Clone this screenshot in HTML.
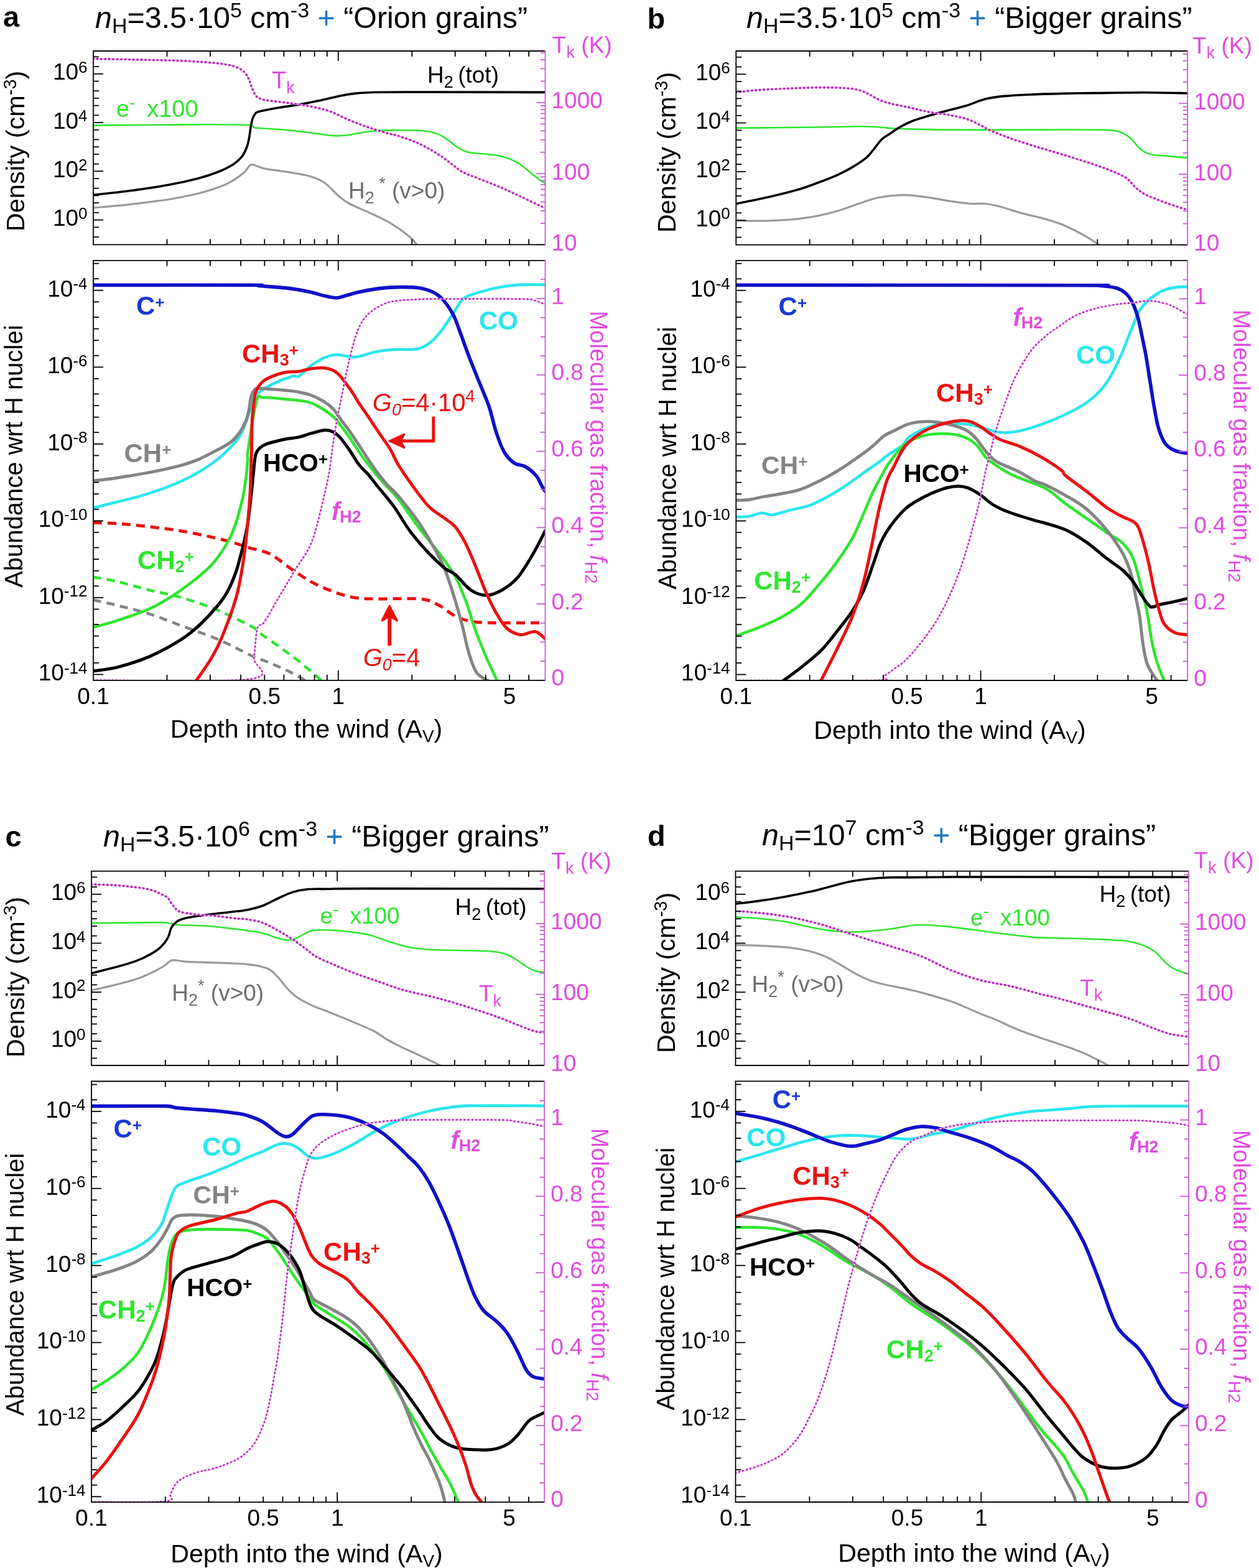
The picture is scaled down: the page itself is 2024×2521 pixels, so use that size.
<!DOCTYPE html>
<html><head><meta charset="utf-8"><title>Figure</title>
<style>html,body{margin:0;padding:0;background:#fff;}svg{display:block;}</style>
</head><body>
<svg xmlns="http://www.w3.org/2000/svg" width="2024" height="2521" viewBox="0 0 2024 2521" font-family='"Liberation Sans", Arial, Helvetica, sans-serif'>
<rect width="2024" height="2521" fill="#fff"/>
<clipPath id="ca1"><rect x="150" y="82" width="726.5" height="311.3"/></clipPath>
<clipPath id="ca2"><rect x="150" y="418.8" width="726.5" height="675"/></clipPath>
<path d="M150 201.6C169.8 201.4 238.3 200.8 269 200.6C299.7 200.4 312.4 200.1 334 200.2C355.6 200.3 386.3 200.2 398.8 201.1C411.3 201.9 405.5 204.3 409 205.2C412.5 206.1 410.7 205.5 420 206.2C429.3 206.9 450.5 208.1 464.7 209.4C478.9 210.8 493 212.8 505.1 214.3C517.2 215.8 528 217.9 537.5 218.3C547 218.7 552.4 217.9 561.8 216.7C571.2 215.5 583.3 212.5 594.1 211.3C604.9 210.1 612.2 209.6 626.5 209.4C640.8 209.2 667 209.1 680 210.2C693 211.3 697.9 213.3 704.7 215.9C711.5 218.5 715.5 222 720.9 225.6C726.3 229.2 731.6 234.5 737 237.7C742.4 240.9 745.1 243.2 753.2 245C761.3 246.8 776.2 247 785.6 248.2C795 249.4 801.7 249.9 809.8 252.3C817.9 254.7 826 257.8 834.1 262.8C842.2 267.8 851.3 276.8 858.4 282.2C865.5 287.6 873.5 293 876.5 295.1" fill="none" stroke="#2ee62e" stroke-width="2.6" stroke-linecap="round" stroke-linejoin="round" clip-path="url(#ca1)"/>
<path d="M150 334C159.1 333.2 184.8 331.3 204.7 329.1C224.6 326.9 250.5 324 269.4 321C288.3 318 304.5 314.5 318 311.3C331.5 308.1 340.9 305.1 350.3 301.6C359.7 298.1 367.6 294.4 374.6 290.3C381.6 286.2 388.3 280.8 392.3 277.3C396.3 273.8 396.6 271.4 398.8 269.3C401 267.2 401.2 264.2 405.5 264.5C409.8 264.8 415.8 269 424.3 270.9C432.8 272.8 444.5 273.7 456.6 275.7C468.7 277.7 486.2 280 497 283C507.8 286 513.2 288 521.3 293.5C529.4 299 538.9 310.5 545.6 316.2C552.4 321.9 553.7 323.2 561.8 327.5C569.9 331.8 583.3 337 594.1 342.1C604.9 347.2 615.7 351.7 626.5 358.2C637.3 364.7 651.2 374.6 658.8 380.9C666.4 387.2 669.8 393.5 672 396" fill="none" stroke="#9a9a9a" stroke-width="3.2" stroke-linecap="round" stroke-linejoin="round" clip-path="url(#ca1)"/>
<path d="M150 313.3C159.1 312.3 184.8 309.9 204.7 307.3C224.6 304.7 250.5 301 269.4 297.6C288.3 294.2 304.5 290.5 318 287C331.5 283.5 340.9 280.3 350.3 276.5C359.7 272.7 368.1 268.6 374.6 264.4C381.1 260.2 385.4 256.2 389.1 251.5C392.8 246.8 395.1 240.9 397 236C398.9 231.1 399.5 227.2 400.5 222C401.5 216.8 402.1 210.2 403 205C403.9 199.8 404.8 194.6 406 191C407.2 187.4 408.3 185.4 410 183.5C411.7 181.6 409.6 181.2 416 179.5C422.4 177.8 437.7 174.9 448.5 173C459.3 171.1 470.1 170.1 480.9 168.2C491.7 166.3 502.4 164 513.2 161.7C524 159.4 536.2 156.3 545.6 154.4C555 152.5 559 151.4 569.8 150.4C580.6 149.4 591.9 148.7 610.3 148.3C628.7 147.9 635.6 148 680 148C724.4 148 843.8 148.3 876.5 148.4" fill="none" stroke="#000" stroke-width="3.6" stroke-linecap="round" stroke-linejoin="round" clip-path="url(#ca1)"/>
<path d="M150 94.6C169.9 95 238.7 96.1 269.4 97C300.1 97.9 317.9 99 334.1 100.2C350.3 101.4 358.4 102.8 366.5 104.3C374.6 105.8 378 106.9 382.6 109.1C387.2 111.2 391 114 394 117.2C397 120.4 398.5 124.4 400.4 128.5C402.3 132.6 403.4 137.7 405.3 142C407.2 146.3 409.4 151.5 411.8 154.4C414.2 157.3 416.6 158.1 420 159.3C423.4 160.5 424.9 160.6 432.4 161.7C439.8 162.8 453.9 164.2 464.7 165.7C475.5 167.2 486.2 168.4 497 170.6C507.8 172.8 518.6 174.9 529.4 178.7C540.2 182.5 551 188.8 561.8 193.2C572.6 197.6 583.3 201.8 594.1 205.4C604.9 209.1 618.9 212.9 626.5 215.1C634.1 217.2 632.4 215.8 640 218.3C647.6 220.9 661.6 225.4 672.4 230.4C683.2 235.4 695.3 242.3 704.7 248.2C714.1 254.1 722.3 261.1 729 266C735.7 270.9 738.4 273.8 745.1 277.3C751.8 280.8 760 283.3 769.4 287.1C778.8 290.9 791 295.4 801.8 300C812.6 304.6 821.6 308.8 834.1 314.6C846.6 320.4 869.4 331.4 876.5 334.8" fill="none" stroke="#f7b4f7" stroke-width="2.5999999999999996" stroke-linecap="round" stroke-linejoin="round" clip-path="url(#ca1)"/>
<path d="M150 94.6C169.9 95 238.7 96.1 269.4 97C300.1 97.9 317.9 99 334.1 100.2C350.3 101.4 358.4 102.8 366.5 104.3C374.6 105.8 378 106.9 382.6 109.1C387.2 111.2 391 114 394 117.2C397 120.4 398.5 124.4 400.4 128.5C402.3 132.6 403.4 137.7 405.3 142C407.2 146.3 409.4 151.5 411.8 154.4C414.2 157.3 416.6 158.1 420 159.3C423.4 160.5 424.9 160.6 432.4 161.7C439.8 162.8 453.9 164.2 464.7 165.7C475.5 167.2 486.2 168.4 497 170.6C507.8 172.8 518.6 174.9 529.4 178.7C540.2 182.5 551 188.8 561.8 193.2C572.6 197.6 583.3 201.8 594.1 205.4C604.9 209.1 618.9 212.9 626.5 215.1C634.1 217.2 632.4 215.8 640 218.3C647.6 220.9 661.6 225.4 672.4 230.4C683.2 235.4 695.3 242.3 704.7 248.2C714.1 254.1 722.3 261.1 729 266C735.7 270.9 738.4 273.8 745.1 277.3C751.8 280.8 760 283.3 769.4 287.1C778.8 290.9 791 295.4 801.8 300C812.6 304.6 821.6 308.8 834.1 314.6C846.6 320.4 869.4 331.4 876.5 334.8" fill="none" stroke="#b226b2" stroke-width="3.9" stroke-linecap="round" stroke-linejoin="round" stroke-dasharray="0 6.45" clip-path="url(#ca1)"/>
<text x="560" y="319.4" font-size="37" fill="#6e6e6e" text-anchor="start" font-weight="normal" font-style="normal">H<tspan font-size="27" dy="8">2</tspan><tspan dy="-8">​</tspan><tspan> </tspan><tspan font-size="27" dy="-15">*</tspan><tspan dy="15">​</tspan> (v&gt;0)</text>
<text x="437" y="141.5" font-size="38" fill="#e04ce0" text-anchor="start" font-weight="normal" font-style="normal">T<tspan font-size="27" dy="8">k</tspan><tspan dy="-8">​</tspan></text>
<text x="687" y="132.6" font-size="37" fill="#000" text-anchor="start" font-weight="normal" font-style="normal">H<tspan font-size="27" dy="8">2</tspan><tspan dy="-8">​</tspan> (tot)</text>
<text x="187" y="187.5" font-size="38" fill="#2ee62e" text-anchor="start" font-weight="normal" font-style="normal">e<tspan font-size="27" dy="-14">-</tspan><tspan dy="14">​</tspan> x100</text>
<path d="M150 964.6C156.7 966.1 175.1 970 190.1 973.8C205.1 977.5 223.5 981.8 240.2 987.1C256.9 992.4 273.6 999.4 290.3 1005.5C307 1011.6 326.5 1018.3 340.4 1023.9C354.3 1029.5 362.7 1033.6 373.8 1038.9C384.9 1044.2 397.3 1051.1 407.2 1055.6C417.1 1060 423.5 1061.4 433.4 1065.6C443.3 1069.8 457 1075.7 466.8 1080.6C476.6 1085.5 487.8 1092.6 492 1095" fill="none" stroke="#848484" stroke-width="4.6" stroke-linecap="butt" stroke-linejoin="round" stroke-dasharray="13 9" clip-path="url(#ca2)"/>
<path d="M150 927.8C156.7 929.1 175.1 931.9 190.1 935.4C205.1 938.9 223.5 944.5 240.2 948.7C256.9 952.9 273.6 955.7 290.3 960.4C307 965.1 326.5 971.8 340.4 977.1C354.3 982.4 362.7 986.8 373.8 992.1C384.9 997.4 400.1 1004.6 407.2 1008.8C414.3 1013 409.5 1011.9 416.7 1017.2C423.9 1022.5 439 1032.5 450.1 1040.6C461.2 1048.7 471.9 1056.2 483.5 1065.6C495.1 1075 513.9 1091.8 520 1097" fill="none" stroke="#2ee62e" stroke-width="4.6" stroke-linecap="butt" stroke-linejoin="round" stroke-dasharray="13 9" clip-path="url(#ca2)"/>
<path d="M150 840.2C156.7 840.5 175.1 840.8 190.1 841.9C205.1 843 223.5 845 240.2 846.9C256.9 848.8 273.6 850.7 290.3 853.5C307 856.3 326.5 860.5 340.4 863.6C354.3 866.7 364.1 869.1 373.8 871.9C383.5 874.7 388.9 877.2 398.8 880.3C408.7 883.4 422.1 884.7 433.4 890.3C444.7 895.9 455.7 906.2 466.8 913.7C477.9 921.2 489.1 929.3 500.2 935.4C511.3 941.5 522.5 946.2 533.6 950.4C544.7 954.6 555.9 958.3 567 960.4C578.1 962.5 588.2 962.5 600.4 962.9C612.6 963.2 626.5 962.4 640 962.5C653.5 962.6 670.6 961.8 681.7 963.7C692.8 965.6 698.4 969.3 706.8 973.8C715.1 978.3 723.4 986.3 731.8 990.5C740.1 994.7 747.1 997 756.9 998.8C766.6 1000.6 770.4 1000.9 790.3 1001.3C810.2 1001.7 862.1 1001.3 876.5 1001.3" fill="none" stroke="#ec1010" stroke-width="5" stroke-linecap="butt" stroke-linejoin="round" stroke-dasharray="14 9" clip-path="url(#ca2)"/>
<path d="M150 816.4C156.4 814.8 174 810.7 188.5 807C203 803.3 220.8 799.2 237 794.1C253.2 789 272.1 782 285.6 776.3C299.1 770.6 307.1 766.5 317.9 760.1C328.7 753.7 340.9 745.5 350.3 738C359.8 730.5 368.7 721.3 374.6 715C380.6 708.7 382.6 705.8 386 700C389.4 694.2 392.5 686.3 395 680C397.5 673.7 399 668.3 401 662C403 655.7 404.7 647 407 642C409.3 637 409.4 636.3 415 632C420.6 627.7 431.3 620.9 440.5 616.4C449.7 611.9 463.4 606.9 470 605C476.6 603.1 474.9 607.8 480 604.9C485.1 602 493.6 592.5 500.4 587.6C507.2 582.7 514 578.2 520.8 575.3C527.6 572.4 534.4 570.5 541.2 570.2C548 569.9 555.7 572.8 561.6 573.3C567.5 573.8 570.1 574.5 576.9 573.3C583.7 572.1 593 568 602.4 566.1C611.8 564.2 622.8 562.7 633.1 562C643.4 561.3 656.4 562.5 664.3 561.8C672.2 561.1 675.2 560.3 680.6 557.7C686 555.1 691.4 551.4 696.8 546.3C702.2 541.2 707.6 534.2 713 526.9C718.4 519.6 723.9 510.4 729.3 502.5C734.7 494.6 738.8 485.2 745.5 479.8C752.2 474.4 760.3 473.1 769.8 470.1C779.3 467.1 791.5 463.9 802.3 461.9C813.1 459.9 822.4 458.6 834.8 457.9C847.2 457.2 869.5 457.9 876.5 457.9" fill="none" stroke="#2ae6ee" stroke-width="4.6" stroke-linecap="round" stroke-linejoin="round" clip-path="url(#ca2)"/>
<path d="M150 1008.8C156.7 1006.8 175.1 1002.1 190.1 997.1C205.1 992.1 226.3 984.9 240.2 978.8C254.1 972.7 262.5 967.4 273.6 960.4C284.7 953.4 295.9 945.7 307 937C318.1 928.3 330.2 919.1 340 908.4C349.8 897.7 359 883.8 365.5 872.7C372 861.6 374.7 853.9 378.8 842C382.9 830.1 387.3 813.1 390 801.2C392.7 789.3 393.7 780.8 395.1 770.6C396.5 760.4 397.6 748.1 398.2 740C398.8 731.9 396.6 738.1 399 722.2C401.4 706.3 408.3 658.4 412.3 644.6C416.3 630.8 418.1 640.1 422.9 639.3C427.7 638.5 434 639.5 441 640C448 640.5 458.4 641.9 464.9 642.5C471.4 643.1 474.1 642.8 480 643.7C485.9 644.6 493.6 645.2 500.4 647.8C507.2 650.3 514.8 655.3 520.8 659C526.8 662.7 531.9 666.3 536.1 670.2C540.4 674.1 542 677 546.3 682.4C550.5 687.8 555.6 694.4 561.6 702.9C567.6 711.4 575.2 724 582 733.5C588.8 743 596.1 752.2 602.4 760C608.7 767.8 613.5 773 619.8 780C626.1 787 631.1 790.4 640 801.8C648.9 813.2 662.3 833.8 673.4 848.5C684.5 863.2 697.1 877.2 706.8 890.3C716.5 903.4 724.8 914.5 731.8 927C738.8 939.5 742.9 950.6 748.5 965.4C754.1 980.1 759.6 1000.2 765.2 1015.5C770.8 1030.8 775.9 1043.5 781.9 1057.2C787.9 1071 797.8 1091.2 801 1098" fill="none" stroke="#2ee62e" stroke-width="4.6" stroke-linecap="round" stroke-linejoin="round" clip-path="url(#ca2)"/>
<path d="M150 773.1C156.4 772.3 174 770.4 188.5 768.2C203 766 220.8 763.2 237 760.1C253.2 757 272.1 753.1 285.6 749.6C299.1 746.1 307.1 743.6 317.9 739.1C328.7 734.6 341.6 727.5 350.3 722.9C359 718.3 364.2 716.1 370 711.6C375.8 707.1 380.9 701.3 385 695.7C389.1 690.1 392.2 684 394.7 678.1C397.2 672.2 398.5 667.1 400 660.5C401.5 653.9 402 644.1 403.5 638.5C405 632.9 406.8 629.4 408.8 627C410.9 624.6 410.5 624.5 415.8 624.4C421.1 624.2 431.5 625.4 440.5 626.1C449.5 626.8 463.4 628.1 470 628.8C476.6 629.5 474.9 629.3 480 630.4C485.1 631.5 493.6 633 500.4 635.5C507.2 638 514.8 642 520.8 645.7C526.8 649.5 531.9 653.6 536.1 658C540.4 662.4 542 666.4 546.3 672.2C550.5 678 555.6 684.2 561.6 692.7C567.6 701.2 575.2 713.1 582 723.3C588.8 733.5 595.6 744.4 602.4 753.9C609.2 763.4 616.6 772.8 622.9 780C629.2 787.2 631.6 787 640 797C648.4 807 663.7 826.1 673.4 840.2C683.1 854.4 691.4 869.4 698.4 881.9C705.4 894.4 709.5 901.4 715.1 915.3C720.7 929.2 727.1 950.1 731.8 965.4C736.5 980.7 739.9 993.3 743.5 1007.2C747.1 1021.1 749.6 1036.4 753.5 1048.9C757.4 1061.4 760.5 1074.1 766.9 1082.3C773.3 1090.5 787.8 1095.4 792 1098" fill="none" stroke="#848484" stroke-width="5" stroke-linecap="round" stroke-linejoin="round" clip-path="url(#ca2)"/>
<path d="M150 1079C156.7 1077.9 175.1 1076.2 190.1 1072.3C205.1 1068.4 223.5 1062.8 240.2 1055.6C256.9 1048.4 276.4 1037.8 290.3 1028.9C304.2 1020 312 1013.6 323.7 1002.1C335.4 990.6 351.4 973.1 360.4 960C369.4 946.9 373.4 934.9 377.8 923.7C382.2 912.5 384.5 901.5 386.9 893C389.3 884.5 390.1 881.2 392 872.7C393.9 864.2 396.1 855.6 398.2 842C400.2 828.4 402.8 804.3 404.3 791C405.8 777.7 406.5 770.2 407.3 762C408.1 753.8 408.5 747.5 409.2 742C409.9 736.5 410.2 732.8 411.6 729.3C413 725.8 414.4 723.3 417.3 720.7C420.2 718.1 422.1 716.1 428.9 713.7C435.6 711.3 449.3 708 457.8 706.2C466.3 704.4 472.9 704.5 480 702.9C487.1 701.3 493.2 698.6 500.4 696.7C507.5 694.8 516.9 691.9 522.9 691.6C528.9 691.3 532.2 692.8 536.1 694.7C540 696.6 542 698.1 546.3 702.9C550.5 707.7 556.5 716 561.6 723.3C566.7 730.6 571.8 740.1 576.9 746.7C582 753.3 587.4 757.6 592.2 763.1C597 768.6 598.6 771.3 605.5 780C612.4 788.7 624.9 802.9 633.8 815.1C642.7 827.4 649.4 841 658.8 853.5C668.2 866 680.7 880.3 690.1 890.3C699.5 900.3 708.2 908.1 715.1 913.7C722 919.3 724.8 917.9 731.8 923.7C738.8 929.5 748.5 943.1 756.9 948.7C765.2 954.3 773.5 957.1 781.9 957.1C790.2 957.1 798.6 953.4 807 948.7C815.4 944 823.6 938.4 832 928.7C840.4 919 849.7 902.8 857.1 890.3C864.5 877.8 873.3 859.6 876.5 853.5" fill="none" stroke="#000" stroke-width="5" stroke-linecap="round" stroke-linejoin="round" clip-path="url(#ca2)"/>
<path d="M313.6 1097C318.1 1090.4 333.2 1069.4 340.4 1057.2C347.6 1045 350.4 1040.1 357 1023.9C363.6 1007.7 374.1 980.1 379.8 960C385.5 939.9 387.9 923 391 903.3C394.1 883.6 396.3 860.7 398.2 842C400.1 823.3 401.3 808 402.2 791C403.1 774 403.4 751.5 403.8 740C404.2 728.5 404.3 732.3 404.5 722C404.7 711.7 404.5 691.3 405.2 678.1C405.9 664.9 407.8 651 408.8 642.9C409.8 634.8 409.6 634 411.4 629.6C413.1 625.2 415.9 620.1 419.3 616.4C422.7 612.7 425.2 610.5 431.7 607.6C438.2 604.7 450.1 600.5 458.1 598.8C466.2 597.1 472.9 598.2 480 597.2C487.1 596.2 493.6 593.6 500.4 592.7C507.2 591.8 514.8 591.1 520.8 591.6C526.8 592.1 531.9 593.7 536.1 595.7C540.4 597.8 542.9 600.3 546.3 603.9C549.7 607.5 553.1 612.5 556.5 617.1C559.9 621.7 563.3 626.3 566.7 631.4C570.1 636.5 572.6 641.3 576.9 647.8C581.1 654.3 586.2 661.4 592.2 670.2C598.2 679 606.7 691.9 612.7 700.8C618.7 709.6 623.5 715.6 628 723.3C632.5 730.9 633.8 736.7 640 746.7C646.2 756.7 656.6 772 665 783.4C673.4 794.8 681.8 806.8 690.1 815.1C698.5 823.5 708.2 828.2 715.1 833.5C722 838.8 726.2 840.2 731.8 846.9C737.4 853.6 742.9 862.8 748.5 873.6C754.1 884.5 759.6 898.6 765.2 912C770.8 925.4 776.3 941.2 781.9 953.7C787.5 966.2 793 977.6 798.6 987.1C804.2 996.6 808.9 1004.9 815.3 1010.5C821.7 1016.1 829.5 1019.7 837 1020.5C844.5 1021.3 853.8 1014.4 860.4 1015.5C867 1016.6 873.8 1025.2 876.5 1027.2" fill="none" stroke="#ec1010" stroke-width="5" stroke-linecap="round" stroke-linejoin="round" clip-path="url(#ca2)"/>
<path d="M150 458.4C191.6 458.4 355.3 458.2 399.7 458.4C444.1 458.6 405.3 458.6 416.2 459.5C427.1 460.4 451.4 462 464.9 463.6C478.4 465.2 487.9 467.2 497.4 469.2C506.9 471.2 514.4 474.1 521.7 475.7C529 477.3 535.8 479 541.2 479C546.6 479 548 477.3 554.2 475.7C560.4 474.1 569 471.2 578.5 469.2C588 467.2 600.2 464.9 611 463.6C621.8 462.3 633.2 461.7 643.5 461.6C653.8 461.5 663.6 461.4 672.5 462.8C681.4 464.2 690 466.7 696.8 470.1C703.5 473.5 707.6 476.8 713 483C718.4 489.2 724.7 498.5 729.3 507.4C733.9 516.3 736.5 525.8 740.6 536.6C744.7 547.4 748.7 559.6 753.6 572.3C758.5 585 764.4 599.4 769.8 612.9C775.2 626.4 781.5 640 786.1 653.5C790.7 667 793.4 681.8 797.4 694C801.4 706.2 805.5 718.1 810.4 726.5C815.3 734.9 820.9 740.4 826.7 744.4C832.5 748.4 839.1 747.1 845 750.5C850.9 753.9 857.9 760.1 862.1 765C866.3 769.9 868 775.9 870.4 780.1C872.8 784.3 875.5 788.4 876.5 790.1" fill="none" stroke="#1010c8" stroke-width="5.6" stroke-linecap="round" stroke-linejoin="round" clip-path="url(#ca2)"/>
<path d="M150 1093.7C191.9 1093.4 358.3 1097.9 401.4 1091.8C444.4 1085.8 406.2 1070.8 408.3 1057.2C410.4 1043.6 411 1019.5 413.8 1010C416.6 1000.5 418.9 1008.8 425 1000C431.1 991.2 441.8 971.2 450.1 957.1C458.5 943 466.8 929.2 475.1 915.3C483.5 901.4 493.2 890.3 500.2 873.6C507.2 856.9 512.1 834 516.9 815.1C521.7 796.2 526 776.1 529 760C532 743.9 532.7 732.1 534.7 718.4C536.7 704.7 538.8 691.3 541.2 677.8C543.6 664.3 546.6 650.7 549.3 637.2C552 623.7 554.4 610.2 557.4 596.7C560.4 583.2 563.7 568.3 567.2 556.1C570.7 543.9 573.9 532.5 578.5 523.6C583.1 514.7 588 508.4 594.8 502.5C601.6 496.6 611 491.1 619.1 487.9C627.2 484.6 633.4 484.1 643.5 483C653.6 481.9 669.8 481.4 680 481C690.2 480.6 679.1 480.7 704.9 480.6C730.7 480.5 809.1 480.2 834.8 480.6C860.5 481 852.1 481.5 859.1 483C866.1 484.5 873.6 488.4 876.5 489.5" fill="none" stroke="#f7b4f7" stroke-width="2.2" stroke-linecap="round" stroke-linejoin="round" clip-path="url(#ca2)"/>
<path d="M150 1093.7C191.9 1093.4 358.3 1097.9 401.4 1091.8C444.4 1085.8 406.2 1070.8 408.3 1057.2C410.4 1043.6 411 1019.5 413.8 1010C416.6 1000.5 418.9 1008.8 425 1000C431.1 991.2 441.8 971.2 450.1 957.1C458.5 943 466.8 929.2 475.1 915.3C483.5 901.4 493.2 890.3 500.2 873.6C507.2 856.9 512.1 834 516.9 815.1C521.7 796.2 526 776.1 529 760C532 743.9 532.7 732.1 534.7 718.4C536.7 704.7 538.8 691.3 541.2 677.8C543.6 664.3 546.6 650.7 549.3 637.2C552 623.7 554.4 610.2 557.4 596.7C560.4 583.2 563.7 568.3 567.2 556.1C570.7 543.9 573.9 532.5 578.5 523.6C583.1 514.7 588 508.4 594.8 502.5C601.6 496.6 611 491.1 619.1 487.9C627.2 484.6 633.4 484.1 643.5 483C653.6 481.9 669.8 481.4 680 481C690.2 480.6 679.1 480.7 704.9 480.6C730.7 480.5 809.1 480.2 834.8 480.6C860.5 481 852.1 481.5 859.1 483C866.1 484.5 873.6 488.4 876.5 489.5" fill="none" stroke="#b226b2" stroke-width="3.2" stroke-linecap="round" stroke-linejoin="round" stroke-dasharray="0 6.2" clip-path="url(#ca2)"/>
<path d="M696.8 669.7 L696.8 709 L640 709" fill="none" stroke="#ec1010" stroke-width="5"/>
<path d="M626 709 L650 698 L644 709 L650 720 Z" fill="#ec1010" stroke="#ec1010" stroke-width="3" stroke-linejoin="round"/>
<path d="M626.2 1038 L626.2 990" fill="none" stroke="#ec1010" stroke-width="6"/>
<path d="M626.2 974 L638.5 998 L626.2 991 L614 998 Z" fill="#ec1010" stroke="#ec1010" stroke-width="3" stroke-linejoin="round"/>
<text x="219" y="505.8" font-size="42" fill="#1838d6" text-anchor="start" font-weight="bold" font-style="normal">C<tspan font-size="26" dy="-11">+</tspan><tspan dy="11">​</tspan></text>
<text x="770" y="530" font-size="42" fill="#2ae6ee" text-anchor="start" font-weight="bold" font-style="normal">CO</text>
<text x="199.5" y="743" font-size="42" fill="#848484" text-anchor="start" font-weight="bold" font-style="normal">CH<tspan font-size="26" dy="-11">+</tspan><tspan dy="11">​</tspan></text>
<text x="389" y="583" font-size="42" fill="#ec1010" text-anchor="start" font-weight="bold" font-style="normal">CH<tspan font-size="27" dy="5">3</tspan><tspan dy="-5">​</tspan><tspan font-size="26" dy="-11">+</tspan><tspan dy="11">​</tspan></text>
<text x="423" y="758.4" font-size="40" fill="#000" text-anchor="start" font-weight="bold" font-style="normal">HCO<tspan font-size="26" dy="-11">+</tspan><tspan dy="11">​</tspan></text>
<text x="221" y="914.5" font-size="42" fill="#2ee62e" text-anchor="start" font-weight="bold" font-style="normal">CH<tspan font-size="27" dy="5">2</tspan><tspan dy="-5">​</tspan><tspan font-size="26" dy="-11">+</tspan><tspan dy="11">​</tspan></text>
<text x="533" y="836" font-size="40" fill="#e04ce0" text-anchor="start" font-weight="bold" font-style="normal"><tspan font-style="italic">f</tspan><tspan font-size="27" dy="4">H2</tspan><tspan dy="-4">​</tspan></text>
<text x="598.8" y="660.8" font-size="40" fill="#ec1010" text-anchor="start" font-weight="normal" font-style="normal"><tspan font-style="italic">G</tspan><tspan font-size="27" dy="7" font-style="italic">0</tspan><tspan dy="-7">​</tspan>=4·10<tspan font-size="27" dy="-15">4</tspan><tspan dy="15">​</tspan></text>
<text x="583.7" y="1071.4" font-size="40" fill="#ec1010" text-anchor="start" font-weight="normal" font-style="normal"><tspan font-style="italic">G</tspan><tspan font-size="27" dy="7" font-style="italic">0</tspan><tspan dy="-7">​</tspan>=4</text>
<line x1="268.5" y1="393.3" x2="268.5" y2="384.3" stroke="#000" stroke-width="1.8" stroke-linecap="butt"/>
<line x1="268.5" y1="82" x2="268.5" y2="91" stroke="#000" stroke-width="1.8" stroke-linecap="butt"/>
<line x1="337.9" y1="393.3" x2="337.9" y2="384.3" stroke="#000" stroke-width="1.8" stroke-linecap="butt"/>
<line x1="337.9" y1="82" x2="337.9" y2="91" stroke="#000" stroke-width="1.8" stroke-linecap="butt"/>
<line x1="387.1" y1="393.3" x2="387.1" y2="384.3" stroke="#000" stroke-width="1.8" stroke-linecap="butt"/>
<line x1="387.1" y1="82" x2="387.1" y2="91" stroke="#000" stroke-width="1.8" stroke-linecap="butt"/>
<line x1="425.3" y1="393.3" x2="425.3" y2="384.3" stroke="#000" stroke-width="1.8" stroke-linecap="butt"/>
<line x1="425.3" y1="82" x2="425.3" y2="91" stroke="#000" stroke-width="1.8" stroke-linecap="butt"/>
<line x1="456.4" y1="393.3" x2="456.4" y2="384.3" stroke="#000" stroke-width="1.8" stroke-linecap="butt"/>
<line x1="456.4" y1="82" x2="456.4" y2="91" stroke="#000" stroke-width="1.8" stroke-linecap="butt"/>
<line x1="482.8" y1="393.3" x2="482.8" y2="384.3" stroke="#000" stroke-width="1.8" stroke-linecap="butt"/>
<line x1="482.8" y1="82" x2="482.8" y2="91" stroke="#000" stroke-width="1.8" stroke-linecap="butt"/>
<line x1="505.6" y1="393.3" x2="505.6" y2="384.3" stroke="#000" stroke-width="1.8" stroke-linecap="butt"/>
<line x1="505.6" y1="82" x2="505.6" y2="91" stroke="#000" stroke-width="1.8" stroke-linecap="butt"/>
<line x1="525.8" y1="393.3" x2="525.8" y2="384.3" stroke="#000" stroke-width="1.8" stroke-linecap="butt"/>
<line x1="525.8" y1="82" x2="525.8" y2="91" stroke="#000" stroke-width="1.8" stroke-linecap="butt"/>
<line x1="543.8" y1="393.3" x2="543.8" y2="377.3" stroke="#000" stroke-width="1.8" stroke-linecap="butt"/>
<line x1="543.8" y1="82" x2="543.8" y2="98" stroke="#000" stroke-width="1.8" stroke-linecap="butt"/>
<line x1="662.3" y1="393.3" x2="662.3" y2="384.3" stroke="#000" stroke-width="1.8" stroke-linecap="butt"/>
<line x1="662.3" y1="82" x2="662.3" y2="91" stroke="#000" stroke-width="1.8" stroke-linecap="butt"/>
<line x1="731.7" y1="393.3" x2="731.7" y2="384.3" stroke="#000" stroke-width="1.8" stroke-linecap="butt"/>
<line x1="731.7" y1="82" x2="731.7" y2="91" stroke="#000" stroke-width="1.8" stroke-linecap="butt"/>
<line x1="780.9" y1="393.3" x2="780.9" y2="384.3" stroke="#000" stroke-width="1.8" stroke-linecap="butt"/>
<line x1="780.9" y1="82" x2="780.9" y2="91" stroke="#000" stroke-width="1.8" stroke-linecap="butt"/>
<line x1="819.1" y1="393.3" x2="819.1" y2="384.3" stroke="#000" stroke-width="1.8" stroke-linecap="butt"/>
<line x1="819.1" y1="82" x2="819.1" y2="91" stroke="#000" stroke-width="1.8" stroke-linecap="butt"/>
<line x1="850.2" y1="393.3" x2="850.2" y2="384.3" stroke="#000" stroke-width="1.8" stroke-linecap="butt"/>
<line x1="850.2" y1="82" x2="850.2" y2="91" stroke="#000" stroke-width="1.8" stroke-linecap="butt"/>
<line x1="268.5" y1="1093.8" x2="268.5" y2="1084.8" stroke="#000" stroke-width="1.8" stroke-linecap="butt"/>
<line x1="268.5" y1="418.8" x2="268.5" y2="427.8" stroke="#000" stroke-width="1.8" stroke-linecap="butt"/>
<line x1="337.9" y1="1093.8" x2="337.9" y2="1084.8" stroke="#000" stroke-width="1.8" stroke-linecap="butt"/>
<line x1="337.9" y1="418.8" x2="337.9" y2="427.8" stroke="#000" stroke-width="1.8" stroke-linecap="butt"/>
<line x1="387.1" y1="1093.8" x2="387.1" y2="1084.8" stroke="#000" stroke-width="1.8" stroke-linecap="butt"/>
<line x1="387.1" y1="418.8" x2="387.1" y2="427.8" stroke="#000" stroke-width="1.8" stroke-linecap="butt"/>
<line x1="425.3" y1="1093.8" x2="425.3" y2="1084.8" stroke="#000" stroke-width="1.8" stroke-linecap="butt"/>
<line x1="425.3" y1="418.8" x2="425.3" y2="427.8" stroke="#000" stroke-width="1.8" stroke-linecap="butt"/>
<line x1="456.4" y1="1093.8" x2="456.4" y2="1084.8" stroke="#000" stroke-width="1.8" stroke-linecap="butt"/>
<line x1="456.4" y1="418.8" x2="456.4" y2="427.8" stroke="#000" stroke-width="1.8" stroke-linecap="butt"/>
<line x1="482.8" y1="1093.8" x2="482.8" y2="1084.8" stroke="#000" stroke-width="1.8" stroke-linecap="butt"/>
<line x1="482.8" y1="418.8" x2="482.8" y2="427.8" stroke="#000" stroke-width="1.8" stroke-linecap="butt"/>
<line x1="505.6" y1="1093.8" x2="505.6" y2="1084.8" stroke="#000" stroke-width="1.8" stroke-linecap="butt"/>
<line x1="505.6" y1="418.8" x2="505.6" y2="427.8" stroke="#000" stroke-width="1.8" stroke-linecap="butt"/>
<line x1="525.8" y1="1093.8" x2="525.8" y2="1084.8" stroke="#000" stroke-width="1.8" stroke-linecap="butt"/>
<line x1="525.8" y1="418.8" x2="525.8" y2="427.8" stroke="#000" stroke-width="1.8" stroke-linecap="butt"/>
<line x1="543.8" y1="1093.8" x2="543.8" y2="1077.8" stroke="#000" stroke-width="1.8" stroke-linecap="butt"/>
<line x1="543.8" y1="418.8" x2="543.8" y2="434.8" stroke="#000" stroke-width="1.8" stroke-linecap="butt"/>
<line x1="662.3" y1="1093.8" x2="662.3" y2="1084.8" stroke="#000" stroke-width="1.8" stroke-linecap="butt"/>
<line x1="662.3" y1="418.8" x2="662.3" y2="427.8" stroke="#000" stroke-width="1.8" stroke-linecap="butt"/>
<line x1="731.7" y1="1093.8" x2="731.7" y2="1084.8" stroke="#000" stroke-width="1.8" stroke-linecap="butt"/>
<line x1="731.7" y1="418.8" x2="731.7" y2="427.8" stroke="#000" stroke-width="1.8" stroke-linecap="butt"/>
<line x1="780.9" y1="1093.8" x2="780.9" y2="1084.8" stroke="#000" stroke-width="1.8" stroke-linecap="butt"/>
<line x1="780.9" y1="418.8" x2="780.9" y2="427.8" stroke="#000" stroke-width="1.8" stroke-linecap="butt"/>
<line x1="819.1" y1="1093.8" x2="819.1" y2="1084.8" stroke="#000" stroke-width="1.8" stroke-linecap="butt"/>
<line x1="819.1" y1="418.8" x2="819.1" y2="427.8" stroke="#000" stroke-width="1.8" stroke-linecap="butt"/>
<line x1="850.2" y1="1093.8" x2="850.2" y2="1084.8" stroke="#000" stroke-width="1.8" stroke-linecap="butt"/>
<line x1="850.2" y1="418.8" x2="850.2" y2="427.8" stroke="#000" stroke-width="1.8" stroke-linecap="butt"/>
<line x1="150" y1="381" x2="159" y2="381" stroke="#000" stroke-width="1.8" stroke-linecap="butt"/>
<line x1="150" y1="365.4" x2="159" y2="365.4" stroke="#000" stroke-width="1.8" stroke-linecap="butt"/>
<line x1="150" y1="353.6" x2="166" y2="353.6" stroke="#000" stroke-width="1.8" stroke-linecap="butt"/>
<line x1="150" y1="341.8" x2="159" y2="341.8" stroke="#000" stroke-width="1.8" stroke-linecap="butt"/>
<line x1="150" y1="326.2" x2="159" y2="326.2" stroke="#000" stroke-width="1.8" stroke-linecap="butt"/>
<line x1="150" y1="314.5" x2="159" y2="314.5" stroke="#000" stroke-width="1.8" stroke-linecap="butt"/>
<line x1="150" y1="302.7" x2="159" y2="302.7" stroke="#000" stroke-width="1.8" stroke-linecap="butt"/>
<line x1="150" y1="287.1" x2="159" y2="287.1" stroke="#000" stroke-width="1.8" stroke-linecap="butt"/>
<line x1="150" y1="275.3" x2="166" y2="275.3" stroke="#000" stroke-width="1.8" stroke-linecap="butt"/>
<line x1="150" y1="263.6" x2="159" y2="263.6" stroke="#000" stroke-width="1.8" stroke-linecap="butt"/>
<line x1="150" y1="248" x2="159" y2="248" stroke="#000" stroke-width="1.8" stroke-linecap="butt"/>
<line x1="150" y1="236.2" x2="159" y2="236.2" stroke="#000" stroke-width="1.8" stroke-linecap="butt"/>
<line x1="150" y1="224.4" x2="159" y2="224.4" stroke="#000" stroke-width="1.8" stroke-linecap="butt"/>
<line x1="150" y1="208.8" x2="159" y2="208.8" stroke="#000" stroke-width="1.8" stroke-linecap="butt"/>
<line x1="150" y1="197.1" x2="166" y2="197.1" stroke="#000" stroke-width="1.8" stroke-linecap="butt"/>
<line x1="150" y1="185.3" x2="159" y2="185.3" stroke="#000" stroke-width="1.8" stroke-linecap="butt"/>
<line x1="150" y1="169.7" x2="159" y2="169.7" stroke="#000" stroke-width="1.8" stroke-linecap="butt"/>
<line x1="150" y1="157.9" x2="159" y2="157.9" stroke="#000" stroke-width="1.8" stroke-linecap="butt"/>
<line x1="150" y1="146.2" x2="159" y2="146.2" stroke="#000" stroke-width="1.8" stroke-linecap="butt"/>
<line x1="150" y1="130.6" x2="159" y2="130.6" stroke="#000" stroke-width="1.8" stroke-linecap="butt"/>
<line x1="150" y1="118.8" x2="166" y2="118.8" stroke="#000" stroke-width="1.8" stroke-linecap="butt"/>
<line x1="150" y1="107" x2="159" y2="107" stroke="#000" stroke-width="1.8" stroke-linecap="butt"/>
<line x1="150" y1="91.4" x2="159" y2="91.4" stroke="#000" stroke-width="1.8" stroke-linecap="butt"/>
<line x1="150" y1="1084.4" x2="166" y2="1084.4" stroke="#000" stroke-width="1.8" stroke-linecap="butt"/>
<line x1="150" y1="1065.8" x2="159" y2="1065.8" stroke="#000" stroke-width="1.8" stroke-linecap="butt"/>
<line x1="150" y1="1041.2" x2="159" y2="1041.2" stroke="#000" stroke-width="1.8" stroke-linecap="butt"/>
<line x1="150" y1="1022.6" x2="159" y2="1022.6" stroke="#000" stroke-width="1.8" stroke-linecap="butt"/>
<line x1="150" y1="1004" x2="159" y2="1004" stroke="#000" stroke-width="1.8" stroke-linecap="butt"/>
<line x1="150" y1="979.5" x2="159" y2="979.5" stroke="#000" stroke-width="1.8" stroke-linecap="butt"/>
<line x1="150" y1="960.9" x2="166" y2="960.9" stroke="#000" stroke-width="1.8" stroke-linecap="butt"/>
<line x1="150" y1="942.3" x2="159" y2="942.3" stroke="#000" stroke-width="1.8" stroke-linecap="butt"/>
<line x1="150" y1="917.7" x2="159" y2="917.7" stroke="#000" stroke-width="1.8" stroke-linecap="butt"/>
<line x1="150" y1="899.1" x2="159" y2="899.1" stroke="#000" stroke-width="1.8" stroke-linecap="butt"/>
<line x1="150" y1="880.5" x2="159" y2="880.5" stroke="#000" stroke-width="1.8" stroke-linecap="butt"/>
<line x1="150" y1="856" x2="159" y2="856" stroke="#000" stroke-width="1.8" stroke-linecap="butt"/>
<line x1="150" y1="837.4" x2="166" y2="837.4" stroke="#000" stroke-width="1.8" stroke-linecap="butt"/>
<line x1="150" y1="818.8" x2="159" y2="818.8" stroke="#000" stroke-width="1.8" stroke-linecap="butt"/>
<line x1="150" y1="794.2" x2="159" y2="794.2" stroke="#000" stroke-width="1.8" stroke-linecap="butt"/>
<line x1="150" y1="775.6" x2="159" y2="775.6" stroke="#000" stroke-width="1.8" stroke-linecap="butt"/>
<line x1="150" y1="757" x2="159" y2="757" stroke="#000" stroke-width="1.8" stroke-linecap="butt"/>
<line x1="150" y1="732.4" x2="159" y2="732.4" stroke="#000" stroke-width="1.8" stroke-linecap="butt"/>
<line x1="150" y1="713.8" x2="166" y2="713.8" stroke="#000" stroke-width="1.8" stroke-linecap="butt"/>
<line x1="150" y1="695.2" x2="159" y2="695.2" stroke="#000" stroke-width="1.8" stroke-linecap="butt"/>
<line x1="150" y1="670.7" x2="159" y2="670.7" stroke="#000" stroke-width="1.8" stroke-linecap="butt"/>
<line x1="150" y1="652.1" x2="159" y2="652.1" stroke="#000" stroke-width="1.8" stroke-linecap="butt"/>
<line x1="150" y1="633.5" x2="159" y2="633.5" stroke="#000" stroke-width="1.8" stroke-linecap="butt"/>
<line x1="150" y1="608.9" x2="159" y2="608.9" stroke="#000" stroke-width="1.8" stroke-linecap="butt"/>
<line x1="150" y1="590.3" x2="166" y2="590.3" stroke="#000" stroke-width="1.8" stroke-linecap="butt"/>
<line x1="150" y1="571.7" x2="159" y2="571.7" stroke="#000" stroke-width="1.8" stroke-linecap="butt"/>
<line x1="150" y1="547.2" x2="159" y2="547.2" stroke="#000" stroke-width="1.8" stroke-linecap="butt"/>
<line x1="150" y1="528.6" x2="159" y2="528.6" stroke="#000" stroke-width="1.8" stroke-linecap="butt"/>
<line x1="150" y1="510" x2="159" y2="510" stroke="#000" stroke-width="1.8" stroke-linecap="butt"/>
<line x1="150" y1="485.4" x2="159" y2="485.4" stroke="#000" stroke-width="1.8" stroke-linecap="butt"/>
<line x1="150" y1="466.8" x2="166" y2="466.8" stroke="#000" stroke-width="1.8" stroke-linecap="butt"/>
<line x1="150" y1="448.2" x2="159" y2="448.2" stroke="#000" stroke-width="1.8" stroke-linecap="butt"/>
<line x1="150" y1="423.6" x2="159" y2="423.6" stroke="#000" stroke-width="1.8" stroke-linecap="butt"/>
<line x1="862.5" y1="393.5" x2="876.5" y2="393.5" stroke="#c45ccc" stroke-width="1.8" stroke-linecap="butt"/>
<line x1="869" y1="359.1" x2="876.5" y2="359.1" stroke="#c45ccc" stroke-width="1.8" stroke-linecap="butt"/>
<line x1="869" y1="339" x2="876.5" y2="339" stroke="#c45ccc" stroke-width="1.8" stroke-linecap="butt"/>
<line x1="869" y1="324.7" x2="876.5" y2="324.7" stroke="#c45ccc" stroke-width="1.8" stroke-linecap="butt"/>
<line x1="869" y1="313.6" x2="876.5" y2="313.6" stroke="#c45ccc" stroke-width="1.8" stroke-linecap="butt"/>
<line x1="869" y1="304.6" x2="876.5" y2="304.6" stroke="#c45ccc" stroke-width="1.8" stroke-linecap="butt"/>
<line x1="869" y1="296.9" x2="876.5" y2="296.9" stroke="#c45ccc" stroke-width="1.8" stroke-linecap="butt"/>
<line x1="869" y1="290.3" x2="876.5" y2="290.3" stroke="#c45ccc" stroke-width="1.8" stroke-linecap="butt"/>
<line x1="869" y1="284.4" x2="876.5" y2="284.4" stroke="#c45ccc" stroke-width="1.8" stroke-linecap="butt"/>
<line x1="862.5" y1="279.2" x2="876.5" y2="279.2" stroke="#c45ccc" stroke-width="1.8" stroke-linecap="butt"/>
<line x1="869" y1="244.8" x2="876.5" y2="244.8" stroke="#c45ccc" stroke-width="1.8" stroke-linecap="butt"/>
<line x1="869" y1="224.7" x2="876.5" y2="224.7" stroke="#c45ccc" stroke-width="1.8" stroke-linecap="butt"/>
<line x1="869" y1="210.4" x2="876.5" y2="210.4" stroke="#c45ccc" stroke-width="1.8" stroke-linecap="butt"/>
<line x1="869" y1="199.3" x2="876.5" y2="199.3" stroke="#c45ccc" stroke-width="1.8" stroke-linecap="butt"/>
<line x1="869" y1="190.3" x2="876.5" y2="190.3" stroke="#c45ccc" stroke-width="1.8" stroke-linecap="butt"/>
<line x1="869" y1="182.6" x2="876.5" y2="182.6" stroke="#c45ccc" stroke-width="1.8" stroke-linecap="butt"/>
<line x1="869" y1="176" x2="876.5" y2="176" stroke="#c45ccc" stroke-width="1.8" stroke-linecap="butt"/>
<line x1="869" y1="170.1" x2="876.5" y2="170.1" stroke="#c45ccc" stroke-width="1.8" stroke-linecap="butt"/>
<line x1="862.5" y1="164.9" x2="876.5" y2="164.9" stroke="#c45ccc" stroke-width="1.8" stroke-linecap="butt"/>
<line x1="869" y1="130.5" x2="876.5" y2="130.5" stroke="#c45ccc" stroke-width="1.8" stroke-linecap="butt"/>
<line x1="869" y1="110.4" x2="876.5" y2="110.4" stroke="#c45ccc" stroke-width="1.8" stroke-linecap="butt"/>
<line x1="869" y1="96.1" x2="876.5" y2="96.1" stroke="#c45ccc" stroke-width="1.8" stroke-linecap="butt"/>
<line x1="869" y1="85" x2="876.5" y2="85" stroke="#c45ccc" stroke-width="1.8" stroke-linecap="butt"/>
<line x1="862.5" y1="1093.7" x2="876.5" y2="1093.7" stroke="#c45ccc" stroke-width="1.8" stroke-linecap="butt"/>
<line x1="869" y1="1063" x2="876.5" y2="1063" stroke="#c45ccc" stroke-width="1.8" stroke-linecap="butt"/>
<line x1="869" y1="1032.3" x2="876.5" y2="1032.3" stroke="#c45ccc" stroke-width="1.8" stroke-linecap="butt"/>
<line x1="869" y1="1001.7" x2="876.5" y2="1001.7" stroke="#c45ccc" stroke-width="1.8" stroke-linecap="butt"/>
<line x1="862.5" y1="971" x2="876.5" y2="971" stroke="#c45ccc" stroke-width="1.8" stroke-linecap="butt"/>
<line x1="869" y1="940.3" x2="876.5" y2="940.3" stroke="#c45ccc" stroke-width="1.8" stroke-linecap="butt"/>
<line x1="869" y1="909.6" x2="876.5" y2="909.6" stroke="#c45ccc" stroke-width="1.8" stroke-linecap="butt"/>
<line x1="869" y1="878.9" x2="876.5" y2="878.9" stroke="#c45ccc" stroke-width="1.8" stroke-linecap="butt"/>
<line x1="862.5" y1="848.3" x2="876.5" y2="848.3" stroke="#c45ccc" stroke-width="1.8" stroke-linecap="butt"/>
<line x1="869" y1="817.6" x2="876.5" y2="817.6" stroke="#c45ccc" stroke-width="1.8" stroke-linecap="butt"/>
<line x1="869" y1="786.9" x2="876.5" y2="786.9" stroke="#c45ccc" stroke-width="1.8" stroke-linecap="butt"/>
<line x1="869" y1="756.2" x2="876.5" y2="756.2" stroke="#c45ccc" stroke-width="1.8" stroke-linecap="butt"/>
<line x1="862.5" y1="725.5" x2="876.5" y2="725.5" stroke="#c45ccc" stroke-width="1.8" stroke-linecap="butt"/>
<line x1="869" y1="694.9" x2="876.5" y2="694.9" stroke="#c45ccc" stroke-width="1.8" stroke-linecap="butt"/>
<line x1="869" y1="664.2" x2="876.5" y2="664.2" stroke="#c45ccc" stroke-width="1.8" stroke-linecap="butt"/>
<line x1="869" y1="633.5" x2="876.5" y2="633.5" stroke="#c45ccc" stroke-width="1.8" stroke-linecap="butt"/>
<line x1="862.5" y1="602.8" x2="876.5" y2="602.8" stroke="#c45ccc" stroke-width="1.8" stroke-linecap="butt"/>
<line x1="869" y1="572.1" x2="876.5" y2="572.1" stroke="#c45ccc" stroke-width="1.8" stroke-linecap="butt"/>
<line x1="869" y1="541.5" x2="876.5" y2="541.5" stroke="#c45ccc" stroke-width="1.8" stroke-linecap="butt"/>
<line x1="869" y1="510.8" x2="876.5" y2="510.8" stroke="#c45ccc" stroke-width="1.8" stroke-linecap="butt"/>
<line x1="862.5" y1="480.1" x2="876.5" y2="480.1" stroke="#c45ccc" stroke-width="1.8" stroke-linecap="butt"/>
<line x1="869" y1="449.4" x2="876.5" y2="449.4" stroke="#c45ccc" stroke-width="1.8" stroke-linecap="butt"/>
<path d="M876.5 82 L150 82 L150 393.3 L876.5 393.3" fill="none" stroke="#000" stroke-width="1.8" stroke-linejoin="miter"/>
<line x1="876.5" y1="81.1" x2="876.5" y2="394.2" stroke="#c45ccc" stroke-width="1.8" stroke-linecap="butt"/>
<path d="M876.5 418.8 L150 418.8 L150 1093.8 L876.5 1093.8" fill="none" stroke="#000" stroke-width="1.8" stroke-linejoin="miter"/>
<line x1="876.5" y1="417.9" x2="876.5" y2="1094.7" stroke="#c45ccc" stroke-width="1.8" stroke-linecap="butt"/>
<text x="150" y="1131.8" font-size="37" fill="#000" text-anchor="middle" font-weight="normal" font-style="normal">0.1</text>
<text x="425.3" y="1131.8" font-size="37" fill="#000" text-anchor="middle" font-weight="normal" font-style="normal">0.5</text>
<text x="543.8" y="1131.8" font-size="37" fill="#000" text-anchor="middle" font-weight="normal" font-style="normal">1</text>
<text x="819.1" y="1131.8" font-size="37" fill="#000" text-anchor="middle" font-weight="normal" font-style="normal">5</text>
<text x="140.5" y="363.1" font-size="37" fill="#000" text-anchor="end" font-weight="normal" font-style="normal">10<tspan font-size="26" dy="-11.3">0</tspan><tspan dy="11.3">​</tspan></text>
<text x="140.5" y="284.8" font-size="37" fill="#000" text-anchor="end" font-weight="normal" font-style="normal">10<tspan font-size="26" dy="-11.3">2</tspan><tspan dy="11.3">​</tspan></text>
<text x="140.5" y="206.6" font-size="37" fill="#000" text-anchor="end" font-weight="normal" font-style="normal">10<tspan font-size="26" dy="-11.3">4</tspan><tspan dy="11.3">​</tspan></text>
<text x="140.5" y="128.3" font-size="37" fill="#000" text-anchor="end" font-weight="normal" font-style="normal">10<tspan font-size="26" dy="-11.3">6</tspan><tspan dy="11.3">​</tspan></text>
<text x="140.5" y="476.6" font-size="37" fill="#000" text-anchor="end" font-weight="normal" font-style="normal">10<tspan font-size="26" dy="-11.3">-4</tspan><tspan dy="11.3">​</tspan></text>
<text x="140.5" y="600.1" font-size="37" fill="#000" text-anchor="end" font-weight="normal" font-style="normal">10<tspan font-size="26" dy="-11.3">-6</tspan><tspan dy="11.3">​</tspan></text>
<text x="140.5" y="723.6" font-size="37" fill="#000" text-anchor="end" font-weight="normal" font-style="normal">10<tspan font-size="26" dy="-11.3">-8</tspan><tspan dy="11.3">​</tspan></text>
<text x="140.5" y="847.2" font-size="37" fill="#000" text-anchor="end" font-weight="normal" font-style="normal">10<tspan font-size="26" dy="-11.3">-10</tspan><tspan dy="11.3">​</tspan></text>
<text x="140.5" y="970.7" font-size="37" fill="#000" text-anchor="end" font-weight="normal" font-style="normal">10<tspan font-size="26" dy="-11.3">-12</tspan><tspan dy="11.3">​</tspan></text>
<text x="140.5" y="1094.2" font-size="37" fill="#000" text-anchor="end" font-weight="normal" font-style="normal">10<tspan font-size="26" dy="-11.3">-14</tspan><tspan dy="11.3">​</tspan></text>
<text x="886.5" y="403" font-size="37" fill="#e04ce0" text-anchor="start" font-weight="normal" font-style="normal">10</text>
<text x="886.5" y="288.7" font-size="37" fill="#e04ce0" text-anchor="start" font-weight="normal" font-style="normal">100</text>
<text x="886.5" y="174.4" font-size="37" fill="#e04ce0" text-anchor="start" font-weight="normal" font-style="normal">1000</text>
<text x="886.5" y="1102.2" font-size="37" fill="#e04ce0" text-anchor="start" font-weight="normal" font-style="normal">0</text>
<text x="886.5" y="979.5" font-size="37" fill="#e04ce0" text-anchor="start" font-weight="normal" font-style="normal">0.2</text>
<text x="886.5" y="856.8" font-size="37" fill="#e04ce0" text-anchor="start" font-weight="normal" font-style="normal">0.4</text>
<text x="886.5" y="734" font-size="37" fill="#e04ce0" text-anchor="start" font-weight="normal" font-style="normal">0.6</text>
<text x="886.5" y="611.3" font-size="37" fill="#e04ce0" text-anchor="start" font-weight="normal" font-style="normal">0.8</text>
<text x="886.5" y="488.6" font-size="37" fill="#e04ce0" text-anchor="start" font-weight="normal" font-style="normal">1</text>
<text x="38.9" y="242.9" font-size="41.5" fill="#000" text-anchor="middle" font-weight="normal" font-style="normal" transform="rotate(-90 38.9 242.9)">Density (cm<tspan font-size="29" dy="-13">-3</tspan><tspan dy="13">​</tspan>)</text>
<text x="36.1" y="733.6" font-size="40" fill="#000" text-anchor="middle" font-weight="normal" font-style="normal" transform="rotate(-90 36.1 733.6)">Abundance wrt H nuclei</text>
<text x="887.6" y="84.7" font-size="37.3" fill="#e04ce0" text-anchor="start" font-weight="normal" font-style="normal">T<tspan font-size="27" dy="8">k</tspan><tspan dy="-8">​</tspan> (K)</text>
<text x="948.6" y="719" font-size="38" fill="#e04ce0" text-anchor="middle" font-weight="normal" font-style="normal" transform="rotate(90 948.6 719)">Molecular gas fraction, <tspan font-style="italic">f</tspan><tspan font-size="28" dy="8">H2</tspan><tspan dy="-8">​</tspan></text>
<text x="492.5" y="1185.7" font-size="41.2" fill="#000" text-anchor="middle" font-weight="normal" font-style="normal">Depth into the wind (A<tspan font-size="28" dy="7">V</tspan><tspan dy="-7">​</tspan>)</text>
<text x="5" y="43.3" font-size="47" fill="#000" text-anchor="start" font-weight="bold" font-style="normal">a</text>
<text x="153" y="44.8" font-size="48.4" fill="#000" text-anchor="start" font-weight="normal" font-style="normal"><tspan font-style="italic">n</tspan><tspan font-size="34" dy="8">H</tspan><tspan dy="-8">​</tspan>=3.5·10<tspan font-size="34" dy="-17">5</tspan><tspan dy="17">​</tspan> cm<tspan font-size="34" dy="-17">-3</tspan><tspan dy="17">​</tspan> <tspan fill="#1f78c0">+</tspan> “Orion grains”</text>
<clipPath id="cb1"><rect x="1183.3" y="82" width="725.9" height="311.6"/></clipPath>
<clipPath id="cb2"><rect x="1183.3" y="418.8" width="725.9" height="675.2"/></clipPath>
<path d="M1183.3 205.9C1197.3 205.8 1242.3 205.3 1267.1 205C1291.8 204.7 1312.9 204.5 1331.8 204.2C1350.7 203.9 1368.2 203.4 1380.3 203.3C1392.4 203.2 1396.5 203.3 1404.6 203.7C1412.7 204.1 1421.2 205.3 1428.8 205.9C1436.4 206.5 1436.3 206.6 1450 207C1463.7 207.4 1487.3 208.3 1510.9 208.6C1534.5 208.9 1563.6 208.9 1591.8 208.9C1620 208.9 1649.1 208.6 1680 208.6C1710.9 208.6 1756.8 208.2 1777 208.9C1797.2 209.6 1794.5 210.4 1801.3 212.6C1808 214.8 1812.1 217.7 1817.5 222.3C1822.9 226.9 1828.3 235.8 1833.7 240.1C1839.1 244.4 1843.1 246.4 1849.8 248.2C1856.5 250 1864.2 249.8 1874.1 250.7C1884 251.6 1903.3 253.4 1909.2 253.9" fill="none" stroke="#2ee62e" stroke-width="2.6" stroke-linecap="round" stroke-linejoin="round" clip-path="url(#cb1)"/>
<path d="M1183.3 355C1191.9 355 1218 355.5 1234.7 355C1251.4 354.5 1269.7 353.2 1283.2 351.8C1296.7 350.4 1304.8 349.1 1315.6 346.9C1326.4 344.7 1337.1 342 1347.9 338.8C1358.7 335.6 1369.5 331 1380.3 327.5C1391.1 324 1400.3 320.1 1412.6 317.8C1424.9 315.5 1440.6 313.7 1454.3 313.7C1468 313.7 1482.6 316.2 1494.7 317.8C1506.8 319.4 1516.3 321.8 1527.1 323.4C1537.9 325 1550 326.8 1559.4 327.5C1568.8 328.2 1575.6 326.7 1583.7 327.5C1591.8 328.3 1598.5 329.9 1607.9 332.3C1617.3 334.7 1628.3 338.8 1640.3 342.1C1652.3 345.4 1668.4 348.7 1680 352C1691.6 355.3 1699.2 357.4 1710 362C1720.8 366.6 1734.7 373.6 1744.7 379.3C1754.7 385 1765.8 393.2 1770 396" fill="none" stroke="#9a9a9a" stroke-width="3.2" stroke-linecap="round" stroke-linejoin="round" clip-path="url(#cb1)"/>
<path d="M1183.3 327.5C1191.9 325.8 1218 320.8 1234.7 317C1251.4 313.2 1269.7 308.7 1283.2 304.8C1296.7 300.9 1304.8 297.5 1315.6 293.5C1326.4 289.5 1338.5 284.9 1347.9 280.6C1357.3 276.3 1364.7 272.2 1372.2 267.6C1379.8 263 1387.8 257.7 1393.2 253.1C1398.6 248.5 1400.5 244.9 1404.6 240.1C1408.6 235.2 1413.3 228.1 1417.5 224C1421.7 219.9 1425.2 218.7 1430 215.5C1434.8 212.3 1439.5 208.3 1446.2 204.6C1452.9 200.9 1459.6 197.1 1470.4 193.2C1481.2 189.3 1497.4 184.9 1510.9 181.1C1524.4 177.3 1539.2 174.2 1551.3 170.6C1563.4 167 1572.9 162 1583.7 159.3C1594.5 156.6 1603.9 155.6 1616 154.4C1628.1 153.2 1640.8 152.7 1656.5 152C1672.2 151.3 1692.6 150.8 1710 150.4C1727.4 150 1738.9 149.9 1760.9 149.6C1782.9 149.3 1817.1 148.6 1841.8 148.7C1866.5 148.8 1898 149.7 1909.2 149.9" fill="none" stroke="#000" stroke-width="3.6" stroke-linecap="round" stroke-linejoin="round" clip-path="url(#cb1)"/>
<path d="M1183.3 148.7C1189.2 148 1204.5 145.8 1218.5 144.7C1232.5 143.6 1250.9 143 1267.1 142.3C1283.3 141.6 1300.8 140.8 1315.6 140.7C1330.4 140.6 1345.2 140.8 1356 141.5C1366.8 142.2 1373.5 143.1 1380.3 144.7C1387 146.3 1391.1 148.6 1396.5 151.2C1401.9 153.8 1407 157.6 1412.6 160.1C1418.2 162.6 1421.7 163.8 1430 166C1438.3 168.2 1451.6 170.6 1462.4 173C1473.2 175.4 1483.9 178.3 1494.7 180.3C1505.5 182.3 1516.3 182.9 1527.1 185.1C1537.9 187.2 1548.6 189.1 1559.4 193.2C1570.2 197.2 1581 204.6 1591.8 209.4C1602.6 214.2 1613.3 218.4 1624.1 222.3C1634.9 226.2 1645.7 229.5 1656.5 232.9C1667.3 236.3 1676.8 239 1688.8 242.6C1700.8 246.2 1713.8 250 1728.5 254.7C1743.2 259.4 1763.6 265.8 1777.1 270.9C1790.6 276 1801.3 280.3 1809.4 285.4C1817.5 290.5 1820.2 297 1825.6 301.6C1831 306.2 1833.7 308.8 1841.8 312.9C1849.9 316.9 1862.9 321.8 1874.1 325.9C1885.3 330 1903.3 335.6 1909.2 337.5" fill="none" stroke="#f7b4f7" stroke-width="2.5999999999999996" stroke-linecap="round" stroke-linejoin="round" clip-path="url(#cb1)"/>
<path d="M1183.3 148.7C1189.2 148 1204.5 145.8 1218.5 144.7C1232.5 143.6 1250.9 143 1267.1 142.3C1283.3 141.6 1300.8 140.8 1315.6 140.7C1330.4 140.6 1345.2 140.8 1356 141.5C1366.8 142.2 1373.5 143.1 1380.3 144.7C1387 146.3 1391.1 148.6 1396.5 151.2C1401.9 153.8 1407 157.6 1412.6 160.1C1418.2 162.6 1421.7 163.8 1430 166C1438.3 168.2 1451.6 170.6 1462.4 173C1473.2 175.4 1483.9 178.3 1494.7 180.3C1505.5 182.3 1516.3 182.9 1527.1 185.1C1537.9 187.2 1548.6 189.1 1559.4 193.2C1570.2 197.2 1581 204.6 1591.8 209.4C1602.6 214.2 1613.3 218.4 1624.1 222.3C1634.9 226.2 1645.7 229.5 1656.5 232.9C1667.3 236.3 1676.8 239 1688.8 242.6C1700.8 246.2 1713.8 250 1728.5 254.7C1743.2 259.4 1763.6 265.8 1777.1 270.9C1790.6 276 1801.3 280.3 1809.4 285.4C1817.5 290.5 1820.2 297 1825.6 301.6C1831 306.2 1833.7 308.8 1841.8 312.9C1849.9 316.9 1862.9 321.8 1874.1 325.9C1885.3 330 1903.3 335.6 1909.2 337.5" fill="none" stroke="#b226b2" stroke-width="3.9" stroke-linecap="round" stroke-linejoin="round" stroke-dasharray="0 6.45" clip-path="url(#cb1)"/>
<path d="M1183.4 831C1186.7 830.9 1196.5 831.2 1203.4 830.2C1210.4 829.2 1218.7 825.2 1225.1 824.8C1231.5 824.4 1234.3 828.5 1241.8 827.7C1249.3 826.9 1259.9 822.8 1270.2 820.1C1280.5 817.5 1292.5 816 1303.6 811.8C1314.7 807.6 1325.9 801.5 1337 795.1C1348.1 788.7 1360.7 780.1 1370.4 773.4C1380.1 766.7 1388.2 760.1 1395.4 755C1402.6 749.9 1407.8 746.9 1413.5 742.7C1419.2 738.5 1423.6 734.1 1429.7 729.8C1435.8 725.5 1444.5 721.4 1450 716.8C1455.5 712.2 1455 707.4 1462.5 702.2C1470 697.1 1484.1 689.4 1494.9 685.9C1505.7 682.4 1516.6 681.6 1527.4 681.1C1538.2 680.6 1550.3 681.4 1559.8 682.7C1569.3 684.1 1577.4 687.3 1584.2 689.2C1591 691.1 1595 692.9 1600.4 694C1605.8 695.1 1609.9 696 1616.7 695.7C1623.5 695.4 1631.5 694.6 1641 692.4C1650.5 690.2 1661.6 687 1673.5 682.7C1685.4 678.4 1700.6 672.2 1712.5 666.5C1724.4 660.8 1735.4 655.1 1744.9 648.6C1754.4 642.1 1762.5 634.8 1769.3 627.5C1776.1 620.2 1780.1 614 1785.5 604.8C1790.9 595.6 1796.3 584.5 1801.7 572.3C1807.1 560.1 1813.1 543.6 1818 531.7C1822.9 519.8 1827 508.5 1831 500.9C1835 493.3 1837.7 490.9 1842.3 486.3C1846.9 481.7 1853.1 476.8 1858.5 473.3C1863.9 469.8 1869.4 467.1 1874.8 465.2C1880.2 463.3 1885.3 462.6 1891 461.9C1896.7 461.2 1906.2 461.2 1909.2 461.1" fill="none" stroke="#2ae6ee" stroke-width="4.6" stroke-linecap="round" stroke-linejoin="round" clip-path="url(#cb2)"/>
<path d="M1183.4 1022.2C1189.5 1020 1208.4 1013.5 1220.1 1008.8C1231.8 1004.1 1242.4 999.9 1253.5 993.8C1264.6 987.7 1275.8 981.8 1286.9 972.1C1298 962.4 1310.6 946.8 1320.3 935.4C1330 924 1336.9 915.3 1345.3 903.6C1353.7 891.9 1363.4 877.7 1370.4 865.2C1377.4 852.7 1381.5 841 1387.1 828.5C1392.7 816 1398.8 800.7 1403.8 790.1C1408.8 779.5 1412.6 772.9 1417.1 765C1421.5 757.1 1424.3 750.8 1430.5 742.5C1436.7 734.2 1446.3 721.8 1454.3 715.1C1462.3 708.4 1469.2 705.2 1478.7 702.2C1488.2 699.2 1500.4 697.6 1511.2 697.3C1522 697 1534.1 697.8 1543.6 700.5C1553.1 703.2 1561.2 707.8 1568 713.5C1574.8 719.2 1578.8 728.9 1584.2 734.6C1589.6 740.3 1592.7 742.5 1600.4 747.6C1608.1 752.7 1617.1 758.8 1630.4 765C1643.7 771.2 1666.6 777.6 1680.4 785.1C1694.2 792.6 1702.3 802 1713.4 810.1C1724.5 818.2 1735.7 825.7 1746.8 833.5C1757.9 841.3 1770.5 850.2 1780.2 856.9C1789.9 863.6 1798.2 866.6 1805.2 873.6C1812.2 880.6 1817.2 887.5 1821.9 898.6C1826.6 909.7 1830 926.5 1833.6 940.4C1837.2 954.3 1840.5 966.8 1843.6 982.1C1846.7 997.4 1849.2 1018.3 1852 1032.2C1854.8 1046.1 1856.8 1054.6 1860.3 1065.6C1863.8 1076.6 1870.9 1092.6 1873 1098" fill="none" stroke="#2ee62e" stroke-width="4.6" stroke-linecap="round" stroke-linejoin="round" clip-path="url(#cb2)"/>
<path d="M1183.4 804.3C1186.7 804.1 1195.9 804.4 1203.4 803.4C1210.9 802.4 1220.1 799.9 1228.4 798.4C1236.8 796.9 1243.8 796.2 1253.5 794.3C1263.2 792.4 1275.8 790.6 1286.9 786.8C1298 783 1310.6 776.5 1320.3 771.7C1330 766.9 1337.5 762.5 1345 758C1352.5 753.5 1357.7 750 1365 745C1372.3 740 1382.4 733.1 1389.1 728.1C1395.8 723.1 1400 719.7 1405.4 715.1C1410.8 710.5 1416.2 704.3 1421.6 700.5C1427 696.7 1431 695.6 1437.8 692.4C1444.6 689.2 1453 683.5 1462.5 681.1C1472 678.7 1484.1 677.5 1494.9 677.8C1505.7 678.1 1517.9 680.5 1527.4 682.7C1536.9 684.9 1544.9 687.3 1551.7 690.8C1558.5 694.3 1562.6 698.1 1568 703.8C1573.4 709.5 1578.8 718.7 1584.2 724.9C1589.6 731.1 1593.6 736.5 1600.4 741.1C1607.2 745.7 1618 749.4 1624.8 752.5C1631.6 755.6 1634.5 756.5 1641 760C1647.5 763.5 1657.3 770.2 1663.8 773.4C1670.3 776.6 1671.7 775.3 1680 779.2C1688.3 783.1 1702.3 790.2 1713.4 796.8C1724.5 803.3 1735.7 809 1746.8 818.5C1757.9 828 1770.5 841.5 1780.2 853.5C1789.9 865.5 1798.8 878.6 1805.2 890.3C1811.6 902 1815.2 912.6 1818.6 923.7C1821.9 934.8 1823.1 946 1825.3 957.1C1827.5 968.2 1830 978 1832 990.5C1834 1003 1835.1 1019.7 1837 1032.2C1838.9 1044.7 1840.5 1056.4 1843.6 1065.6C1846.6 1074.8 1851.9 1081.9 1855.3 1087.3C1858.7 1092.7 1862.5 1096.2 1864 1098" fill="none" stroke="#848484" stroke-width="5" stroke-linecap="round" stroke-linejoin="round" clip-path="url(#cb2)"/>
<path d="M1254 1098C1259.5 1094 1275.9 1082.6 1286.9 1073.9C1298 1065.2 1310.6 1055.3 1320.3 1045.6C1330 1035.9 1336.9 1026.1 1345.3 1015.5C1353.7 1004.9 1363.4 992.7 1370.4 982.1C1377.4 971.5 1381.5 964.6 1387.1 952.1C1392.7 939.6 1399.1 920.1 1403.8 907C1408.5 893.9 1411.1 883.4 1415.5 873.6C1419.9 863.8 1423.4 857.2 1430 848C1436.6 838.8 1446.7 826.2 1455 818.5C1463.3 810.8 1470.3 807.1 1480.1 801.8C1489.8 796.5 1503.8 790.1 1513.5 786.8C1523.2 783.4 1531.5 782.1 1538.5 781.7C1545.5 781.3 1549.1 782 1555.2 784.2C1561.3 786.4 1568.3 790.5 1575.3 795.1C1582.3 799.7 1589.2 807.1 1597 811.8C1604.8 816.5 1610.9 819.3 1622 823.5C1633.1 827.7 1654.1 833.9 1663.8 836.8C1673.5 839.7 1671.7 838.5 1680 841C1688.3 843.5 1702.3 846.9 1713.4 852C1724.5 857.1 1735.7 864.1 1746.8 871.9C1757.9 879.7 1770.5 891.1 1780.2 898.6C1789.9 906.1 1798.2 910.9 1805.2 917C1812.2 923.1 1816.9 928.7 1821.9 935.4C1826.9 942.1 1830.7 950.4 1835.3 957.1C1839.9 963.8 1844.8 973 1849.5 975.5C1854.2 978 1857.2 973.5 1863.7 972.1C1870.2 970.7 1881.1 968.8 1888.7 967.1C1896.3 965.4 1905.8 962.9 1909.2 962.1" fill="none" stroke="#000" stroke-width="5" stroke-linecap="round" stroke-linejoin="round" clip-path="url(#cb2)"/>
<path d="M1318 1098C1321.2 1091.8 1331 1072.4 1337 1060.6C1343 1048.8 1348.1 1038.9 1353.7 1027.2C1359.3 1015.5 1364.8 1005 1370.4 990.5C1376 976 1382.1 958.5 1387.1 940.4C1392.1 922.3 1396.2 901.4 1400.4 881.9C1404.6 862.4 1407.9 841.6 1412.1 823.5C1416.3 805.4 1421.5 785.3 1425.5 773.4C1429.5 761.5 1431.2 761.2 1436 752C1440.8 742.8 1447.2 727.5 1454.3 718.4C1461.4 709.3 1469.2 703.2 1478.7 697.3C1488.2 691.3 1500.4 686.2 1511.2 682.7C1522 679.2 1535.5 677 1543.6 676.2C1551.7 675.4 1554.4 676.2 1559.8 677.8C1565.2 679.4 1570.7 682.6 1576.1 685.9C1581.5 689.1 1586.9 693.8 1592.3 697.3C1597.7 700.8 1600.4 703.5 1608.5 707C1616.6 710.5 1630.2 713.8 1641 718.4C1651.8 723 1662.7 728.4 1673.5 734.6C1684.3 740.8 1699.2 750.6 1705.9 755.7C1712.6 760.8 1706.6 759.3 1713.4 765C1720.2 770.7 1735.7 781.5 1746.8 790.1C1757.9 798.7 1770.5 810 1780.2 816.8C1789.9 823.6 1798.2 827.4 1805.2 831C1812.2 834.6 1817.7 835.6 1821.9 838.5C1826.1 841.4 1827.5 842.6 1830.3 848.5C1833.1 854.4 1835.8 863.9 1838.6 873.6C1841.4 883.4 1844.2 894.5 1847 907C1849.8 919.5 1852.5 936.2 1855.3 948.7C1858.1 961.2 1860.9 972.9 1863.7 982.1C1866.5 991.3 1867.8 997.9 1872 1003.8C1876.2 1009.6 1882.5 1014.4 1888.7 1017.2C1894.9 1020 1905.8 1020 1909.2 1020.5" fill="none" stroke="#ec1010" stroke-width="5" stroke-linecap="round" stroke-linejoin="round" clip-path="url(#cb2)"/>
<path d="M1183.3 458.4C1274.2 458.4 1631 458.5 1728.7 458.7C1826.4 458.9 1758.5 458.8 1769.3 459.5C1780.1 460.2 1786.8 460.8 1793.6 462.8C1800.4 464.8 1805.3 467.5 1809.9 471.7C1814.5 475.9 1818 481.4 1821.2 487.9C1824.4 494.4 1826.9 502 1829.3 510.6C1831.7 519.2 1833.6 529.5 1835.8 539.8C1838 550.1 1840.1 560.1 1842.3 572.3C1844.5 584.5 1846.6 599.4 1848.8 612.9C1851 626.4 1853.1 641.3 1855.3 653.5C1857.5 665.7 1859.1 676.4 1861.8 685.9C1864.5 695.4 1868 704.3 1871.5 710.3C1875 716.2 1878.8 718.9 1882.9 721.6C1887 724.3 1891.5 725.3 1895.9 726.5C1900.3 727.7 1907 728.5 1909.2 728.9" fill="none" stroke="#1010c8" stroke-width="5.6" stroke-linecap="round" stroke-linejoin="round" clip-path="url(#cb2)"/>
<path d="M1183.3 1094C1220 1094 1364.3 1095.1 1403.8 1094C1443.3 1092.9 1414.9 1090.4 1420.5 1087.3C1426.1 1084.2 1431.5 1079.8 1437.2 1075.6C1443 1071.4 1447.8 1069.2 1455 1062.3C1462.2 1055.3 1471.8 1044.5 1480.1 1033.9C1488.4 1023.3 1497.3 1011.6 1505.1 998.8C1512.9 986 1520.4 971 1526.8 957.1C1533.2 943.2 1538.5 929.2 1543.5 915.3C1548.5 901.4 1553 886.7 1556.9 873.6C1560.8 860.5 1563.8 848.5 1566.9 836.8C1570 825.1 1572.5 815.9 1575.3 803.4C1578.1 790.9 1580.8 774.5 1583.6 761.7C1586.4 748.9 1589.5 737.8 1592.3 726.5C1595.1 715.2 1596.3 707.5 1600.4 694C1604.5 680.5 1611.3 660.2 1616.7 645.3C1622.1 630.4 1626.2 618.3 1632.9 604.8C1639.7 591.3 1649.1 575 1657.2 564.2C1665.3 553.4 1673.8 546.6 1681.6 539.8C1689.4 533 1696.4 529 1704.3 523.6C1712.2 518.2 1719.2 512 1728.7 507.4C1738.2 502.8 1750.4 499 1761.2 496C1772 493 1784.1 491 1793.6 489.5C1803.1 488 1809.9 488 1818 487.1C1826.1 486.2 1835.5 484.3 1842.3 483.9C1849 483.5 1851.7 483.5 1858.5 484.7C1865.3 485.9 1874.5 487.7 1882.9 491.2C1891.4 494.7 1904.8 503.4 1909.2 505.8" fill="none" stroke="#f7b4f7" stroke-width="2.2" stroke-linecap="round" stroke-linejoin="round" clip-path="url(#cb2)"/>
<path d="M1183.3 1094C1220 1094 1364.3 1095.1 1403.8 1094C1443.3 1092.9 1414.9 1090.4 1420.5 1087.3C1426.1 1084.2 1431.5 1079.8 1437.2 1075.6C1443 1071.4 1447.8 1069.2 1455 1062.3C1462.2 1055.3 1471.8 1044.5 1480.1 1033.9C1488.4 1023.3 1497.3 1011.6 1505.1 998.8C1512.9 986 1520.4 971 1526.8 957.1C1533.2 943.2 1538.5 929.2 1543.5 915.3C1548.5 901.4 1553 886.7 1556.9 873.6C1560.8 860.5 1563.8 848.5 1566.9 836.8C1570 825.1 1572.5 815.9 1575.3 803.4C1578.1 790.9 1580.8 774.5 1583.6 761.7C1586.4 748.9 1589.5 737.8 1592.3 726.5C1595.1 715.2 1596.3 707.5 1600.4 694C1604.5 680.5 1611.3 660.2 1616.7 645.3C1622.1 630.4 1626.2 618.3 1632.9 604.8C1639.7 591.3 1649.1 575 1657.2 564.2C1665.3 553.4 1673.8 546.6 1681.6 539.8C1689.4 533 1696.4 529 1704.3 523.6C1712.2 518.2 1719.2 512 1728.7 507.4C1738.2 502.8 1750.4 499 1761.2 496C1772 493 1784.1 491 1793.6 489.5C1803.1 488 1809.9 488 1818 487.1C1826.1 486.2 1835.5 484.3 1842.3 483.9C1849 483.5 1851.7 483.5 1858.5 484.7C1865.3 485.9 1874.5 487.7 1882.9 491.2C1891.4 494.7 1904.8 503.4 1909.2 505.8" fill="none" stroke="#b226b2" stroke-width="3.2" stroke-linecap="round" stroke-linejoin="round" stroke-dasharray="0 6.2" clip-path="url(#cb2)"/>
<text x="1251.6" y="507" font-size="42" fill="#1838d6" text-anchor="start" font-weight="bold" font-style="normal">C<tspan font-size="26" dy="-11">+</tspan><tspan dy="11">​</tspan></text>
<text x="1730" y="585.3" font-size="42" fill="#2ae6ee" text-anchor="start" font-weight="bold" font-style="normal">CO</text>
<text x="1224" y="761.7" font-size="41" fill="#848484" text-anchor="start" font-weight="bold" font-style="normal">CH<tspan font-size="26" dy="-11">+</tspan><tspan dy="11">​</tspan></text>
<text x="1505" y="646.2" font-size="42" fill="#ec1010" text-anchor="start" font-weight="bold" font-style="normal">CH<tspan font-size="27" dy="5">3</tspan><tspan dy="-5">​</tspan><tspan font-size="26" dy="-11">+</tspan><tspan dy="11">​</tspan></text>
<text x="1452.5" y="775.1" font-size="40.5" fill="#000" text-anchor="start" font-weight="bold" font-style="normal">HCO<tspan font-size="26" dy="-11">+</tspan><tspan dy="11">​</tspan></text>
<text x="1212.2" y="947.9" font-size="42" fill="#2ee62e" text-anchor="start" font-weight="bold" font-style="normal">CH<tspan font-size="27" dy="5">2</tspan><tspan dy="-5">​</tspan><tspan font-size="26" dy="-11">+</tspan><tspan dy="11">​</tspan></text>
<text x="1628.5" y="523.7" font-size="40" fill="#e04ce0" text-anchor="start" font-weight="bold" font-style="normal"><tspan font-style="italic">f</tspan><tspan font-size="27" dy="4">H2</tspan><tspan dy="-4">​</tspan></text>
<line x1="1301.7" y1="393.6" x2="1301.7" y2="384.6" stroke="#000" stroke-width="1.8" stroke-linecap="butt"/>
<line x1="1301.7" y1="82" x2="1301.7" y2="91" stroke="#000" stroke-width="1.8" stroke-linecap="butt"/>
<line x1="1371" y1="393.6" x2="1371" y2="384.6" stroke="#000" stroke-width="1.8" stroke-linecap="butt"/>
<line x1="1371" y1="82" x2="1371" y2="91" stroke="#000" stroke-width="1.8" stroke-linecap="butt"/>
<line x1="1420.1" y1="393.6" x2="1420.1" y2="384.6" stroke="#000" stroke-width="1.8" stroke-linecap="butt"/>
<line x1="1420.1" y1="82" x2="1420.1" y2="91" stroke="#000" stroke-width="1.8" stroke-linecap="butt"/>
<line x1="1458.2" y1="393.6" x2="1458.2" y2="384.6" stroke="#000" stroke-width="1.8" stroke-linecap="butt"/>
<line x1="1458.2" y1="82" x2="1458.2" y2="91" stroke="#000" stroke-width="1.8" stroke-linecap="butt"/>
<line x1="1489.3" y1="393.6" x2="1489.3" y2="384.6" stroke="#000" stroke-width="1.8" stroke-linecap="butt"/>
<line x1="1489.3" y1="82" x2="1489.3" y2="91" stroke="#000" stroke-width="1.8" stroke-linecap="butt"/>
<line x1="1515.7" y1="393.6" x2="1515.7" y2="384.6" stroke="#000" stroke-width="1.8" stroke-linecap="butt"/>
<line x1="1515.7" y1="82" x2="1515.7" y2="91" stroke="#000" stroke-width="1.8" stroke-linecap="butt"/>
<line x1="1538.5" y1="393.6" x2="1538.5" y2="384.6" stroke="#000" stroke-width="1.8" stroke-linecap="butt"/>
<line x1="1538.5" y1="82" x2="1538.5" y2="91" stroke="#000" stroke-width="1.8" stroke-linecap="butt"/>
<line x1="1558.6" y1="393.6" x2="1558.6" y2="384.6" stroke="#000" stroke-width="1.8" stroke-linecap="butt"/>
<line x1="1558.6" y1="82" x2="1558.6" y2="91" stroke="#000" stroke-width="1.8" stroke-linecap="butt"/>
<line x1="1576.6" y1="393.6" x2="1576.6" y2="377.6" stroke="#000" stroke-width="1.8" stroke-linecap="butt"/>
<line x1="1576.6" y1="82" x2="1576.6" y2="98" stroke="#000" stroke-width="1.8" stroke-linecap="butt"/>
<line x1="1695" y1="393.6" x2="1695" y2="384.6" stroke="#000" stroke-width="1.8" stroke-linecap="butt"/>
<line x1="1695" y1="82" x2="1695" y2="91" stroke="#000" stroke-width="1.8" stroke-linecap="butt"/>
<line x1="1764.3" y1="393.6" x2="1764.3" y2="384.6" stroke="#000" stroke-width="1.8" stroke-linecap="butt"/>
<line x1="1764.3" y1="82" x2="1764.3" y2="91" stroke="#000" stroke-width="1.8" stroke-linecap="butt"/>
<line x1="1813.4" y1="393.6" x2="1813.4" y2="384.6" stroke="#000" stroke-width="1.8" stroke-linecap="butt"/>
<line x1="1813.4" y1="82" x2="1813.4" y2="91" stroke="#000" stroke-width="1.8" stroke-linecap="butt"/>
<line x1="1851.5" y1="393.6" x2="1851.5" y2="384.6" stroke="#000" stroke-width="1.8" stroke-linecap="butt"/>
<line x1="1851.5" y1="82" x2="1851.5" y2="91" stroke="#000" stroke-width="1.8" stroke-linecap="butt"/>
<line x1="1882.6" y1="393.6" x2="1882.6" y2="384.6" stroke="#000" stroke-width="1.8" stroke-linecap="butt"/>
<line x1="1882.6" y1="82" x2="1882.6" y2="91" stroke="#000" stroke-width="1.8" stroke-linecap="butt"/>
<line x1="1301.7" y1="1094" x2="1301.7" y2="1085" stroke="#000" stroke-width="1.8" stroke-linecap="butt"/>
<line x1="1301.7" y1="418.8" x2="1301.7" y2="427.8" stroke="#000" stroke-width="1.8" stroke-linecap="butt"/>
<line x1="1371" y1="1094" x2="1371" y2="1085" stroke="#000" stroke-width="1.8" stroke-linecap="butt"/>
<line x1="1371" y1="418.8" x2="1371" y2="427.8" stroke="#000" stroke-width="1.8" stroke-linecap="butt"/>
<line x1="1420.1" y1="1094" x2="1420.1" y2="1085" stroke="#000" stroke-width="1.8" stroke-linecap="butt"/>
<line x1="1420.1" y1="418.8" x2="1420.1" y2="427.8" stroke="#000" stroke-width="1.8" stroke-linecap="butt"/>
<line x1="1458.2" y1="1094" x2="1458.2" y2="1085" stroke="#000" stroke-width="1.8" stroke-linecap="butt"/>
<line x1="1458.2" y1="418.8" x2="1458.2" y2="427.8" stroke="#000" stroke-width="1.8" stroke-linecap="butt"/>
<line x1="1489.3" y1="1094" x2="1489.3" y2="1085" stroke="#000" stroke-width="1.8" stroke-linecap="butt"/>
<line x1="1489.3" y1="418.8" x2="1489.3" y2="427.8" stroke="#000" stroke-width="1.8" stroke-linecap="butt"/>
<line x1="1515.7" y1="1094" x2="1515.7" y2="1085" stroke="#000" stroke-width="1.8" stroke-linecap="butt"/>
<line x1="1515.7" y1="418.8" x2="1515.7" y2="427.8" stroke="#000" stroke-width="1.8" stroke-linecap="butt"/>
<line x1="1538.5" y1="1094" x2="1538.5" y2="1085" stroke="#000" stroke-width="1.8" stroke-linecap="butt"/>
<line x1="1538.5" y1="418.8" x2="1538.5" y2="427.8" stroke="#000" stroke-width="1.8" stroke-linecap="butt"/>
<line x1="1558.6" y1="1094" x2="1558.6" y2="1085" stroke="#000" stroke-width="1.8" stroke-linecap="butt"/>
<line x1="1558.6" y1="418.8" x2="1558.6" y2="427.8" stroke="#000" stroke-width="1.8" stroke-linecap="butt"/>
<line x1="1576.6" y1="1094" x2="1576.6" y2="1078" stroke="#000" stroke-width="1.8" stroke-linecap="butt"/>
<line x1="1576.6" y1="418.8" x2="1576.6" y2="434.8" stroke="#000" stroke-width="1.8" stroke-linecap="butt"/>
<line x1="1695" y1="1094" x2="1695" y2="1085" stroke="#000" stroke-width="1.8" stroke-linecap="butt"/>
<line x1="1695" y1="418.8" x2="1695" y2="427.8" stroke="#000" stroke-width="1.8" stroke-linecap="butt"/>
<line x1="1764.3" y1="1094" x2="1764.3" y2="1085" stroke="#000" stroke-width="1.8" stroke-linecap="butt"/>
<line x1="1764.3" y1="418.8" x2="1764.3" y2="427.8" stroke="#000" stroke-width="1.8" stroke-linecap="butt"/>
<line x1="1813.4" y1="1094" x2="1813.4" y2="1085" stroke="#000" stroke-width="1.8" stroke-linecap="butt"/>
<line x1="1813.4" y1="418.8" x2="1813.4" y2="427.8" stroke="#000" stroke-width="1.8" stroke-linecap="butt"/>
<line x1="1851.5" y1="1094" x2="1851.5" y2="1085" stroke="#000" stroke-width="1.8" stroke-linecap="butt"/>
<line x1="1851.5" y1="418.8" x2="1851.5" y2="427.8" stroke="#000" stroke-width="1.8" stroke-linecap="butt"/>
<line x1="1882.6" y1="1094" x2="1882.6" y2="1085" stroke="#000" stroke-width="1.8" stroke-linecap="butt"/>
<line x1="1882.6" y1="418.8" x2="1882.6" y2="427.8" stroke="#000" stroke-width="1.8" stroke-linecap="butt"/>
<line x1="1183.3" y1="381.6" x2="1192.3" y2="381.6" stroke="#000" stroke-width="1.8" stroke-linecap="butt"/>
<line x1="1183.3" y1="366" x2="1192.3" y2="366" stroke="#000" stroke-width="1.8" stroke-linecap="butt"/>
<line x1="1183.3" y1="354.2" x2="1199.3" y2="354.2" stroke="#000" stroke-width="1.8" stroke-linecap="butt"/>
<line x1="1183.3" y1="342.4" x2="1192.3" y2="342.4" stroke="#000" stroke-width="1.8" stroke-linecap="butt"/>
<line x1="1183.3" y1="326.8" x2="1192.3" y2="326.8" stroke="#000" stroke-width="1.8" stroke-linecap="butt"/>
<line x1="1183.3" y1="315.1" x2="1192.3" y2="315.1" stroke="#000" stroke-width="1.8" stroke-linecap="butt"/>
<line x1="1183.3" y1="303.3" x2="1192.3" y2="303.3" stroke="#000" stroke-width="1.8" stroke-linecap="butt"/>
<line x1="1183.3" y1="287.7" x2="1192.3" y2="287.7" stroke="#000" stroke-width="1.8" stroke-linecap="butt"/>
<line x1="1183.3" y1="275.9" x2="1199.3" y2="275.9" stroke="#000" stroke-width="1.8" stroke-linecap="butt"/>
<line x1="1183.3" y1="264.1" x2="1192.3" y2="264.1" stroke="#000" stroke-width="1.8" stroke-linecap="butt"/>
<line x1="1183.3" y1="248.5" x2="1192.3" y2="248.5" stroke="#000" stroke-width="1.8" stroke-linecap="butt"/>
<line x1="1183.3" y1="236.8" x2="1192.3" y2="236.8" stroke="#000" stroke-width="1.8" stroke-linecap="butt"/>
<line x1="1183.3" y1="225" x2="1192.3" y2="225" stroke="#000" stroke-width="1.8" stroke-linecap="butt"/>
<line x1="1183.3" y1="209.4" x2="1192.3" y2="209.4" stroke="#000" stroke-width="1.8" stroke-linecap="butt"/>
<line x1="1183.3" y1="197.6" x2="1199.3" y2="197.6" stroke="#000" stroke-width="1.8" stroke-linecap="butt"/>
<line x1="1183.3" y1="185.8" x2="1192.3" y2="185.8" stroke="#000" stroke-width="1.8" stroke-linecap="butt"/>
<line x1="1183.3" y1="170.2" x2="1192.3" y2="170.2" stroke="#000" stroke-width="1.8" stroke-linecap="butt"/>
<line x1="1183.3" y1="158.4" x2="1192.3" y2="158.4" stroke="#000" stroke-width="1.8" stroke-linecap="butt"/>
<line x1="1183.3" y1="146.7" x2="1192.3" y2="146.7" stroke="#000" stroke-width="1.8" stroke-linecap="butt"/>
<line x1="1183.3" y1="131.1" x2="1192.3" y2="131.1" stroke="#000" stroke-width="1.8" stroke-linecap="butt"/>
<line x1="1183.3" y1="119.3" x2="1199.3" y2="119.3" stroke="#000" stroke-width="1.8" stroke-linecap="butt"/>
<line x1="1183.3" y1="107.5" x2="1192.3" y2="107.5" stroke="#000" stroke-width="1.8" stroke-linecap="butt"/>
<line x1="1183.3" y1="91.9" x2="1192.3" y2="91.9" stroke="#000" stroke-width="1.8" stroke-linecap="butt"/>
<line x1="1183.3" y1="1084.5" x2="1199.3" y2="1084.5" stroke="#000" stroke-width="1.8" stroke-linecap="butt"/>
<line x1="1183.3" y1="1065.9" x2="1192.3" y2="1065.9" stroke="#000" stroke-width="1.8" stroke-linecap="butt"/>
<line x1="1183.3" y1="1041.3" x2="1192.3" y2="1041.3" stroke="#000" stroke-width="1.8" stroke-linecap="butt"/>
<line x1="1183.3" y1="1022.7" x2="1192.3" y2="1022.7" stroke="#000" stroke-width="1.8" stroke-linecap="butt"/>
<line x1="1183.3" y1="1004.1" x2="1192.3" y2="1004.1" stroke="#000" stroke-width="1.8" stroke-linecap="butt"/>
<line x1="1183.3" y1="979.6" x2="1192.3" y2="979.6" stroke="#000" stroke-width="1.8" stroke-linecap="butt"/>
<line x1="1183.3" y1="961" x2="1199.3" y2="961" stroke="#000" stroke-width="1.8" stroke-linecap="butt"/>
<line x1="1183.3" y1="942.4" x2="1192.3" y2="942.4" stroke="#000" stroke-width="1.8" stroke-linecap="butt"/>
<line x1="1183.3" y1="917.8" x2="1192.3" y2="917.8" stroke="#000" stroke-width="1.8" stroke-linecap="butt"/>
<line x1="1183.3" y1="899.2" x2="1192.3" y2="899.2" stroke="#000" stroke-width="1.8" stroke-linecap="butt"/>
<line x1="1183.3" y1="880.6" x2="1192.3" y2="880.6" stroke="#000" stroke-width="1.8" stroke-linecap="butt"/>
<line x1="1183.3" y1="856.1" x2="1192.3" y2="856.1" stroke="#000" stroke-width="1.8" stroke-linecap="butt"/>
<line x1="1183.3" y1="837.5" x2="1199.3" y2="837.5" stroke="#000" stroke-width="1.8" stroke-linecap="butt"/>
<line x1="1183.3" y1="818.9" x2="1192.3" y2="818.9" stroke="#000" stroke-width="1.8" stroke-linecap="butt"/>
<line x1="1183.3" y1="794.3" x2="1192.3" y2="794.3" stroke="#000" stroke-width="1.8" stroke-linecap="butt"/>
<line x1="1183.3" y1="775.7" x2="1192.3" y2="775.7" stroke="#000" stroke-width="1.8" stroke-linecap="butt"/>
<line x1="1183.3" y1="757.1" x2="1192.3" y2="757.1" stroke="#000" stroke-width="1.8" stroke-linecap="butt"/>
<line x1="1183.3" y1="732.5" x2="1192.3" y2="732.5" stroke="#000" stroke-width="1.8" stroke-linecap="butt"/>
<line x1="1183.3" y1="713.9" x2="1199.3" y2="713.9" stroke="#000" stroke-width="1.8" stroke-linecap="butt"/>
<line x1="1183.3" y1="695.3" x2="1192.3" y2="695.3" stroke="#000" stroke-width="1.8" stroke-linecap="butt"/>
<line x1="1183.3" y1="670.8" x2="1192.3" y2="670.8" stroke="#000" stroke-width="1.8" stroke-linecap="butt"/>
<line x1="1183.3" y1="652.2" x2="1192.3" y2="652.2" stroke="#000" stroke-width="1.8" stroke-linecap="butt"/>
<line x1="1183.3" y1="633.6" x2="1192.3" y2="633.6" stroke="#000" stroke-width="1.8" stroke-linecap="butt"/>
<line x1="1183.3" y1="609" x2="1192.3" y2="609" stroke="#000" stroke-width="1.8" stroke-linecap="butt"/>
<line x1="1183.3" y1="590.4" x2="1199.3" y2="590.4" stroke="#000" stroke-width="1.8" stroke-linecap="butt"/>
<line x1="1183.3" y1="571.8" x2="1192.3" y2="571.8" stroke="#000" stroke-width="1.8" stroke-linecap="butt"/>
<line x1="1183.3" y1="547.3" x2="1192.3" y2="547.3" stroke="#000" stroke-width="1.8" stroke-linecap="butt"/>
<line x1="1183.3" y1="528.7" x2="1192.3" y2="528.7" stroke="#000" stroke-width="1.8" stroke-linecap="butt"/>
<line x1="1183.3" y1="510.1" x2="1192.3" y2="510.1" stroke="#000" stroke-width="1.8" stroke-linecap="butt"/>
<line x1="1183.3" y1="485.5" x2="1192.3" y2="485.5" stroke="#000" stroke-width="1.8" stroke-linecap="butt"/>
<line x1="1183.3" y1="466.9" x2="1199.3" y2="466.9" stroke="#000" stroke-width="1.8" stroke-linecap="butt"/>
<line x1="1183.3" y1="448.3" x2="1192.3" y2="448.3" stroke="#000" stroke-width="1.8" stroke-linecap="butt"/>
<line x1="1183.3" y1="423.7" x2="1192.3" y2="423.7" stroke="#000" stroke-width="1.8" stroke-linecap="butt"/>
<line x1="1895.2" y1="393.8" x2="1909.2" y2="393.8" stroke="#c45ccc" stroke-width="1.8" stroke-linecap="butt"/>
<line x1="1901.7" y1="359.6" x2="1909.2" y2="359.6" stroke="#c45ccc" stroke-width="1.8" stroke-linecap="butt"/>
<line x1="1901.7" y1="339.5" x2="1909.2" y2="339.5" stroke="#c45ccc" stroke-width="1.8" stroke-linecap="butt"/>
<line x1="1901.7" y1="325.3" x2="1909.2" y2="325.3" stroke="#c45ccc" stroke-width="1.8" stroke-linecap="butt"/>
<line x1="1901.7" y1="314.3" x2="1909.2" y2="314.3" stroke="#c45ccc" stroke-width="1.8" stroke-linecap="butt"/>
<line x1="1901.7" y1="305.3" x2="1909.2" y2="305.3" stroke="#c45ccc" stroke-width="1.8" stroke-linecap="butt"/>
<line x1="1901.7" y1="297.7" x2="1909.2" y2="297.7" stroke="#c45ccc" stroke-width="1.8" stroke-linecap="butt"/>
<line x1="1901.7" y1="291.1" x2="1909.2" y2="291.1" stroke="#c45ccc" stroke-width="1.8" stroke-linecap="butt"/>
<line x1="1901.7" y1="285.3" x2="1909.2" y2="285.3" stroke="#c45ccc" stroke-width="1.8" stroke-linecap="butt"/>
<line x1="1895.2" y1="280.1" x2="1909.2" y2="280.1" stroke="#c45ccc" stroke-width="1.8" stroke-linecap="butt"/>
<line x1="1901.7" y1="245.8" x2="1909.2" y2="245.8" stroke="#c45ccc" stroke-width="1.8" stroke-linecap="butt"/>
<line x1="1901.7" y1="225.8" x2="1909.2" y2="225.8" stroke="#c45ccc" stroke-width="1.8" stroke-linecap="butt"/>
<line x1="1901.7" y1="211.6" x2="1909.2" y2="211.6" stroke="#c45ccc" stroke-width="1.8" stroke-linecap="butt"/>
<line x1="1901.7" y1="200.5" x2="1909.2" y2="200.5" stroke="#c45ccc" stroke-width="1.8" stroke-linecap="butt"/>
<line x1="1901.7" y1="191.5" x2="1909.2" y2="191.5" stroke="#c45ccc" stroke-width="1.8" stroke-linecap="butt"/>
<line x1="1901.7" y1="183.9" x2="1909.2" y2="183.9" stroke="#c45ccc" stroke-width="1.8" stroke-linecap="butt"/>
<line x1="1901.7" y1="177.3" x2="1909.2" y2="177.3" stroke="#c45ccc" stroke-width="1.8" stroke-linecap="butt"/>
<line x1="1901.7" y1="171.5" x2="1909.2" y2="171.5" stroke="#c45ccc" stroke-width="1.8" stroke-linecap="butt"/>
<line x1="1895.2" y1="166.3" x2="1909.2" y2="166.3" stroke="#c45ccc" stroke-width="1.8" stroke-linecap="butt"/>
<line x1="1901.7" y1="132.1" x2="1909.2" y2="132.1" stroke="#c45ccc" stroke-width="1.8" stroke-linecap="butt"/>
<line x1="1901.7" y1="112" x2="1909.2" y2="112" stroke="#c45ccc" stroke-width="1.8" stroke-linecap="butt"/>
<line x1="1901.7" y1="97.8" x2="1909.2" y2="97.8" stroke="#c45ccc" stroke-width="1.8" stroke-linecap="butt"/>
<line x1="1901.7" y1="86.8" x2="1909.2" y2="86.8" stroke="#c45ccc" stroke-width="1.8" stroke-linecap="butt"/>
<line x1="1895.2" y1="1094" x2="1909.2" y2="1094" stroke="#c45ccc" stroke-width="1.8" stroke-linecap="butt"/>
<line x1="1901.7" y1="1063.3" x2="1909.2" y2="1063.3" stroke="#c45ccc" stroke-width="1.8" stroke-linecap="butt"/>
<line x1="1901.7" y1="1032.6" x2="1909.2" y2="1032.6" stroke="#c45ccc" stroke-width="1.8" stroke-linecap="butt"/>
<line x1="1901.7" y1="1002" x2="1909.2" y2="1002" stroke="#c45ccc" stroke-width="1.8" stroke-linecap="butt"/>
<line x1="1895.2" y1="971.3" x2="1909.2" y2="971.3" stroke="#c45ccc" stroke-width="1.8" stroke-linecap="butt"/>
<line x1="1901.7" y1="940.6" x2="1909.2" y2="940.6" stroke="#c45ccc" stroke-width="1.8" stroke-linecap="butt"/>
<line x1="1901.7" y1="909.9" x2="1909.2" y2="909.9" stroke="#c45ccc" stroke-width="1.8" stroke-linecap="butt"/>
<line x1="1901.7" y1="879.2" x2="1909.2" y2="879.2" stroke="#c45ccc" stroke-width="1.8" stroke-linecap="butt"/>
<line x1="1895.2" y1="848.6" x2="1909.2" y2="848.6" stroke="#c45ccc" stroke-width="1.8" stroke-linecap="butt"/>
<line x1="1901.7" y1="817.9" x2="1909.2" y2="817.9" stroke="#c45ccc" stroke-width="1.8" stroke-linecap="butt"/>
<line x1="1901.7" y1="787.2" x2="1909.2" y2="787.2" stroke="#c45ccc" stroke-width="1.8" stroke-linecap="butt"/>
<line x1="1901.7" y1="756.5" x2="1909.2" y2="756.5" stroke="#c45ccc" stroke-width="1.8" stroke-linecap="butt"/>
<line x1="1895.2" y1="725.8" x2="1909.2" y2="725.8" stroke="#c45ccc" stroke-width="1.8" stroke-linecap="butt"/>
<line x1="1901.7" y1="695.2" x2="1909.2" y2="695.2" stroke="#c45ccc" stroke-width="1.8" stroke-linecap="butt"/>
<line x1="1901.7" y1="664.5" x2="1909.2" y2="664.5" stroke="#c45ccc" stroke-width="1.8" stroke-linecap="butt"/>
<line x1="1901.7" y1="633.8" x2="1909.2" y2="633.8" stroke="#c45ccc" stroke-width="1.8" stroke-linecap="butt"/>
<line x1="1895.2" y1="603.1" x2="1909.2" y2="603.1" stroke="#c45ccc" stroke-width="1.8" stroke-linecap="butt"/>
<line x1="1901.7" y1="572.4" x2="1909.2" y2="572.4" stroke="#c45ccc" stroke-width="1.8" stroke-linecap="butt"/>
<line x1="1901.7" y1="541.8" x2="1909.2" y2="541.8" stroke="#c45ccc" stroke-width="1.8" stroke-linecap="butt"/>
<line x1="1901.7" y1="511.1" x2="1909.2" y2="511.1" stroke="#c45ccc" stroke-width="1.8" stroke-linecap="butt"/>
<line x1="1895.2" y1="480.4" x2="1909.2" y2="480.4" stroke="#c45ccc" stroke-width="1.8" stroke-linecap="butt"/>
<line x1="1901.7" y1="449.7" x2="1909.2" y2="449.7" stroke="#c45ccc" stroke-width="1.8" stroke-linecap="butt"/>
<path d="M1909.2 82 L1183.3 82 L1183.3 393.6 L1909.2 393.6" fill="none" stroke="#000" stroke-width="1.8" stroke-linejoin="miter"/>
<line x1="1909.2" y1="81.1" x2="1909.2" y2="394.5" stroke="#c45ccc" stroke-width="1.8" stroke-linecap="butt"/>
<path d="M1909.2 418.8 L1183.3 418.8 L1183.3 1094 L1909.2 1094" fill="none" stroke="#000" stroke-width="1.8" stroke-linejoin="miter"/>
<line x1="1909.2" y1="417.9" x2="1909.2" y2="1094.9" stroke="#c45ccc" stroke-width="1.8" stroke-linecap="butt"/>
<text x="1183.3" y="1132" font-size="37" fill="#000" text-anchor="middle" font-weight="normal" font-style="normal">0.1</text>
<text x="1458.2" y="1132" font-size="37" fill="#000" text-anchor="middle" font-weight="normal" font-style="normal">0.5</text>
<text x="1576.6" y="1132" font-size="37" fill="#000" text-anchor="middle" font-weight="normal" font-style="normal">1</text>
<text x="1851.5" y="1132" font-size="37" fill="#000" text-anchor="middle" font-weight="normal" font-style="normal">5</text>
<text x="1173.8" y="363.7" font-size="37" fill="#000" text-anchor="end" font-weight="normal" font-style="normal">10<tspan font-size="26" dy="-11.3">0</tspan><tspan dy="11.3">​</tspan></text>
<text x="1173.8" y="285.4" font-size="37" fill="#000" text-anchor="end" font-weight="normal" font-style="normal">10<tspan font-size="26" dy="-11.3">2</tspan><tspan dy="11.3">​</tspan></text>
<text x="1173.8" y="207.1" font-size="37" fill="#000" text-anchor="end" font-weight="normal" font-style="normal">10<tspan font-size="26" dy="-11.3">4</tspan><tspan dy="11.3">​</tspan></text>
<text x="1173.8" y="128.8" font-size="37" fill="#000" text-anchor="end" font-weight="normal" font-style="normal">10<tspan font-size="26" dy="-11.3">6</tspan><tspan dy="11.3">​</tspan></text>
<text x="1173.8" y="476.7" font-size="37" fill="#000" text-anchor="end" font-weight="normal" font-style="normal">10<tspan font-size="26" dy="-11.3">-4</tspan><tspan dy="11.3">​</tspan></text>
<text x="1173.8" y="600.2" font-size="37" fill="#000" text-anchor="end" font-weight="normal" font-style="normal">10<tspan font-size="26" dy="-11.3">-6</tspan><tspan dy="11.3">​</tspan></text>
<text x="1173.8" y="723.7" font-size="37" fill="#000" text-anchor="end" font-weight="normal" font-style="normal">10<tspan font-size="26" dy="-11.3">-8</tspan><tspan dy="11.3">​</tspan></text>
<text x="1173.8" y="847.3" font-size="37" fill="#000" text-anchor="end" font-weight="normal" font-style="normal">10<tspan font-size="26" dy="-11.3">-10</tspan><tspan dy="11.3">​</tspan></text>
<text x="1173.8" y="970.8" font-size="37" fill="#000" text-anchor="end" font-weight="normal" font-style="normal">10<tspan font-size="26" dy="-11.3">-12</tspan><tspan dy="11.3">​</tspan></text>
<text x="1173.8" y="1094.3" font-size="37" fill="#000" text-anchor="end" font-weight="normal" font-style="normal">10<tspan font-size="26" dy="-11.3">-14</tspan><tspan dy="11.3">​</tspan></text>
<text x="1919.2" y="403.3" font-size="37" fill="#e04ce0" text-anchor="start" font-weight="normal" font-style="normal">10</text>
<text x="1919.2" y="289.6" font-size="37" fill="#e04ce0" text-anchor="start" font-weight="normal" font-style="normal">100</text>
<text x="1919.2" y="175.8" font-size="37" fill="#e04ce0" text-anchor="start" font-weight="normal" font-style="normal">1000</text>
<text x="1919.2" y="1102.5" font-size="37" fill="#e04ce0" text-anchor="start" font-weight="normal" font-style="normal">0</text>
<text x="1919.2" y="979.8" font-size="37" fill="#e04ce0" text-anchor="start" font-weight="normal" font-style="normal">0.2</text>
<text x="1919.2" y="857.1" font-size="37" fill="#e04ce0" text-anchor="start" font-weight="normal" font-style="normal">0.4</text>
<text x="1919.2" y="734.3" font-size="37" fill="#e04ce0" text-anchor="start" font-weight="normal" font-style="normal">0.6</text>
<text x="1919.2" y="611.6" font-size="37" fill="#e04ce0" text-anchor="start" font-weight="normal" font-style="normal">0.8</text>
<text x="1919.2" y="488.9" font-size="37" fill="#e04ce0" text-anchor="start" font-weight="normal" font-style="normal">1</text>
<text x="1086.4" y="245" font-size="41.5" fill="#000" text-anchor="middle" font-weight="normal" font-style="normal" transform="rotate(-90 1086.4 245)">Density (cm<tspan font-size="29" dy="-13">-3</tspan><tspan dy="13">​</tspan>)</text>
<text x="1086.6" y="736.6" font-size="40" fill="#000" text-anchor="middle" font-weight="normal" font-style="normal" transform="rotate(-90 1086.6 736.6)">Abundance wrt H nuclei</text>
<text x="1916.7" y="86.4" font-size="37.3" fill="#e04ce0" text-anchor="start" font-weight="normal" font-style="normal">T<tspan font-size="27" dy="8">k</tspan><tspan dy="-8">​</tspan> (K)</text>
<text x="1982.8" y="717" font-size="38" fill="#e04ce0" text-anchor="middle" font-weight="normal" font-style="normal" transform="rotate(90 1982.8 717)">Molecular gas fraction, <tspan font-style="italic">f</tspan><tspan font-size="28" dy="8">H2</tspan><tspan dy="-8">​</tspan></text>
<text x="1527" y="1188.2" font-size="41.2" fill="#000" text-anchor="middle" font-weight="normal" font-style="normal">Depth into the wind (A<tspan font-size="28" dy="7">V</tspan><tspan dy="-7">​</tspan>)</text>
<text x="1040.5" y="45.5" font-size="47" fill="#000" text-anchor="start" font-weight="bold" font-style="normal">b</text>
<text x="1200" y="44.8" font-size="48.4" fill="#000" text-anchor="start" font-weight="normal" font-style="normal"><tspan font-style="italic">n</tspan><tspan font-size="34" dy="8">H</tspan><tspan dy="-8">​</tspan>=3.5·10<tspan font-size="34" dy="-17">5</tspan><tspan dy="17">​</tspan> cm<tspan font-size="34" dy="-17">-3</tspan><tspan dy="17">​</tspan> <tspan fill="#1f78c0">+</tspan> “Bigger grains”</text>
<clipPath id="cc1"><rect x="147" y="1400.7" width="728.2" height="312.3"/></clipPath>
<clipPath id="cc2"><rect x="147" y="1738.5" width="728.2" height="676.7"/></clipPath>
<path d="M147 1484.3C156.1 1484.2 183.1 1483.8 201.7 1483.6C220.2 1483.4 246.2 1483 258.3 1483.2C270.4 1483.4 269.1 1484.1 274.5 1484.8C279.9 1485.5 281.3 1486.5 290.7 1487.2C300.1 1487.9 316.3 1487.7 331.1 1488.8C345.9 1489.9 368.6 1492.5 379.6 1493.7C390.6 1494.9 390.1 1495 397 1496.1C403.9 1497.2 413.2 1498.1 421.3 1500.1C429.4 1502.1 438.8 1506.3 445.5 1508.2C452.2 1510.1 457.1 1511.2 461.7 1511.5C466.3 1511.8 468.9 1511.1 473 1509.8C477.1 1508.5 481.1 1505.7 486 1503.4C490.9 1501.1 495.4 1497.4 502.1 1496.1C508.8 1494.8 517 1495 526.4 1495.3C535.8 1495.6 548 1496.5 558.8 1497.7C569.6 1498.9 580.3 1500 591.1 1502.6C601.9 1505.2 612.5 1509.7 623.5 1513.1C634.5 1516.5 646 1520.5 657 1522.8C668 1525.1 675.9 1525.9 689.4 1526.8C702.9 1527.7 721.7 1527.6 737.9 1528C754.1 1528.4 774.3 1528.4 786.4 1529.3C798.5 1530.2 804 1531.4 810.7 1533.3C817.4 1535.2 821.4 1537.5 826.8 1540.6C832.2 1543.7 837.6 1548.5 843 1551.9C848.4 1555.3 853.8 1558.9 859.2 1560.8C864.6 1562.7 872.5 1562.8 875.2 1563.2" fill="none" stroke="#2ee62e" stroke-width="2.6" stroke-linecap="round" stroke-linejoin="round" clip-path="url(#cc1)"/>
<path d="M147 1592.3C153.4 1590.8 173.7 1586.4 185.5 1583.4C197.3 1580.5 208.5 1577.7 217.9 1574.6C227.3 1571.5 234.6 1568.3 242.1 1564.8C249.6 1561.3 257.4 1557 263.2 1553.5C269 1550 271 1545.2 276.9 1543.9C282.8 1542.7 287.1 1545.5 298.8 1546.2C310.5 1546.9 330.9 1547.2 347.3 1547.9C363.7 1548.6 383.3 1548.8 397 1550.3C410.7 1551.8 421.3 1553.6 429.4 1556.8C437.5 1560 440.1 1564.3 445.5 1569.7C450.9 1575.1 456.3 1583.4 461.7 1589.1C467.1 1594.8 471.2 1599.1 477.9 1603.7C484.6 1608.3 494 1612.8 502.1 1616.6C510.2 1620.4 517 1622.5 526.4 1626.3C535.8 1630.1 546.5 1634.1 558.8 1639.3C571.1 1644.5 589.7 1652.1 600 1657.3C610.3 1662.5 613.9 1666.5 620.8 1670.5C627.7 1674.5 634.7 1678.1 641.6 1681.6C648.5 1685.1 655.5 1688.1 662.4 1691.3C669.3 1694.5 675.3 1697.2 683.2 1701C691.1 1704.8 705.5 1711.8 710 1714" fill="none" stroke="#9a9a9a" stroke-width="3.2" stroke-linecap="round" stroke-linejoin="round" clip-path="url(#cc1)"/>
<path d="M147 1564.8C153.4 1563.2 173.7 1558.3 185.5 1555.1C197.3 1551.9 208.5 1548.9 217.9 1545.4C227.3 1541.9 235.4 1537.9 242.1 1534.1C248.8 1530.3 253.7 1527.1 258.3 1522.8C262.9 1518.5 266.6 1513.6 269.6 1508.2C272.6 1502.8 273.4 1495 276.1 1490.4C278.8 1485.8 282 1483.1 285.8 1480.7C289.6 1478.3 291.2 1477.5 298.8 1475.9C306.4 1474.3 319 1472.6 331.1 1471C343.2 1469.4 360.6 1467.5 371.6 1466.2C382.6 1464.9 388.7 1464.5 397 1462.9C405.3 1461.3 413.2 1459.5 421.3 1456.5C429.4 1453.5 437.4 1448.8 445.5 1445.1C453.6 1441.4 461.7 1437.1 469.8 1434.6C477.9 1432 484.7 1430.7 494.1 1429.8C503.5 1428.9 510.2 1429.5 526.4 1429.3C542.6 1429.1 533 1428.6 591.1 1428.6C649.2 1428.5 827.9 1428.9 875.2 1429" fill="none" stroke="#000" stroke-width="3.6" stroke-linecap="round" stroke-linejoin="round" clip-path="url(#cc1)"/>
<path d="M147 1421.7C153.4 1422 173.7 1422.5 185.5 1423.3C197.3 1424.1 208.5 1425.3 217.9 1426.5C227.3 1427.7 235.4 1428.8 242.1 1430.6C248.8 1432.4 253.7 1434.9 258.3 1437.1C262.9 1439.2 266.6 1440.8 269.6 1443.5C272.6 1446.2 273.9 1450.2 276.1 1453.2C278.3 1456.2 280.2 1459.1 282.6 1461.3C285 1463.5 285.3 1464.7 290.7 1466.2C296.1 1467.7 305.5 1469.1 314.9 1470.2C324.3 1471.3 336.5 1471.5 347.3 1472.6C358.1 1473.7 371.3 1475.8 379.6 1476.7C387.9 1477.6 390.1 1476.9 397 1478C403.9 1479.1 413.2 1480.3 421.3 1483.2C429.4 1486.1 437.4 1490.9 445.5 1495.3C453.6 1499.7 461.7 1504.4 469.8 1509.8C477.9 1515.2 487.4 1522.7 494.1 1527.6C500.8 1532.5 502.1 1534.7 510.2 1539C518.3 1543.3 531.8 1548.9 542.6 1553.5C553.4 1558.1 564.1 1562.5 574.9 1566.5C585.7 1570.5 596.5 1574 607.3 1577.8C618.1 1581.6 631.3 1586.4 639.6 1589.1C647.9 1591.8 646 1591.3 657 1594C668 1596.7 689.3 1601 705.5 1605.3C721.7 1609.6 737.9 1614.7 754.1 1619.8C770.3 1624.9 789.1 1631.1 802.6 1636C816.1 1640.9 825.5 1645.3 834.9 1649C844.3 1652.7 852.5 1656 859.2 1657.9C865.9 1659.8 872.5 1659.9 875.2 1660.3" fill="none" stroke="#f7b4f7" stroke-width="2.5999999999999996" stroke-linecap="round" stroke-linejoin="round" clip-path="url(#cc1)"/>
<path d="M147 1421.7C153.4 1422 173.7 1422.5 185.5 1423.3C197.3 1424.1 208.5 1425.3 217.9 1426.5C227.3 1427.7 235.4 1428.8 242.1 1430.6C248.8 1432.4 253.7 1434.9 258.3 1437.1C262.9 1439.2 266.6 1440.8 269.6 1443.5C272.6 1446.2 273.9 1450.2 276.1 1453.2C278.3 1456.2 280.2 1459.1 282.6 1461.3C285 1463.5 285.3 1464.7 290.7 1466.2C296.1 1467.7 305.5 1469.1 314.9 1470.2C324.3 1471.3 336.5 1471.5 347.3 1472.6C358.1 1473.7 371.3 1475.8 379.6 1476.7C387.9 1477.6 390.1 1476.9 397 1478C403.9 1479.1 413.2 1480.3 421.3 1483.2C429.4 1486.1 437.4 1490.9 445.5 1495.3C453.6 1499.7 461.7 1504.4 469.8 1509.8C477.9 1515.2 487.4 1522.7 494.1 1527.6C500.8 1532.5 502.1 1534.7 510.2 1539C518.3 1543.3 531.8 1548.9 542.6 1553.5C553.4 1558.1 564.1 1562.5 574.9 1566.5C585.7 1570.5 596.5 1574 607.3 1577.8C618.1 1581.6 631.3 1586.4 639.6 1589.1C647.9 1591.8 646 1591.3 657 1594C668 1596.7 689.3 1601 705.5 1605.3C721.7 1609.6 737.9 1614.7 754.1 1619.8C770.3 1624.9 789.1 1631.1 802.6 1636C816.1 1640.9 825.5 1645.3 834.9 1649C844.3 1652.7 852.5 1656 859.2 1657.9C865.9 1659.8 872.5 1659.9 875.2 1660.3" fill="none" stroke="#b226b2" stroke-width="3.9" stroke-linecap="round" stroke-linejoin="round" stroke-dasharray="0 6.45" clip-path="url(#cc1)"/>
<text x="276.3" y="1609.3" font-size="37" fill="#6e6e6e" text-anchor="start" font-weight="normal" font-style="normal">H<tspan font-size="27" dy="8">2</tspan><tspan dy="-8">​</tspan><tspan font-size="27" dy="-15">*</tspan><tspan dy="15">​</tspan> (v&gt;0)</text>
<text x="514.4" y="1484.8" font-size="37" fill="#2ee62e" text-anchor="start" font-weight="normal" font-style="normal">e<tspan font-size="27" dy="-14">-</tspan><tspan dy="14">​</tspan> x100</text>
<text x="731.6" y="1471" font-size="37" fill="#000" text-anchor="start" font-weight="normal" font-style="normal">H<tspan font-size="27" dy="8">2</tspan><tspan dy="-8">​</tspan> (tot)</text>
<text x="770" y="1610.1" font-size="37" fill="#e04ce0" text-anchor="start" font-weight="normal" font-style="normal">T<tspan font-size="27" dy="8">k</tspan><tspan dy="-8">​</tspan></text>
<path d="M146.7 2031.9C153.2 2029.7 173.8 2023.2 185.7 2018.9C197.6 2014.6 208.7 2010.8 218.2 2005.9C227.7 2001 235.8 1995.7 242.5 1989.7C249.2 1983.8 254.6 1977 258.7 1970.2C262.8 1963.4 264.1 1956.7 266.8 1949.1C269.5 1941.5 272.3 1931.6 275 1924.8C277.7 1918 279.1 1912.6 283.1 1908.5C287.2 1904.4 291.2 1903.6 299.3 1900.4C307.4 1897.2 321 1893.1 331.8 1889.1C342.6 1885 353.4 1880.7 364.2 1876.1C375 1871.5 387.2 1865.6 396.7 1861.5C406.2 1857.4 413.1 1855.2 421.3 1851.7C429.5 1848.2 438.9 1842.6 445.7 1840.4C452.5 1838.2 456.5 1837.9 461.9 1838.7C467.3 1839.5 472.8 1842 478.2 1845.2C483.6 1848.5 489.5 1855.4 494.4 1858.2C499.3 1861 502 1862.3 507.4 1862.3C512.8 1862.3 519.5 1860.5 526.8 1858.2C534.1 1855.9 543.1 1852.3 551.2 1848.5C559.3 1844.7 566 1840.9 575.5 1835.5C585 1830.1 597.2 1821.7 608 1816C618.8 1810.3 628.3 1806 640.5 1801.4C652.7 1796.8 669.1 1791.7 681.3 1788.4C693.5 1785.2 701.6 1783.7 713.8 1781.9C726 1780.2 727.5 1778.6 754.4 1777.9C781.3 1777.2 855.1 1777.9 875.2 1777.9" fill="none" stroke="#2ae6ee" stroke-width="4.6" stroke-linecap="round" stroke-linejoin="round" clip-path="url(#cc2)"/>
<path d="M145.3 2235.3C149.5 2232.8 162.1 2225.9 170.4 2220.3C178.8 2214.7 187.1 2209.1 195.4 2201.9C203.8 2194.7 213.5 2186.1 220.5 2176.9C227.5 2167.7 232.2 2157.1 237.2 2146.8C242.2 2136.5 246.6 2125.4 250.5 2115.1C254.4 2104.8 258.1 2094.2 260.6 2085C263.1 2075.8 263.8 2071.8 265.6 2060C267.5 2048.2 269.3 2025.7 271.7 2014C274.1 2002.3 276.6 1995.4 279.8 1989.7C283.1 1984 285.2 1982.2 291.2 1980C297.1 1977.8 303.3 1977.2 315.5 1976.7C327.7 1976.2 350.6 1976.4 364.2 1976.7C377.8 1977 388.8 1977.2 397 1978.3C405.2 1979.4 407.8 1981 413.2 1983.2C418.6 1985.4 424.1 1986.7 429.5 1991.3C434.9 1995.9 440.3 2003.5 445.7 2010.8C451.1 2018.1 456.7 2027.2 461.9 2035.1C467.1 2043 472.3 2051.1 477.1 2058C481.9 2064.9 485.8 2070.2 490.5 2076.7C495.2 2083.1 498.8 2090.6 505.5 2096.7C512.2 2102.8 520.9 2107 530.6 2113.4C540.4 2119.8 554.3 2127.3 564 2135.1C573.7 2142.9 580.6 2150.4 589 2160.2C597.4 2169.9 607.1 2183.3 614.1 2193.6C621.1 2203.9 625.2 2212.3 630.8 2222C636.4 2231.7 639.8 2238.7 647.5 2252C655.2 2265.3 669.9 2289.6 677 2302.1C684.1 2314.6 685.4 2318 690.4 2327.2C695.4 2336.4 701.5 2347.5 707.1 2357.2C712.7 2366.9 718.6 2375.5 723.8 2385.6C728.9 2395.7 735.6 2412.6 738 2418" fill="none" stroke="#2ee62e" stroke-width="4.6" stroke-linecap="round" stroke-linejoin="round" clip-path="url(#cc2)"/>
<path d="M146.7 2053C153.2 2051.1 173.8 2045.6 185.7 2041.6C197.6 2037.5 208.7 2033.6 218.2 2028.7C227.7 2023.8 235.8 2018.4 242.5 2012.4C249.2 2006.5 254.1 1999.5 258.7 1993C263.3 1986.5 267.1 1978.9 270.1 1973.5C273.1 1968.1 273.9 1963.6 276.6 1960.5C279.3 1957.4 281.2 1956 286.3 1954.8C291.4 1953.6 297.1 1953.1 307.4 1953.2C317.7 1953.3 335.8 1954.4 348 1955.6C360.2 1956.8 372.3 1959.2 380.5 1960.5C388.7 1961.8 391.6 1962.4 397 1963.7C402.4 1965 407.8 1966.2 413.2 1968.6C418.6 1971 424.1 1973.7 429.5 1978.3C434.9 1982.9 440.3 1989.4 445.7 1996.2C451.1 2003 456.5 2011.1 461.9 2018.9C467.3 2026.8 472.2 2033.7 478.2 2043.3C484.1 2052.9 493.1 2068.9 497.6 2076.7C502.2 2084.5 500 2085.6 505.5 2090C511 2094.4 520.9 2097.8 530.6 2103.4C540.4 2109 554.3 2116 564 2123.5C573.7 2131 580.6 2138.2 589 2148.5C597.4 2158.8 607.1 2173.5 614.1 2185.2C621.1 2196.9 625.2 2207.5 630.8 2218.6C636.4 2229.7 641.9 2239.5 647.5 2252C653.1 2264.5 659.3 2282.1 664.2 2293.8C669.1 2305.5 672.6 2313.2 677 2322.1C681.4 2331 685.4 2336.6 690.4 2347.2C695.4 2357.8 702.8 2373.8 707.1 2385.6C711.4 2397.4 714.5 2412.6 716 2418" fill="none" stroke="#848484" stroke-width="5" stroke-linecap="round" stroke-linejoin="round" clip-path="url(#cc2)"/>
<path d="M145.3 2300.4C149.5 2297.9 162.1 2291.5 170.4 2285.4C178.8 2279.3 187.1 2271.5 195.4 2263.7C203.8 2255.9 213.5 2247 220.5 2238.7C227.5 2230.3 232.2 2222.2 237.2 2213.6C242.2 2205 246.6 2196.9 250.5 2186.9C254.4 2176.9 257.8 2164.1 260.6 2153.5C263.4 2142.9 265 2134.9 267.2 2123.5C269.4 2112.1 272 2095.1 273.9 2085C275.8 2074.9 277 2068.1 278.5 2063C280 2057.9 279.6 2058.2 283.1 2054.6C286.6 2051 291.2 2045.4 299.3 2041.6C307.4 2037.8 319.6 2035.4 331.8 2031.9C344 2028.4 361.4 2024.6 372.3 2020.5C383.2 2016.4 390.2 2010.7 397 2007.5C403.8 2004.3 407.8 2003 413.2 2001.1C418.6 1999.2 424.1 1996.5 429.5 1996.2C434.9 1995.9 440.3 1996.7 445.7 1999.4C451.1 2002.1 457 2007.2 461.9 2012.4C466.8 2017.6 471.4 2024.6 474.9 2030.3C478.4 2036 480.5 2039.9 483 2046.5C485.5 2053.1 487.1 2060.8 490 2070C492.9 2079.2 496.5 2094.2 500.5 2101.7C504.5 2109.2 507.5 2110.4 513.9 2115.1C520.3 2119.8 529.2 2123.7 538.9 2130.1C548.6 2136.5 562.5 2146.3 572.3 2153.5C582 2160.7 589 2165.4 597.4 2173.5C605.8 2181.6 614 2192.2 622.4 2201.9C630.8 2211.7 641.7 2224.8 647.5 2232C653.3 2239.2 652.6 2239.2 657 2245.3C661.4 2251.4 668.1 2260.6 673.7 2268.7C679.3 2276.8 684.8 2286.3 690.4 2293.8C696 2301.3 700.1 2308.2 707.1 2313.8C714.1 2319.4 723.8 2324.4 732.1 2327.2C740.5 2330 747.5 2329.9 757.2 2330.5C767 2331.1 780.9 2331.9 790.6 2330.5C800.3 2329.1 808.7 2326 815.6 2322.1C822.5 2318.2 826.7 2313.2 832.3 2307.1C837.9 2301 844 2290.4 849 2285.4C854 2280.4 858 2279.5 862.4 2277.1C866.8 2274.7 873.1 2272.2 875.2 2271.2" fill="none" stroke="#000" stroke-width="5" stroke-linecap="round" stroke-linejoin="round" clip-path="url(#cc2)"/>
<path d="M145.3 2378.9C149.5 2374.2 162.1 2361.1 170.4 2350.5C178.8 2339.9 187.1 2327.7 195.4 2315.5C203.8 2303.3 213.5 2289.6 220.5 2277.1C227.5 2264.6 232.2 2252.6 237.2 2240.3C242.2 2228.1 246.6 2216.4 250.5 2203.6C254.4 2190.8 257.8 2176.3 260.6 2163.5C263.4 2150.7 265.3 2139.9 267.2 2126.8C269.1 2113.7 270.9 2102.4 272.2 2085C273.5 2067.6 273.2 2038.1 275 2022.2C276.8 2006.3 280.4 1997 283.1 1989.7C285.8 1982.4 287.1 1981.5 291.2 1978.3C295.2 1975 297.9 1973.2 307.4 1970.2C316.9 1967.2 335.8 1963.8 348 1960.5C360.2 1957.2 372.3 1952.9 380.5 1950.7C388.7 1948.5 390.2 1949.9 397 1947.5C403.8 1945.1 414 1938.8 421.3 1936.1C428.6 1933.4 434.6 1930.8 440.8 1931.3C447 1931.8 453.8 1935.9 458.7 1939.4C463.6 1942.9 466.2 1946.7 470 1952.4C473.8 1958.1 477.9 1965.9 481.4 1973.5C484.9 1981.1 487.9 1990.2 491.1 1997.8C494.4 2005.4 497.1 2013.2 500.9 2018.9C504.7 2024.6 508.2 2027.8 513.9 2031.9C519.6 2036 527.4 2039 535 2043.3C542.6 2047.6 552.5 2052.3 559.3 2057.9C566 2063.5 569.1 2069.9 575.5 2076.7C581.9 2083.4 589.6 2090.1 597.4 2098.4C605.2 2106.8 614 2116.5 622.4 2126.8C630.8 2137.1 641.7 2152.4 647.5 2160.2C653.3 2168 652.6 2167.4 657 2173.5C661.4 2179.6 668.1 2188 673.7 2196.9C679.3 2205.8 684.8 2216.4 690.4 2227C696 2237.6 701.5 2249.3 707.1 2260.4C712.7 2271.5 718.8 2283.2 723.8 2293.8C728.8 2304.4 732.9 2313.5 737.1 2323.8C741.3 2334.1 745.4 2345.2 748.8 2355.5C752.1 2365.8 754.4 2377.5 757.2 2385.6C760 2393.7 762.2 2398.6 765.5 2404C768.8 2409.4 775.1 2415.7 777 2418" fill="none" stroke="#ec1010" stroke-width="5" stroke-linecap="round" stroke-linejoin="round" clip-path="url(#cc2)"/>
<path d="M146.7 1778.4C155.9 1778.4 181.9 1778.4 201.9 1778.4C221.9 1778.4 253.3 1778 266.8 1778.4C280.3 1778.9 275 1780.2 283.1 1781.1C291.2 1782 304.7 1782.8 315.5 1783.6C326.3 1784.4 337.2 1784.9 348 1786C358.8 1787.1 372.3 1788.9 380.5 1790.1C388.7 1791.3 390.2 1791.1 397 1793.3C403.8 1795.5 413.2 1798.4 421.3 1803C429.4 1807.6 439.5 1816.8 445.7 1820.9C451.9 1825 454.6 1826.9 458.7 1827.4C462.8 1827.9 465.4 1827.3 470 1824.1C474.6 1820.8 480.9 1812.9 486.3 1807.9C491.7 1802.9 497.1 1796.8 502.5 1794.1C507.9 1791.4 511.9 1791.8 518.7 1791.7C525.5 1791.6 535 1792.2 543.1 1793.3C551.2 1794.4 559.3 1795.8 567.4 1798.2C575.5 1800.6 583.7 1803.9 591.8 1807.9C599.9 1812 608 1816.5 616.1 1822.5C624.2 1828.5 633.7 1837.4 640.5 1843.6C647.3 1849.8 651.5 1854.5 657 1859.9C662.5 1865.3 667.8 1869.3 673.2 1876.1C678.6 1882.8 684.1 1890.9 689.5 1900.4C694.9 1909.9 700.3 1921.3 705.7 1932.9C711.1 1944.5 717 1958 721.9 1970.2C726.8 1982.4 730.8 1994.5 734.9 2005.9C739 2017.3 743.1 2029.4 746.3 2038.4C749.4 2047.4 750.9 2052.2 753.8 2060C756.7 2067.8 760 2077.2 763.9 2085C767.8 2092.8 771.4 2100.1 777.2 2106.8C783 2113.5 792.5 2119 798.9 2125.1C805.3 2131.2 810 2135.4 815.6 2143.5C821.2 2151.6 827.3 2163.8 832.3 2173.5C837.3 2183.2 841.5 2195.2 845.7 2201.9C849.9 2208.6 852.5 2211.1 857.4 2213.6C862.3 2216.1 872.2 2216.4 875.2 2217" fill="none" stroke="#1010c8" stroke-width="5.6" stroke-linecap="round" stroke-linejoin="round" clip-path="url(#cc2)"/>
<path d="M147 2414.8C166.6 2414.7 243.6 2416 264.8 2413.9C285.9 2411.8 271 2407 273.9 2402.3C276.8 2397.7 278.7 2390.4 282.3 2386C285.9 2381.6 289.2 2378.9 295.6 2375.6C302 2372.3 313.3 2368.3 320.7 2366C328.1 2363.7 332.6 2364.1 340 2362C347.4 2359.9 356.9 2356.9 365 2353.5C373.1 2350.1 381.4 2346.8 388.4 2341.8C395.4 2336.8 401.6 2330.3 406.8 2323.5C412 2316.7 415.7 2309 419.3 2300.9C422.9 2292.8 425.9 2284.6 428.5 2275.1C431.1 2265.6 433.1 2254.7 435.2 2244.2C437.3 2233.7 439 2223.2 441 2212C443 2200.8 444.7 2193.9 447.1 2176.9C449.5 2159.9 453.2 2129.6 455.4 2110.1C457.6 2090.6 458.8 2074.7 460.4 2060C462 2045.3 463 2038 465.2 2022.2C467.4 2006.4 470.6 1982.9 473.3 1965.3C476 1947.7 478.7 1930.2 481.4 1916.7C484.1 1903.2 486.8 1893.7 489.5 1884.2C492.2 1874.7 494.1 1866.9 497.6 1859.9C501.1 1852.9 504.4 1847.7 510.6 1842C516.8 1836.3 525.5 1830.7 535 1825.8C544.5 1820.9 557.9 1816 567.4 1812.8C576.9 1809.5 582.3 1808.1 591.8 1806.3C601.3 1804.5 612.8 1803.2 624.2 1802.2C635.6 1801.2 630.2 1800.9 660 1800.6C689.8 1800.3 775.2 1800.2 803.1 1800.6C831 1801 819.3 1802 827.4 1803C835.5 1804 843.8 1804.9 851.8 1806.3C859.8 1807.7 871.3 1810.4 875.2 1811.2" fill="none" stroke="#f7b4f7" stroke-width="2.2" stroke-linecap="round" stroke-linejoin="round" clip-path="url(#cc2)"/>
<path d="M147 2414.8C166.6 2414.7 243.6 2416 264.8 2413.9C285.9 2411.8 271 2407 273.9 2402.3C276.8 2397.7 278.7 2390.4 282.3 2386C285.9 2381.6 289.2 2378.9 295.6 2375.6C302 2372.3 313.3 2368.3 320.7 2366C328.1 2363.7 332.6 2364.1 340 2362C347.4 2359.9 356.9 2356.9 365 2353.5C373.1 2350.1 381.4 2346.8 388.4 2341.8C395.4 2336.8 401.6 2330.3 406.8 2323.5C412 2316.7 415.7 2309 419.3 2300.9C422.9 2292.8 425.9 2284.6 428.5 2275.1C431.1 2265.6 433.1 2254.7 435.2 2244.2C437.3 2233.7 439 2223.2 441 2212C443 2200.8 444.7 2193.9 447.1 2176.9C449.5 2159.9 453.2 2129.6 455.4 2110.1C457.6 2090.6 458.8 2074.7 460.4 2060C462 2045.3 463 2038 465.2 2022.2C467.4 2006.4 470.6 1982.9 473.3 1965.3C476 1947.7 478.7 1930.2 481.4 1916.7C484.1 1903.2 486.8 1893.7 489.5 1884.2C492.2 1874.7 494.1 1866.9 497.6 1859.9C501.1 1852.9 504.4 1847.7 510.6 1842C516.8 1836.3 525.5 1830.7 535 1825.8C544.5 1820.9 557.9 1816 567.4 1812.8C576.9 1809.5 582.3 1808.1 591.8 1806.3C601.3 1804.5 612.8 1803.2 624.2 1802.2C635.6 1801.2 630.2 1800.9 660 1800.6C689.8 1800.3 775.2 1800.2 803.1 1800.6C831 1801 819.3 1802 827.4 1803C835.5 1804 843.8 1804.9 851.8 1806.3C859.8 1807.7 871.3 1810.4 875.2 1811.2" fill="none" stroke="#b226b2" stroke-width="3.2" stroke-linecap="round" stroke-linejoin="round" stroke-dasharray="0 6.2" clip-path="url(#cc2)"/>
<text x="182.4" y="1829" font-size="42" fill="#1838d6" text-anchor="start" font-weight="bold" font-style="normal">C<tspan font-size="26" dy="-11">+</tspan><tspan dy="11">​</tspan></text>
<text x="325.2" y="1858.2" font-size="42" fill="#2ae6ee" text-anchor="start" font-weight="bold" font-style="normal">CO</text>
<text x="310.6" y="1935.3" font-size="41" fill="#848484" text-anchor="start" font-weight="bold" font-style="normal">CH<tspan font-size="26" dy="-11">+</tspan><tspan dy="11">​</tspan></text>
<text x="300.3" y="2084.2" font-size="40.5" fill="#000" text-anchor="start" font-weight="bold" font-style="normal">HCO<tspan font-size="26" dy="-11">+</tspan><tspan dy="11">​</tspan></text>
<text x="157.8" y="2120.1" font-size="42" fill="#2ee62e" text-anchor="start" font-weight="bold" font-style="normal">CH<tspan font-size="27" dy="5">2</tspan><tspan dy="-5">​</tspan><tspan font-size="26" dy="-11">+</tspan><tspan dy="11">​</tspan></text>
<text x="520.1" y="2026.7" font-size="42" fill="#ec1010" text-anchor="start" font-weight="bold" font-style="normal">CH<tspan font-size="27" dy="5">3</tspan><tspan dy="-5">​</tspan><tspan font-size="26" dy="-11">+</tspan><tspan dy="11">​</tspan></text>
<text x="724.5" y="1846.9" font-size="40" fill="#e04ce0" text-anchor="start" font-weight="bold" font-style="normal"><tspan font-style="italic">f</tspan><tspan font-size="27" dy="4">H2</tspan><tspan dy="-4">​</tspan></text>
<line x1="265.8" y1="1713" x2="265.8" y2="1704" stroke="#000" stroke-width="1.8" stroke-linecap="butt"/>
<line x1="265.8" y1="1400.7" x2="265.8" y2="1409.7" stroke="#000" stroke-width="1.8" stroke-linecap="butt"/>
<line x1="335.5" y1="1713" x2="335.5" y2="1704" stroke="#000" stroke-width="1.8" stroke-linecap="butt"/>
<line x1="335.5" y1="1400.7" x2="335.5" y2="1409.7" stroke="#000" stroke-width="1.8" stroke-linecap="butt"/>
<line x1="384.9" y1="1713" x2="384.9" y2="1704" stroke="#000" stroke-width="1.8" stroke-linecap="butt"/>
<line x1="384.9" y1="1400.7" x2="384.9" y2="1409.7" stroke="#000" stroke-width="1.8" stroke-linecap="butt"/>
<line x1="423.2" y1="1713" x2="423.2" y2="1704" stroke="#000" stroke-width="1.8" stroke-linecap="butt"/>
<line x1="423.2" y1="1400.7" x2="423.2" y2="1409.7" stroke="#000" stroke-width="1.8" stroke-linecap="butt"/>
<line x1="454.5" y1="1713" x2="454.5" y2="1704" stroke="#000" stroke-width="1.8" stroke-linecap="butt"/>
<line x1="454.5" y1="1400.7" x2="454.5" y2="1409.7" stroke="#000" stroke-width="1.8" stroke-linecap="butt"/>
<line x1="481" y1="1713" x2="481" y2="1704" stroke="#000" stroke-width="1.8" stroke-linecap="butt"/>
<line x1="481" y1="1400.7" x2="481" y2="1409.7" stroke="#000" stroke-width="1.8" stroke-linecap="butt"/>
<line x1="503.9" y1="1713" x2="503.9" y2="1704" stroke="#000" stroke-width="1.8" stroke-linecap="butt"/>
<line x1="503.9" y1="1400.7" x2="503.9" y2="1409.7" stroke="#000" stroke-width="1.8" stroke-linecap="butt"/>
<line x1="524.1" y1="1713" x2="524.1" y2="1704" stroke="#000" stroke-width="1.8" stroke-linecap="butt"/>
<line x1="524.1" y1="1400.7" x2="524.1" y2="1409.7" stroke="#000" stroke-width="1.8" stroke-linecap="butt"/>
<line x1="542.2" y1="1713" x2="542.2" y2="1697" stroke="#000" stroke-width="1.8" stroke-linecap="butt"/>
<line x1="542.2" y1="1400.7" x2="542.2" y2="1416.7" stroke="#000" stroke-width="1.8" stroke-linecap="butt"/>
<line x1="661.2" y1="1713" x2="661.2" y2="1704" stroke="#000" stroke-width="1.8" stroke-linecap="butt"/>
<line x1="661.2" y1="1400.7" x2="661.2" y2="1409.7" stroke="#000" stroke-width="1.8" stroke-linecap="butt"/>
<line x1="730.9" y1="1713" x2="730.9" y2="1704" stroke="#000" stroke-width="1.8" stroke-linecap="butt"/>
<line x1="730.9" y1="1400.7" x2="730.9" y2="1409.7" stroke="#000" stroke-width="1.8" stroke-linecap="butt"/>
<line x1="780.3" y1="1713" x2="780.3" y2="1704" stroke="#000" stroke-width="1.8" stroke-linecap="butt"/>
<line x1="780.3" y1="1400.7" x2="780.3" y2="1409.7" stroke="#000" stroke-width="1.8" stroke-linecap="butt"/>
<line x1="818.6" y1="1713" x2="818.6" y2="1704" stroke="#000" stroke-width="1.8" stroke-linecap="butt"/>
<line x1="818.6" y1="1400.7" x2="818.6" y2="1409.7" stroke="#000" stroke-width="1.8" stroke-linecap="butt"/>
<line x1="849.9" y1="1713" x2="849.9" y2="1704" stroke="#000" stroke-width="1.8" stroke-linecap="butt"/>
<line x1="849.9" y1="1400.7" x2="849.9" y2="1409.7" stroke="#000" stroke-width="1.8" stroke-linecap="butt"/>
<line x1="265.8" y1="2415.2" x2="265.8" y2="2406.2" stroke="#000" stroke-width="1.8" stroke-linecap="butt"/>
<line x1="265.8" y1="1738.5" x2="265.8" y2="1747.5" stroke="#000" stroke-width="1.8" stroke-linecap="butt"/>
<line x1="335.5" y1="2415.2" x2="335.5" y2="2406.2" stroke="#000" stroke-width="1.8" stroke-linecap="butt"/>
<line x1="335.5" y1="1738.5" x2="335.5" y2="1747.5" stroke="#000" stroke-width="1.8" stroke-linecap="butt"/>
<line x1="384.9" y1="2415.2" x2="384.9" y2="2406.2" stroke="#000" stroke-width="1.8" stroke-linecap="butt"/>
<line x1="384.9" y1="1738.5" x2="384.9" y2="1747.5" stroke="#000" stroke-width="1.8" stroke-linecap="butt"/>
<line x1="423.2" y1="2415.2" x2="423.2" y2="2406.2" stroke="#000" stroke-width="1.8" stroke-linecap="butt"/>
<line x1="423.2" y1="1738.5" x2="423.2" y2="1747.5" stroke="#000" stroke-width="1.8" stroke-linecap="butt"/>
<line x1="454.5" y1="2415.2" x2="454.5" y2="2406.2" stroke="#000" stroke-width="1.8" stroke-linecap="butt"/>
<line x1="454.5" y1="1738.5" x2="454.5" y2="1747.5" stroke="#000" stroke-width="1.8" stroke-linecap="butt"/>
<line x1="481" y1="2415.2" x2="481" y2="2406.2" stroke="#000" stroke-width="1.8" stroke-linecap="butt"/>
<line x1="481" y1="1738.5" x2="481" y2="1747.5" stroke="#000" stroke-width="1.8" stroke-linecap="butt"/>
<line x1="503.9" y1="2415.2" x2="503.9" y2="2406.2" stroke="#000" stroke-width="1.8" stroke-linecap="butt"/>
<line x1="503.9" y1="1738.5" x2="503.9" y2="1747.5" stroke="#000" stroke-width="1.8" stroke-linecap="butt"/>
<line x1="524.1" y1="2415.2" x2="524.1" y2="2406.2" stroke="#000" stroke-width="1.8" stroke-linecap="butt"/>
<line x1="524.1" y1="1738.5" x2="524.1" y2="1747.5" stroke="#000" stroke-width="1.8" stroke-linecap="butt"/>
<line x1="542.2" y1="2415.2" x2="542.2" y2="2399.2" stroke="#000" stroke-width="1.8" stroke-linecap="butt"/>
<line x1="542.2" y1="1738.5" x2="542.2" y2="1754.5" stroke="#000" stroke-width="1.8" stroke-linecap="butt"/>
<line x1="661.2" y1="2415.2" x2="661.2" y2="2406.2" stroke="#000" stroke-width="1.8" stroke-linecap="butt"/>
<line x1="661.2" y1="1738.5" x2="661.2" y2="1747.5" stroke="#000" stroke-width="1.8" stroke-linecap="butt"/>
<line x1="730.9" y1="2415.2" x2="730.9" y2="2406.2" stroke="#000" stroke-width="1.8" stroke-linecap="butt"/>
<line x1="730.9" y1="1738.5" x2="730.9" y2="1747.5" stroke="#000" stroke-width="1.8" stroke-linecap="butt"/>
<line x1="780.3" y1="2415.2" x2="780.3" y2="2406.2" stroke="#000" stroke-width="1.8" stroke-linecap="butt"/>
<line x1="780.3" y1="1738.5" x2="780.3" y2="1747.5" stroke="#000" stroke-width="1.8" stroke-linecap="butt"/>
<line x1="818.6" y1="2415.2" x2="818.6" y2="2406.2" stroke="#000" stroke-width="1.8" stroke-linecap="butt"/>
<line x1="818.6" y1="1738.5" x2="818.6" y2="1747.5" stroke="#000" stroke-width="1.8" stroke-linecap="butt"/>
<line x1="849.9" y1="2415.2" x2="849.9" y2="2406.2" stroke="#000" stroke-width="1.8" stroke-linecap="butt"/>
<line x1="849.9" y1="1738.5" x2="849.9" y2="1747.5" stroke="#000" stroke-width="1.8" stroke-linecap="butt"/>
<line x1="147" y1="1701.4" x2="156" y2="1701.4" stroke="#000" stroke-width="1.8" stroke-linecap="butt"/>
<line x1="147" y1="1685.7" x2="156" y2="1685.7" stroke="#000" stroke-width="1.8" stroke-linecap="butt"/>
<line x1="147" y1="1673.9" x2="163" y2="1673.9" stroke="#000" stroke-width="1.8" stroke-linecap="butt"/>
<line x1="147" y1="1662.1" x2="156" y2="1662.1" stroke="#000" stroke-width="1.8" stroke-linecap="butt"/>
<line x1="147" y1="1646.4" x2="156" y2="1646.4" stroke="#000" stroke-width="1.8" stroke-linecap="butt"/>
<line x1="147" y1="1634.6" x2="156" y2="1634.6" stroke="#000" stroke-width="1.8" stroke-linecap="butt"/>
<line x1="147" y1="1622.7" x2="156" y2="1622.7" stroke="#000" stroke-width="1.8" stroke-linecap="butt"/>
<line x1="147" y1="1607" x2="156" y2="1607" stroke="#000" stroke-width="1.8" stroke-linecap="butt"/>
<line x1="147" y1="1595.2" x2="163" y2="1595.2" stroke="#000" stroke-width="1.8" stroke-linecap="butt"/>
<line x1="147" y1="1583.4" x2="156" y2="1583.4" stroke="#000" stroke-width="1.8" stroke-linecap="butt"/>
<line x1="147" y1="1567.7" x2="156" y2="1567.7" stroke="#000" stroke-width="1.8" stroke-linecap="butt"/>
<line x1="147" y1="1555.8" x2="156" y2="1555.8" stroke="#000" stroke-width="1.8" stroke-linecap="butt"/>
<line x1="147" y1="1544" x2="156" y2="1544" stroke="#000" stroke-width="1.8" stroke-linecap="butt"/>
<line x1="147" y1="1528.3" x2="156" y2="1528.3" stroke="#000" stroke-width="1.8" stroke-linecap="butt"/>
<line x1="147" y1="1516.5" x2="163" y2="1516.5" stroke="#000" stroke-width="1.8" stroke-linecap="butt"/>
<line x1="147" y1="1504.7" x2="156" y2="1504.7" stroke="#000" stroke-width="1.8" stroke-linecap="butt"/>
<line x1="147" y1="1489" x2="156" y2="1489" stroke="#000" stroke-width="1.8" stroke-linecap="butt"/>
<line x1="147" y1="1477.2" x2="156" y2="1477.2" stroke="#000" stroke-width="1.8" stroke-linecap="butt"/>
<line x1="147" y1="1465.3" x2="156" y2="1465.3" stroke="#000" stroke-width="1.8" stroke-linecap="butt"/>
<line x1="147" y1="1449.6" x2="156" y2="1449.6" stroke="#000" stroke-width="1.8" stroke-linecap="butt"/>
<line x1="147" y1="1437.8" x2="163" y2="1437.8" stroke="#000" stroke-width="1.8" stroke-linecap="butt"/>
<line x1="147" y1="1426" x2="156" y2="1426" stroke="#000" stroke-width="1.8" stroke-linecap="butt"/>
<line x1="147" y1="1410.3" x2="156" y2="1410.3" stroke="#000" stroke-width="1.8" stroke-linecap="butt"/>
<line x1="147" y1="2406.3" x2="163" y2="2406.3" stroke="#000" stroke-width="1.8" stroke-linecap="butt"/>
<line x1="147" y1="2387.7" x2="156" y2="2387.7" stroke="#000" stroke-width="1.8" stroke-linecap="butt"/>
<line x1="147" y1="2363" x2="156" y2="2363" stroke="#000" stroke-width="1.8" stroke-linecap="butt"/>
<line x1="147" y1="2344.4" x2="156" y2="2344.4" stroke="#000" stroke-width="1.8" stroke-linecap="butt"/>
<line x1="147" y1="2325.7" x2="156" y2="2325.7" stroke="#000" stroke-width="1.8" stroke-linecap="butt"/>
<line x1="147" y1="2301.1" x2="156" y2="2301.1" stroke="#000" stroke-width="1.8" stroke-linecap="butt"/>
<line x1="147" y1="2282.4" x2="163" y2="2282.4" stroke="#000" stroke-width="1.8" stroke-linecap="butt"/>
<line x1="147" y1="2263.8" x2="156" y2="2263.8" stroke="#000" stroke-width="1.8" stroke-linecap="butt"/>
<line x1="147" y1="2239.1" x2="156" y2="2239.1" stroke="#000" stroke-width="1.8" stroke-linecap="butt"/>
<line x1="147" y1="2220.5" x2="156" y2="2220.5" stroke="#000" stroke-width="1.8" stroke-linecap="butt"/>
<line x1="147" y1="2201.8" x2="156" y2="2201.8" stroke="#000" stroke-width="1.8" stroke-linecap="butt"/>
<line x1="147" y1="2177.2" x2="156" y2="2177.2" stroke="#000" stroke-width="1.8" stroke-linecap="butt"/>
<line x1="147" y1="2158.5" x2="163" y2="2158.5" stroke="#000" stroke-width="1.8" stroke-linecap="butt"/>
<line x1="147" y1="2139.9" x2="156" y2="2139.9" stroke="#000" stroke-width="1.8" stroke-linecap="butt"/>
<line x1="147" y1="2115.2" x2="156" y2="2115.2" stroke="#000" stroke-width="1.8" stroke-linecap="butt"/>
<line x1="147" y1="2096.6" x2="156" y2="2096.6" stroke="#000" stroke-width="1.8" stroke-linecap="butt"/>
<line x1="147" y1="2078" x2="156" y2="2078" stroke="#000" stroke-width="1.8" stroke-linecap="butt"/>
<line x1="147" y1="2053.3" x2="156" y2="2053.3" stroke="#000" stroke-width="1.8" stroke-linecap="butt"/>
<line x1="147" y1="2034.7" x2="163" y2="2034.7" stroke="#000" stroke-width="1.8" stroke-linecap="butt"/>
<line x1="147" y1="2016" x2="156" y2="2016" stroke="#000" stroke-width="1.8" stroke-linecap="butt"/>
<line x1="147" y1="1991.4" x2="156" y2="1991.4" stroke="#000" stroke-width="1.8" stroke-linecap="butt"/>
<line x1="147" y1="1972.7" x2="156" y2="1972.7" stroke="#000" stroke-width="1.8" stroke-linecap="butt"/>
<line x1="147" y1="1954.1" x2="156" y2="1954.1" stroke="#000" stroke-width="1.8" stroke-linecap="butt"/>
<line x1="147" y1="1929.4" x2="156" y2="1929.4" stroke="#000" stroke-width="1.8" stroke-linecap="butt"/>
<line x1="147" y1="1910.8" x2="163" y2="1910.8" stroke="#000" stroke-width="1.8" stroke-linecap="butt"/>
<line x1="147" y1="1892.1" x2="156" y2="1892.1" stroke="#000" stroke-width="1.8" stroke-linecap="butt"/>
<line x1="147" y1="1867.5" x2="156" y2="1867.5" stroke="#000" stroke-width="1.8" stroke-linecap="butt"/>
<line x1="147" y1="1848.8" x2="156" y2="1848.8" stroke="#000" stroke-width="1.8" stroke-linecap="butt"/>
<line x1="147" y1="1830.2" x2="156" y2="1830.2" stroke="#000" stroke-width="1.8" stroke-linecap="butt"/>
<line x1="147" y1="1805.5" x2="156" y2="1805.5" stroke="#000" stroke-width="1.8" stroke-linecap="butt"/>
<line x1="147" y1="1786.9" x2="163" y2="1786.9" stroke="#000" stroke-width="1.8" stroke-linecap="butt"/>
<line x1="147" y1="1768.3" x2="156" y2="1768.3" stroke="#000" stroke-width="1.8" stroke-linecap="butt"/>
<line x1="147" y1="1743.6" x2="156" y2="1743.6" stroke="#000" stroke-width="1.8" stroke-linecap="butt"/>
<line x1="861.2" y1="1712.5" x2="875.2" y2="1712.5" stroke="#c45ccc" stroke-width="1.8" stroke-linecap="butt"/>
<line x1="867.7" y1="1678.2" x2="875.2" y2="1678.2" stroke="#c45ccc" stroke-width="1.8" stroke-linecap="butt"/>
<line x1="867.7" y1="1658.2" x2="875.2" y2="1658.2" stroke="#c45ccc" stroke-width="1.8" stroke-linecap="butt"/>
<line x1="867.7" y1="1644" x2="875.2" y2="1644" stroke="#c45ccc" stroke-width="1.8" stroke-linecap="butt"/>
<line x1="867.7" y1="1633" x2="875.2" y2="1633" stroke="#c45ccc" stroke-width="1.8" stroke-linecap="butt"/>
<line x1="867.7" y1="1623.9" x2="875.2" y2="1623.9" stroke="#c45ccc" stroke-width="1.8" stroke-linecap="butt"/>
<line x1="867.7" y1="1616.3" x2="875.2" y2="1616.3" stroke="#c45ccc" stroke-width="1.8" stroke-linecap="butt"/>
<line x1="867.7" y1="1609.7" x2="875.2" y2="1609.7" stroke="#c45ccc" stroke-width="1.8" stroke-linecap="butt"/>
<line x1="867.7" y1="1603.9" x2="875.2" y2="1603.9" stroke="#c45ccc" stroke-width="1.8" stroke-linecap="butt"/>
<line x1="861.2" y1="1598.7" x2="875.2" y2="1598.7" stroke="#c45ccc" stroke-width="1.8" stroke-linecap="butt"/>
<line x1="867.7" y1="1564.4" x2="875.2" y2="1564.4" stroke="#c45ccc" stroke-width="1.8" stroke-linecap="butt"/>
<line x1="867.7" y1="1544.4" x2="875.2" y2="1544.4" stroke="#c45ccc" stroke-width="1.8" stroke-linecap="butt"/>
<line x1="867.7" y1="1530.2" x2="875.2" y2="1530.2" stroke="#c45ccc" stroke-width="1.8" stroke-linecap="butt"/>
<line x1="867.7" y1="1519.2" x2="875.2" y2="1519.2" stroke="#c45ccc" stroke-width="1.8" stroke-linecap="butt"/>
<line x1="867.7" y1="1510.1" x2="875.2" y2="1510.1" stroke="#c45ccc" stroke-width="1.8" stroke-linecap="butt"/>
<line x1="867.7" y1="1502.5" x2="875.2" y2="1502.5" stroke="#c45ccc" stroke-width="1.8" stroke-linecap="butt"/>
<line x1="867.7" y1="1495.9" x2="875.2" y2="1495.9" stroke="#c45ccc" stroke-width="1.8" stroke-linecap="butt"/>
<line x1="867.7" y1="1490.1" x2="875.2" y2="1490.1" stroke="#c45ccc" stroke-width="1.8" stroke-linecap="butt"/>
<line x1="861.2" y1="1484.9" x2="875.2" y2="1484.9" stroke="#c45ccc" stroke-width="1.8" stroke-linecap="butt"/>
<line x1="867.7" y1="1450.6" x2="875.2" y2="1450.6" stroke="#c45ccc" stroke-width="1.8" stroke-linecap="butt"/>
<line x1="867.7" y1="1430.6" x2="875.2" y2="1430.6" stroke="#c45ccc" stroke-width="1.8" stroke-linecap="butt"/>
<line x1="867.7" y1="1416.4" x2="875.2" y2="1416.4" stroke="#c45ccc" stroke-width="1.8" stroke-linecap="butt"/>
<line x1="867.7" y1="1405.4" x2="875.2" y2="1405.4" stroke="#c45ccc" stroke-width="1.8" stroke-linecap="butt"/>
<line x1="861.2" y1="2414.8" x2="875.2" y2="2414.8" stroke="#c45ccc" stroke-width="1.8" stroke-linecap="butt"/>
<line x1="867.7" y1="2384.1" x2="875.2" y2="2384.1" stroke="#c45ccc" stroke-width="1.8" stroke-linecap="butt"/>
<line x1="867.7" y1="2353.4" x2="875.2" y2="2353.4" stroke="#c45ccc" stroke-width="1.8" stroke-linecap="butt"/>
<line x1="867.7" y1="2322.7" x2="875.2" y2="2322.7" stroke="#c45ccc" stroke-width="1.8" stroke-linecap="butt"/>
<line x1="861.2" y1="2292" x2="875.2" y2="2292" stroke="#c45ccc" stroke-width="1.8" stroke-linecap="butt"/>
<line x1="867.7" y1="2261.2" x2="875.2" y2="2261.2" stroke="#c45ccc" stroke-width="1.8" stroke-linecap="butt"/>
<line x1="867.7" y1="2230.5" x2="875.2" y2="2230.5" stroke="#c45ccc" stroke-width="1.8" stroke-linecap="butt"/>
<line x1="867.7" y1="2199.8" x2="875.2" y2="2199.8" stroke="#c45ccc" stroke-width="1.8" stroke-linecap="butt"/>
<line x1="861.2" y1="2169.1" x2="875.2" y2="2169.1" stroke="#c45ccc" stroke-width="1.8" stroke-linecap="butt"/>
<line x1="867.7" y1="2138.4" x2="875.2" y2="2138.4" stroke="#c45ccc" stroke-width="1.8" stroke-linecap="butt"/>
<line x1="867.7" y1="2107.7" x2="875.2" y2="2107.7" stroke="#c45ccc" stroke-width="1.8" stroke-linecap="butt"/>
<line x1="867.7" y1="2077" x2="875.2" y2="2077" stroke="#c45ccc" stroke-width="1.8" stroke-linecap="butt"/>
<line x1="861.2" y1="2046.3" x2="875.2" y2="2046.3" stroke="#c45ccc" stroke-width="1.8" stroke-linecap="butt"/>
<line x1="867.7" y1="2015.6" x2="875.2" y2="2015.6" stroke="#c45ccc" stroke-width="1.8" stroke-linecap="butt"/>
<line x1="867.7" y1="1984.9" x2="875.2" y2="1984.9" stroke="#c45ccc" stroke-width="1.8" stroke-linecap="butt"/>
<line x1="867.7" y1="1954.2" x2="875.2" y2="1954.2" stroke="#c45ccc" stroke-width="1.8" stroke-linecap="butt"/>
<line x1="861.2" y1="1923.4" x2="875.2" y2="1923.4" stroke="#c45ccc" stroke-width="1.8" stroke-linecap="butt"/>
<line x1="867.7" y1="1892.7" x2="875.2" y2="1892.7" stroke="#c45ccc" stroke-width="1.8" stroke-linecap="butt"/>
<line x1="867.7" y1="1862" x2="875.2" y2="1862" stroke="#c45ccc" stroke-width="1.8" stroke-linecap="butt"/>
<line x1="867.7" y1="1831.3" x2="875.2" y2="1831.3" stroke="#c45ccc" stroke-width="1.8" stroke-linecap="butt"/>
<line x1="861.2" y1="1800.6" x2="875.2" y2="1800.6" stroke="#c45ccc" stroke-width="1.8" stroke-linecap="butt"/>
<line x1="867.7" y1="1769.9" x2="875.2" y2="1769.9" stroke="#c45ccc" stroke-width="1.8" stroke-linecap="butt"/>
<path d="M875.2 1400.7 L147 1400.7 L147 1713 L875.2 1713" fill="none" stroke="#000" stroke-width="1.8" stroke-linejoin="miter"/>
<line x1="875.2" y1="1399.8" x2="875.2" y2="1713.9" stroke="#c45ccc" stroke-width="1.8" stroke-linecap="butt"/>
<path d="M875.2 1738.5 L147 1738.5 L147 2415.2 L875.2 2415.2" fill="none" stroke="#000" stroke-width="1.8" stroke-linejoin="miter"/>
<line x1="875.2" y1="1737.6" x2="875.2" y2="2416.1" stroke="#c45ccc" stroke-width="1.8" stroke-linecap="butt"/>
<text x="146.8" y="2453.2" font-size="37" fill="#000" text-anchor="middle" font-weight="normal" font-style="normal">0.1</text>
<text x="423.2" y="2453.2" font-size="37" fill="#000" text-anchor="middle" font-weight="normal" font-style="normal">0.5</text>
<text x="542.2" y="2453.2" font-size="37" fill="#000" text-anchor="middle" font-weight="normal" font-style="normal">1</text>
<text x="818.6" y="2453.2" font-size="37" fill="#000" text-anchor="middle" font-weight="normal" font-style="normal">5</text>
<text x="137.5" y="1683.4" font-size="37" fill="#000" text-anchor="end" font-weight="normal" font-style="normal">10<tspan font-size="26" dy="-11.3">0</tspan><tspan dy="11.3">​</tspan></text>
<text x="137.5" y="1604.7" font-size="37" fill="#000" text-anchor="end" font-weight="normal" font-style="normal">10<tspan font-size="26" dy="-11.3">2</tspan><tspan dy="11.3">​</tspan></text>
<text x="137.5" y="1526" font-size="37" fill="#000" text-anchor="end" font-weight="normal" font-style="normal">10<tspan font-size="26" dy="-11.3">4</tspan><tspan dy="11.3">​</tspan></text>
<text x="137.5" y="1447.3" font-size="37" fill="#000" text-anchor="end" font-weight="normal" font-style="normal">10<tspan font-size="26" dy="-11.3">6</tspan><tspan dy="11.3">​</tspan></text>
<text x="137.5" y="1796.7" font-size="37" fill="#000" text-anchor="end" font-weight="normal" font-style="normal">10<tspan font-size="26" dy="-11.3">-4</tspan><tspan dy="11.3">​</tspan></text>
<text x="137.5" y="1920.6" font-size="37" fill="#000" text-anchor="end" font-weight="normal" font-style="normal">10<tspan font-size="26" dy="-11.3">-6</tspan><tspan dy="11.3">​</tspan></text>
<text x="137.5" y="2044.5" font-size="37" fill="#000" text-anchor="end" font-weight="normal" font-style="normal">10<tspan font-size="26" dy="-11.3">-8</tspan><tspan dy="11.3">​</tspan></text>
<text x="137.5" y="2168.3" font-size="37" fill="#000" text-anchor="end" font-weight="normal" font-style="normal">10<tspan font-size="26" dy="-11.3">-10</tspan><tspan dy="11.3">​</tspan></text>
<text x="137.5" y="2292.2" font-size="37" fill="#000" text-anchor="end" font-weight="normal" font-style="normal">10<tspan font-size="26" dy="-11.3">-12</tspan><tspan dy="11.3">​</tspan></text>
<text x="137.5" y="2416.1" font-size="37" fill="#000" text-anchor="end" font-weight="normal" font-style="normal">10<tspan font-size="26" dy="-11.3">-14</tspan><tspan dy="11.3">​</tspan></text>
<text x="885.2" y="1722" font-size="37" fill="#e04ce0" text-anchor="start" font-weight="normal" font-style="normal">10</text>
<text x="885.2" y="1608.2" font-size="37" fill="#e04ce0" text-anchor="start" font-weight="normal" font-style="normal">100</text>
<text x="885.2" y="1494.4" font-size="37" fill="#e04ce0" text-anchor="start" font-weight="normal" font-style="normal">1000</text>
<text x="885.2" y="2423.3" font-size="37" fill="#e04ce0" text-anchor="start" font-weight="normal" font-style="normal">0</text>
<text x="885.2" y="2300.5" font-size="37" fill="#e04ce0" text-anchor="start" font-weight="normal" font-style="normal">0.2</text>
<text x="885.2" y="2177.6" font-size="37" fill="#e04ce0" text-anchor="start" font-weight="normal" font-style="normal">0.4</text>
<text x="885.2" y="2054.8" font-size="37" fill="#e04ce0" text-anchor="start" font-weight="normal" font-style="normal">0.6</text>
<text x="885.2" y="1931.9" font-size="37" fill="#e04ce0" text-anchor="start" font-weight="normal" font-style="normal">0.8</text>
<text x="885.2" y="1809.1" font-size="37" fill="#e04ce0" text-anchor="start" font-weight="normal" font-style="normal">1</text>
<text x="39.3" y="1571" font-size="41.5" fill="#000" text-anchor="middle" font-weight="normal" font-style="normal" transform="rotate(-90 39.3 1571)">Density (cm<tspan font-size="29" dy="-13">-3</tspan><tspan dy="13">​</tspan>)</text>
<text x="37.7" y="2065" font-size="40" fill="#000" text-anchor="middle" font-weight="normal" font-style="normal" transform="rotate(-90 37.7 2065)">Abundance wrt H nuclei</text>
<text x="886.2" y="1397" font-size="37.3" fill="#e04ce0" text-anchor="start" font-weight="normal" font-style="normal">T<tspan font-size="27" dy="8">k</tspan><tspan dy="-8">​</tspan> (K)</text>
<text x="950.6" y="2033.4" font-size="38" fill="#e04ce0" text-anchor="middle" font-weight="normal" font-style="normal" transform="rotate(90 950.6 2033.4)">Molecular gas fraction, <tspan font-style="italic">f</tspan><tspan font-size="28" dy="8">H2</tspan><tspan dy="-8">​</tspan></text>
<text x="493" y="2511.6" font-size="41.2" fill="#000" text-anchor="middle" font-weight="normal" font-style="normal">Depth into the wind (A<tspan font-size="28" dy="7">V</tspan><tspan dy="-7">​</tspan>)</text>
<text x="8.5" y="1361.3" font-size="47" fill="#000" text-anchor="start" font-weight="bold" font-style="normal">c</text>
<text x="166" y="1361.4" font-size="48.4" fill="#000" text-anchor="start" font-weight="normal" font-style="normal"><tspan font-style="italic">n</tspan><tspan font-size="34" dy="8">H</tspan><tspan dy="-8">​</tspan>=3.5·10<tspan font-size="34" dy="-17">6</tspan><tspan dy="17">​</tspan> cm<tspan font-size="34" dy="-17">-3</tspan><tspan dy="17">​</tspan> <tspan fill="#1f78c0">+</tspan> “Bigger grains”</text>
<clipPath id="cd1"><rect x="1182.5" y="1400.7" width="728.5" height="312.3"/></clipPath>
<clipPath id="cd2"><rect x="1182.5" y="1738.3" width="728.5" height="676.7"/></clipPath>
<path d="M1182.5 1474.3C1188.8 1474.7 1207.4 1475.5 1220.5 1476.7C1233.6 1477.9 1247.5 1479.2 1261 1481.5C1274.5 1483.8 1289.3 1488 1301.4 1490.4C1313.5 1492.8 1323 1494.8 1333.8 1496.1C1344.6 1497.4 1355.3 1498.4 1366.1 1498.5C1376.9 1498.6 1387.5 1497.7 1398.5 1496.9C1409.5 1496.1 1419.7 1495.1 1432 1493.5C1444.3 1491.9 1458.9 1488 1472.4 1487.2C1485.9 1486.4 1498.1 1487.6 1512.9 1488.8C1527.7 1490 1545.2 1492.5 1561.4 1494.5C1577.6 1496.5 1593.7 1499 1609.9 1501C1626.1 1503 1644.8 1505.4 1658.5 1506.6C1672.2 1507.8 1676.8 1507.4 1692 1507.9C1707.2 1508.4 1730.3 1508.8 1749.5 1509.6C1768.7 1510.4 1792.7 1510.9 1807.1 1512.5C1821.5 1514.1 1827.8 1516.5 1835.8 1519.2C1843.8 1521.9 1849.2 1524.7 1855 1528.8C1860.8 1532.9 1865.6 1539.6 1870.4 1544.1C1875.2 1548.6 1879 1552.6 1883.8 1555.6C1888.6 1558.6 1894.6 1560.5 1899.1 1562.3C1903.6 1564.1 1909 1565.5 1911 1566.2" fill="none" stroke="#2ee62e" stroke-width="2.6" stroke-linecap="round" stroke-linejoin="round" clip-path="url(#cd1)"/>
<path d="M1182.5 1519.6C1188.8 1519.7 1206.1 1519.7 1220.5 1520.4C1234.9 1521.1 1255.6 1522.1 1269.1 1523.6C1282.6 1525.1 1292 1527 1301.4 1529.3C1310.8 1531.6 1317.6 1533.8 1325.7 1537.3C1333.8 1540.8 1341.8 1545.7 1349.9 1550.3C1358 1554.9 1366.1 1560.5 1374.2 1564.8C1382.3 1569.1 1390.4 1573.2 1398.5 1576.2C1406.6 1579.2 1413.8 1580.9 1422.7 1583C1431.6 1585.1 1442.4 1586.9 1452 1589C1461.6 1591.1 1467.7 1592.1 1480.5 1595.6C1493.3 1599.1 1512.9 1604.3 1529.1 1610.1C1545.3 1615.9 1565.8 1625.7 1577.6 1630.5C1589.4 1635.3 1590.5 1635.1 1600 1639.1C1609.5 1643.1 1623.2 1650 1634.7 1654.7C1646.2 1659.4 1657.8 1663.4 1669.3 1667.4C1680.8 1671.4 1692.5 1674.9 1704 1678.9C1715.5 1682.9 1729 1687.6 1738.6 1691.6C1748.2 1695.5 1753.9 1698.7 1761.8 1702.6C1769.7 1706.5 1782 1712.9 1786 1715" fill="none" stroke="#9a9a9a" stroke-width="3.2" stroke-linecap="round" stroke-linejoin="round" clip-path="url(#cd1)"/>
<path d="M1182.5 1453.2C1188.8 1452.4 1207.4 1450.3 1220.5 1448.4C1233.6 1446.5 1247.5 1444.3 1261 1441.9C1274.5 1439.5 1289.3 1436.5 1301.4 1433.8C1313.5 1431.1 1323 1428.4 1333.8 1425.7C1344.6 1423 1355.3 1419.8 1366.1 1417.6C1376.9 1415.4 1387.7 1413.9 1398.5 1412.8C1409.3 1411.7 1419.8 1411.2 1430.8 1410.8C1441.8 1410.4 1450.7 1410.7 1464.4 1410.6C1478.1 1410.5 1494 1410.3 1512.9 1410.2C1531.8 1410.1 1511.2 1409.9 1577.6 1409.9C1643.9 1409.9 1855.4 1410.2 1911 1410.2" fill="none" stroke="#000" stroke-width="3.6" stroke-linecap="round" stroke-linejoin="round" clip-path="url(#cd1)"/>
<path d="M1182.5 1464.6C1188.8 1465.1 1206.1 1466.2 1220.5 1467.8C1234.9 1469.4 1252.9 1471.3 1269.1 1474.3C1285.3 1477.3 1302.8 1481.6 1317.6 1485.6C1332.4 1489.6 1344.5 1494.2 1358 1498.5C1371.5 1502.8 1386.2 1507.7 1398.5 1511.5C1410.8 1515.3 1418.3 1517.2 1432 1521.5C1445.7 1525.8 1464.3 1530.9 1480.5 1537.3C1496.7 1543.7 1512.9 1553.5 1529.1 1560C1545.3 1566.5 1561.4 1571.9 1577.6 1576.2C1593.8 1580.5 1609.9 1582.1 1626.1 1585.9C1642.3 1589.7 1663.6 1596 1674.6 1598.8C1685.6 1601.6 1682.7 1600.2 1692 1602.6C1701.3 1605 1716 1609.2 1730.4 1613.2C1744.8 1617.2 1763.9 1622.4 1778.3 1626.6C1792.7 1630.8 1803.9 1633.6 1816.7 1638.1C1829.5 1642.6 1843.8 1649.2 1855 1653.4C1866.2 1657.6 1874.5 1660.8 1883.8 1663C1893.1 1665.2 1906.5 1666.2 1911 1666.9" fill="none" stroke="#f7b4f7" stroke-width="2.5999999999999996" stroke-linecap="round" stroke-linejoin="round" clip-path="url(#cd1)"/>
<path d="M1182.5 1464.6C1188.8 1465.1 1206.1 1466.2 1220.5 1467.8C1234.9 1469.4 1252.9 1471.3 1269.1 1474.3C1285.3 1477.3 1302.8 1481.6 1317.6 1485.6C1332.4 1489.6 1344.5 1494.2 1358 1498.5C1371.5 1502.8 1386.2 1507.7 1398.5 1511.5C1410.8 1515.3 1418.3 1517.2 1432 1521.5C1445.7 1525.8 1464.3 1530.9 1480.5 1537.3C1496.7 1543.7 1512.9 1553.5 1529.1 1560C1545.3 1566.5 1561.4 1571.9 1577.6 1576.2C1593.8 1580.5 1609.9 1582.1 1626.1 1585.9C1642.3 1589.7 1663.6 1596 1674.6 1598.8C1685.6 1601.6 1682.7 1600.2 1692 1602.6C1701.3 1605 1716 1609.2 1730.4 1613.2C1744.8 1617.2 1763.9 1622.4 1778.3 1626.6C1792.7 1630.8 1803.9 1633.6 1816.7 1638.1C1829.5 1642.6 1843.8 1649.2 1855 1653.4C1866.2 1657.6 1874.5 1660.8 1883.8 1663C1893.1 1665.2 1906.5 1666.2 1911 1666.9" fill="none" stroke="#b226b2" stroke-width="3.9" stroke-linecap="round" stroke-linejoin="round" stroke-dasharray="0 6.45" clip-path="url(#cd1)"/>
<text x="1208.6" y="1594.8" font-size="37" fill="#6e6e6e" text-anchor="start" font-weight="normal" font-style="normal">H<tspan font-size="27" dy="8">2</tspan><tspan dy="-8">​</tspan><tspan font-size="27" dy="-15">*</tspan><tspan dy="15">​</tspan> (v&gt;0)</text>
<text x="1559.9" y="1488" font-size="37" fill="#2ee62e" text-anchor="start" font-weight="normal" font-style="normal">e<tspan font-size="27" dy="-14">-</tspan><tspan dy="14">​</tspan> x100</text>
<text x="1767.6" y="1450.1" font-size="37" fill="#000" text-anchor="start" font-weight="normal" font-style="normal">H<tspan font-size="27" dy="8">2</tspan><tspan dy="-8">​</tspan> (tot)</text>
<text x="1736.1" y="1600.7" font-size="37" fill="#e04ce0" text-anchor="start" font-weight="normal" font-style="normal">T<tspan font-size="27" dy="8">k</tspan><tspan dy="-8">​</tspan></text>
<path d="M1182.6 1868C1188.9 1866.1 1208.9 1860.1 1220.7 1856.6C1232.5 1853.1 1242.4 1850.2 1253.2 1846.9C1264 1843.7 1274.8 1839.9 1285.6 1837.1C1296.4 1834.2 1307.3 1831.7 1318.1 1829.8C1328.9 1827.9 1339.7 1826.5 1350.5 1825.8C1361.3 1825.1 1372.2 1825.4 1383 1825.8C1393.8 1826.2 1407.3 1827.6 1415.5 1828.2C1423.7 1828.8 1423.8 1829 1432 1829.5C1440.2 1830 1453.7 1832.3 1464.5 1831.4C1475.3 1830.5 1486.1 1826.4 1496.9 1824.1C1507.7 1821.8 1518.6 1820.3 1529.4 1817.6C1540.2 1814.9 1551 1811.1 1561.8 1807.9C1572.6 1804.7 1583.5 1800.9 1594.3 1798.2C1605.1 1795.5 1616 1793.6 1626.8 1791.7C1637.6 1789.8 1648.3 1788 1659.2 1786.8C1670.1 1785.6 1681.1 1785.3 1692 1784.5C1702.9 1783.7 1712.3 1782.9 1724.5 1781.9C1736.7 1780.9 1733.9 1779.3 1765 1778.7C1796.1 1778.1 1886.7 1778.5 1911 1778.4" fill="none" stroke="#2ae6ee" stroke-width="4.6" stroke-linecap="round" stroke-linejoin="round" clip-path="url(#cd2)"/>
<path d="M1182.6 1973.5C1188.9 1973.5 1208.9 1973 1220.7 1973.5C1232.5 1974 1242.4 1974.8 1253.2 1976.7C1264 1978.6 1276.1 1981.5 1285.6 1984.8C1295.1 1988 1301.9 1991.9 1310 1996.2C1318.1 2000.5 1326.2 2005.7 1334.3 2010.8C1342.4 2015.9 1350.6 2022.1 1358.7 2027C1366.8 2031.9 1374.9 2035.7 1383 2040C1391.1 2044.3 1399.2 2048 1407.4 2053C1415.6 2058 1422.3 2062.7 1432 2070C1441.7 2077.3 1454.3 2088.6 1465.4 2096.7C1476.5 2104.8 1487.7 2110.9 1498.8 2118.4C1509.9 2125.9 1521.1 2133.5 1532.2 2141.8C1543.3 2150.2 1554.5 2158.5 1565.6 2168.5C1576.7 2178.5 1589.3 2191.3 1599 2201.9C1608.7 2212.5 1615.7 2221.4 1624 2232C1632.3 2242.6 1640.8 2254.3 1649.1 2265.4C1657.4 2276.5 1665.8 2288.5 1674.1 2298.8C1682.4 2309.1 1692.9 2319.7 1699.2 2327.2C1705.5 2334.7 1707.6 2336.9 1712 2343.9C1716.4 2350.9 1720.4 2360 1725.4 2368.9C1730.4 2377.8 1738 2389.1 1742.1 2397.3C1746.2 2405.5 1748.7 2414.6 1750 2418" fill="none" stroke="#2ee62e" stroke-width="4.6" stroke-linecap="round" stroke-linejoin="round" clip-path="url(#cd2)"/>
<path d="M1182.6 1954.8C1188.9 1955.5 1208.9 1957.1 1220.7 1958.9C1232.5 1960.7 1242.4 1962.4 1253.2 1965.4C1264 1968.4 1276.1 1972.7 1285.6 1976.7C1295.1 1980.8 1301.9 1985.1 1310 1989.7C1318.1 1994.3 1326.2 1998.9 1334.3 2004.3C1342.4 2009.7 1350.6 2016.5 1358.7 2022.2C1366.8 2027.9 1374.9 2033.3 1383 2038.4C1391.1 2043.5 1399.2 2048.3 1407.4 2053C1415.6 2057.7 1422.3 2060.3 1432 2066.5C1441.7 2072.7 1454.3 2082.3 1465.4 2090.1C1476.5 2097.9 1487.7 2105.3 1498.8 2113.4C1509.9 2121.5 1521.1 2129.9 1532.2 2138.5C1543.3 2147.1 1554.5 2154.6 1565.6 2165.2C1576.7 2175.8 1589.3 2190.2 1599 2201.9C1608.7 2213.6 1615.7 2223.6 1624 2235.3C1632.3 2247 1640.8 2259.6 1649.1 2272.1C1657.4 2284.6 1665.8 2297.4 1674.1 2310.5C1682.4 2323.6 1692.9 2339.4 1699.2 2350.5C1705.5 2361.6 1707.6 2368.6 1712 2377.2C1716.4 2385.8 1722.4 2395.5 1725.4 2402.3C1728.4 2409.1 1729.2 2415.4 1730 2418" fill="none" stroke="#848484" stroke-width="5" stroke-linecap="round" stroke-linejoin="round" clip-path="url(#cd2)"/>
<path d="M1182.6 2008.4C1188.9 2006.6 1208.9 2000.9 1220.7 1997.8C1232.5 1994.7 1242.4 1992.4 1253.2 1989.7C1264 1987 1274.8 1983.4 1285.6 1981.6C1296.4 1979.8 1308.6 1978.8 1318.1 1979.1C1327.6 1979.4 1334.3 1980.9 1342.4 1983.2C1350.5 1985.5 1360 1989.4 1366.8 1992.9C1373.6 1996.4 1377.6 2000.5 1383 2004.3C1388.4 2008.1 1392.4 2010.6 1399.2 2015.7C1406 2020.8 1415.9 2028 1423.6 2035.1C1431.3 2042.1 1438.4 2050.2 1445.4 2058C1452.4 2065.8 1459.3 2075.2 1465.4 2081.7C1471.5 2088.1 1473.8 2090.8 1482.1 2096.7C1490.4 2102.5 1504.4 2109.6 1515.5 2116.8C1526.6 2124 1537.8 2131.8 1548.9 2140.1C1560 2148.4 1571.2 2157.2 1582.3 2166.9C1593.4 2176.7 1604.6 2187.5 1615.7 2198.6C1626.8 2209.7 1638 2220.8 1649.1 2233.7C1660.2 2246.6 1672.6 2263.8 1682.5 2276C1692.4 2288.2 1701.5 2298.6 1708.7 2307.1C1715.9 2315.6 1719.8 2321.1 1725.4 2327.2C1731 2333.3 1735.1 2338.9 1742.1 2343.9C1749 2348.9 1758.8 2354.4 1767.1 2357.2C1775.4 2360 1783.8 2360.5 1792.2 2360.5C1800.6 2360.5 1808.9 2360 1817.2 2357.2C1825.5 2354.4 1835.3 2349.5 1842.3 2343.9C1849.3 2338.3 1854 2331.3 1859 2323.8C1864 2316.3 1868.1 2305.8 1872.3 2298.8C1876.5 2291.9 1879.3 2287.1 1884 2282.1C1888.7 2277.1 1896.2 2272.6 1900.7 2268.7C1905.2 2264.8 1909.3 2260.4 1911 2258.7" fill="none" stroke="#000" stroke-width="5" stroke-linecap="round" stroke-linejoin="round" clip-path="url(#cd2)"/>
<path d="M1182.6 1956.4C1188.9 1954.1 1208.9 1946.2 1220.7 1942.6C1232.5 1938.9 1242.4 1936.8 1253.2 1934.5C1264 1932.2 1274.8 1930.1 1285.6 1928.8C1296.4 1927.5 1308.6 1926.3 1318.1 1926.4C1327.6 1926.5 1334.3 1927.7 1342.4 1929.6C1350.5 1931.5 1358.7 1934.3 1366.8 1937.8C1374.9 1941.3 1383 1945.6 1391.1 1950.7C1399.2 1955.8 1408.7 1962.9 1415.5 1968.6C1422.3 1974.3 1426.5 1979.4 1432 1984.8C1437.5 1990.2 1442.8 1995.4 1448.2 2001.1C1453.6 2006.8 1459.1 2013.8 1464.5 2018.9C1469.9 2024 1474 2027.6 1480.7 2031.9C1487.5 2036.2 1496.9 2040 1505 2044.9C1513.1 2049.8 1522.1 2055.8 1529.4 2061.1C1536.7 2066.4 1540.1 2069.6 1548.9 2076.7C1557.7 2083.8 1571.2 2093.1 1582.3 2103.4C1593.4 2113.7 1604.6 2126.2 1615.7 2138.5C1626.8 2150.8 1638 2163.3 1649.1 2176.9C1660.2 2190.5 1672.6 2207.8 1682.5 2220C1692.4 2232.2 1701.5 2241.1 1708.7 2250C1715.9 2258.9 1719.8 2264.7 1725.4 2273.7C1731 2282.7 1737.1 2293.5 1742.1 2303.8C1747.1 2314.1 1751.3 2324.7 1755.5 2335.5C1759.7 2346.3 1763.2 2357.8 1767.1 2368.9C1771 2380 1775.8 2394.1 1778.8 2402.3C1781.8 2410.5 1784 2415.4 1785 2418" fill="none" stroke="#ec1010" stroke-width="5" stroke-linecap="round" stroke-linejoin="round" clip-path="url(#cd2)"/>
<path d="M1182.6 1790.1C1188.9 1791.2 1208.9 1794.1 1220.7 1796.5C1232.5 1798.9 1242.4 1801.5 1253.2 1804.7C1264 1808 1276.1 1812.5 1285.6 1816C1295.1 1819.5 1301.9 1822.5 1310 1825.8C1318.1 1829 1324.8 1832.7 1334.3 1835.5C1343.8 1838.3 1357.3 1842.3 1366.8 1842.8C1376.3 1843.3 1383 1840.5 1391.1 1838.7C1399.2 1837 1408.7 1834.5 1415.5 1832.3C1422.3 1830.1 1425.2 1828.5 1432 1825.8C1438.8 1823.1 1448.2 1818.4 1456.3 1816C1464.4 1813.6 1472.6 1811.6 1480.7 1811.2C1488.8 1810.8 1496.9 1812 1505 1813.6C1513.1 1815.2 1519.9 1818.1 1529.4 1820.9C1538.9 1823.7 1551 1826.8 1561.8 1830.6C1572.6 1834.4 1584.6 1839 1594.3 1843.6C1604 1848.2 1612.4 1853.9 1620 1858C1627.6 1862.1 1633.3 1864 1640 1868.2C1646.7 1872.5 1653.6 1877.2 1660.4 1883.5C1667.2 1889.8 1674 1897.9 1680.8 1905.9C1687.6 1913.9 1694.4 1922.4 1701.2 1931.4C1708 1940.4 1714.8 1949.1 1721.6 1960C1728.4 1970.9 1736 1984.5 1742 1996.7C1748 2009 1752.2 2020.6 1757.3 2033.5C1762.4 2046.4 1768 2061.5 1772.7 2074.3C1777.4 2087.1 1781.4 2100 1785.5 2110.1C1789.6 2120.2 1792.8 2128.1 1797.2 2135.1C1801.7 2142.1 1806.6 2146.2 1812.2 2151.8C1817.8 2157.4 1824.2 2160.7 1830.6 2168.5C1837 2176.3 1844.5 2188.3 1850.6 2198.6C1856.7 2208.9 1861.7 2221.4 1867.3 2230.3C1872.9 2239.2 1878.4 2247 1884 2252C1889.6 2257 1896.2 2258.7 1900.7 2260.4C1905.2 2262.1 1909.3 2261.7 1911 2262" fill="none" stroke="#1010c8" stroke-width="5.6" stroke-linecap="round" stroke-linejoin="round" clip-path="url(#cd2)"/>
<path d="M1182.6 2368C1187.8 2366.5 1204.3 2362.1 1213.7 2358.9C1223.1 2355.7 1231.3 2352.5 1238.8 2348.9C1246.3 2345.3 1252.7 2341.9 1258.8 2337.2C1264.9 2332.5 1270.5 2326.3 1275.5 2320.5C1280.5 2314.7 1284.5 2309.3 1288.9 2302.1C1293.4 2294.9 1298 2285.4 1302.2 2277.1C1306.4 2268.8 1310 2261.8 1313.9 2252C1317.8 2242.2 1322 2229.7 1325.6 2218.6C1329.2 2207.5 1332.2 2197.7 1335.6 2185.2C1338.9 2172.7 1342.3 2157.4 1345.7 2143.5C1349.1 2129.6 1352.8 2113.9 1355.7 2101.7C1358.6 2089.4 1360.3 2080.6 1363 2070C1365.7 2059.4 1368.3 2050.4 1371.6 2038.4C1374.9 2026.4 1378.4 2012.7 1383 1997.8C1387.6 1982.9 1393.8 1964 1399.2 1949.1C1404.6 1934.2 1410 1920.9 1415.5 1908.5C1421 1896.1 1427.1 1883.7 1432 1874.5C1436.9 1865.3 1439.6 1859.9 1445 1853.4C1450.4 1846.9 1457.2 1840.4 1464.5 1835.5C1471.8 1830.6 1480.7 1827.6 1488.8 1824.1C1496.9 1820.6 1503.7 1817.1 1513.2 1814.4C1522.7 1811.7 1534.8 1809.5 1545.6 1807.9C1556.4 1806.3 1564.6 1805.7 1578.1 1804.7C1591.6 1803.8 1604.5 1802.8 1626.8 1802.2C1649.1 1801.7 1679.5 1801.5 1712 1801.4C1744.5 1801.3 1798.1 1801.1 1821.8 1801.4C1845.5 1801.7 1843.5 1802.3 1854.3 1803C1865.1 1803.7 1877.3 1804.4 1886.8 1805.5C1896.2 1806.6 1907 1808.8 1911 1809.5" fill="none" stroke="#f7b4f7" stroke-width="2.2" stroke-linecap="round" stroke-linejoin="round" clip-path="url(#cd2)"/>
<path d="M1182.6 2368C1187.8 2366.5 1204.3 2362.1 1213.7 2358.9C1223.1 2355.7 1231.3 2352.5 1238.8 2348.9C1246.3 2345.3 1252.7 2341.9 1258.8 2337.2C1264.9 2332.5 1270.5 2326.3 1275.5 2320.5C1280.5 2314.7 1284.5 2309.3 1288.9 2302.1C1293.4 2294.9 1298 2285.4 1302.2 2277.1C1306.4 2268.8 1310 2261.8 1313.9 2252C1317.8 2242.2 1322 2229.7 1325.6 2218.6C1329.2 2207.5 1332.2 2197.7 1335.6 2185.2C1338.9 2172.7 1342.3 2157.4 1345.7 2143.5C1349.1 2129.6 1352.8 2113.9 1355.7 2101.7C1358.6 2089.4 1360.3 2080.6 1363 2070C1365.7 2059.4 1368.3 2050.4 1371.6 2038.4C1374.9 2026.4 1378.4 2012.7 1383 1997.8C1387.6 1982.9 1393.8 1964 1399.2 1949.1C1404.6 1934.2 1410 1920.9 1415.5 1908.5C1421 1896.1 1427.1 1883.7 1432 1874.5C1436.9 1865.3 1439.6 1859.9 1445 1853.4C1450.4 1846.9 1457.2 1840.4 1464.5 1835.5C1471.8 1830.6 1480.7 1827.6 1488.8 1824.1C1496.9 1820.6 1503.7 1817.1 1513.2 1814.4C1522.7 1811.7 1534.8 1809.5 1545.6 1807.9C1556.4 1806.3 1564.6 1805.7 1578.1 1804.7C1591.6 1803.8 1604.5 1802.8 1626.8 1802.2C1649.1 1801.7 1679.5 1801.5 1712 1801.4C1744.5 1801.3 1798.1 1801.1 1821.8 1801.4C1845.5 1801.7 1843.5 1802.3 1854.3 1803C1865.1 1803.7 1877.3 1804.4 1886.8 1805.5C1896.2 1806.6 1907 1808.8 1911 1809.5" fill="none" stroke="#b226b2" stroke-width="3.2" stroke-linecap="round" stroke-linejoin="round" stroke-dasharray="0 6.2" clip-path="url(#cd2)"/>
<text x="1241.7" y="1781.9" font-size="42" fill="#1838d6" text-anchor="start" font-weight="bold" font-style="normal">C<tspan font-size="26" dy="-11">+</tspan><tspan dy="11">​</tspan></text>
<text x="1200.3" y="1842.8" font-size="42" fill="#2ae6ee" text-anchor="start" font-weight="bold" font-style="normal">CO</text>
<text x="1274.2" y="1905.3" font-size="42" fill="#ec1010" text-anchor="start" font-weight="bold" font-style="normal">CH<tspan font-size="27" dy="5">3</tspan><tspan dy="-5">​</tspan><tspan font-size="26" dy="-11">+</tspan><tspan dy="11">​</tspan></text>
<text x="1204.9" y="2051.4" font-size="40.5" fill="#000" text-anchor="start" font-weight="bold" font-style="normal">HCO<tspan font-size="26" dy="-11">+</tspan><tspan dy="11">​</tspan></text>
<text x="1425" y="2183.6" font-size="42" fill="#2ee62e" text-anchor="start" font-weight="bold" font-style="normal">CH<tspan font-size="27" dy="5">2</tspan><tspan dy="-5">​</tspan><tspan font-size="26" dy="-11">+</tspan><tspan dy="11">​</tspan></text>
<text x="1814.7" y="1849.4" font-size="40" fill="#e04ce0" text-anchor="start" font-weight="bold" font-style="normal"><tspan font-style="italic">f</tspan><tspan font-size="27" dy="4">H2</tspan><tspan dy="-4">​</tspan></text>
<line x1="1301.4" y1="1713" x2="1301.4" y2="1704" stroke="#000" stroke-width="1.8" stroke-linecap="butt"/>
<line x1="1301.4" y1="1400.7" x2="1301.4" y2="1409.7" stroke="#000" stroke-width="1.8" stroke-linecap="butt"/>
<line x1="1370.9" y1="1713" x2="1370.9" y2="1704" stroke="#000" stroke-width="1.8" stroke-linecap="butt"/>
<line x1="1370.9" y1="1400.7" x2="1370.9" y2="1409.7" stroke="#000" stroke-width="1.8" stroke-linecap="butt"/>
<line x1="1420.2" y1="1713" x2="1420.2" y2="1704" stroke="#000" stroke-width="1.8" stroke-linecap="butt"/>
<line x1="1420.2" y1="1400.7" x2="1420.2" y2="1409.7" stroke="#000" stroke-width="1.8" stroke-linecap="butt"/>
<line x1="1458.5" y1="1713" x2="1458.5" y2="1704" stroke="#000" stroke-width="1.8" stroke-linecap="butt"/>
<line x1="1458.5" y1="1400.7" x2="1458.5" y2="1409.7" stroke="#000" stroke-width="1.8" stroke-linecap="butt"/>
<line x1="1489.7" y1="1713" x2="1489.7" y2="1704" stroke="#000" stroke-width="1.8" stroke-linecap="butt"/>
<line x1="1489.7" y1="1400.7" x2="1489.7" y2="1409.7" stroke="#000" stroke-width="1.8" stroke-linecap="butt"/>
<line x1="1516.2" y1="1713" x2="1516.2" y2="1704" stroke="#000" stroke-width="1.8" stroke-linecap="butt"/>
<line x1="1516.2" y1="1400.7" x2="1516.2" y2="1409.7" stroke="#000" stroke-width="1.8" stroke-linecap="butt"/>
<line x1="1539" y1="1713" x2="1539" y2="1704" stroke="#000" stroke-width="1.8" stroke-linecap="butt"/>
<line x1="1539" y1="1400.7" x2="1539" y2="1409.7" stroke="#000" stroke-width="1.8" stroke-linecap="butt"/>
<line x1="1559.2" y1="1713" x2="1559.2" y2="1704" stroke="#000" stroke-width="1.8" stroke-linecap="butt"/>
<line x1="1559.2" y1="1400.7" x2="1559.2" y2="1409.7" stroke="#000" stroke-width="1.8" stroke-linecap="butt"/>
<line x1="1577.3" y1="1713" x2="1577.3" y2="1697" stroke="#000" stroke-width="1.8" stroke-linecap="butt"/>
<line x1="1577.3" y1="1400.7" x2="1577.3" y2="1416.7" stroke="#000" stroke-width="1.8" stroke-linecap="butt"/>
<line x1="1696.1" y1="1713" x2="1696.1" y2="1704" stroke="#000" stroke-width="1.8" stroke-linecap="butt"/>
<line x1="1696.1" y1="1400.7" x2="1696.1" y2="1409.7" stroke="#000" stroke-width="1.8" stroke-linecap="butt"/>
<line x1="1765.6" y1="1713" x2="1765.6" y2="1704" stroke="#000" stroke-width="1.8" stroke-linecap="butt"/>
<line x1="1765.6" y1="1400.7" x2="1765.6" y2="1409.7" stroke="#000" stroke-width="1.8" stroke-linecap="butt"/>
<line x1="1814.9" y1="1713" x2="1814.9" y2="1704" stroke="#000" stroke-width="1.8" stroke-linecap="butt"/>
<line x1="1814.9" y1="1400.7" x2="1814.9" y2="1409.7" stroke="#000" stroke-width="1.8" stroke-linecap="butt"/>
<line x1="1853.2" y1="1713" x2="1853.2" y2="1704" stroke="#000" stroke-width="1.8" stroke-linecap="butt"/>
<line x1="1853.2" y1="1400.7" x2="1853.2" y2="1409.7" stroke="#000" stroke-width="1.8" stroke-linecap="butt"/>
<line x1="1884.4" y1="1713" x2="1884.4" y2="1704" stroke="#000" stroke-width="1.8" stroke-linecap="butt"/>
<line x1="1884.4" y1="1400.7" x2="1884.4" y2="1409.7" stroke="#000" stroke-width="1.8" stroke-linecap="butt"/>
<line x1="1301.4" y1="2415" x2="1301.4" y2="2406" stroke="#000" stroke-width="1.8" stroke-linecap="butt"/>
<line x1="1301.4" y1="1738.3" x2="1301.4" y2="1747.3" stroke="#000" stroke-width="1.8" stroke-linecap="butt"/>
<line x1="1370.9" y1="2415" x2="1370.9" y2="2406" stroke="#000" stroke-width="1.8" stroke-linecap="butt"/>
<line x1="1370.9" y1="1738.3" x2="1370.9" y2="1747.3" stroke="#000" stroke-width="1.8" stroke-linecap="butt"/>
<line x1="1420.2" y1="2415" x2="1420.2" y2="2406" stroke="#000" stroke-width="1.8" stroke-linecap="butt"/>
<line x1="1420.2" y1="1738.3" x2="1420.2" y2="1747.3" stroke="#000" stroke-width="1.8" stroke-linecap="butt"/>
<line x1="1458.5" y1="2415" x2="1458.5" y2="2406" stroke="#000" stroke-width="1.8" stroke-linecap="butt"/>
<line x1="1458.5" y1="1738.3" x2="1458.5" y2="1747.3" stroke="#000" stroke-width="1.8" stroke-linecap="butt"/>
<line x1="1489.7" y1="2415" x2="1489.7" y2="2406" stroke="#000" stroke-width="1.8" stroke-linecap="butt"/>
<line x1="1489.7" y1="1738.3" x2="1489.7" y2="1747.3" stroke="#000" stroke-width="1.8" stroke-linecap="butt"/>
<line x1="1516.2" y1="2415" x2="1516.2" y2="2406" stroke="#000" stroke-width="1.8" stroke-linecap="butt"/>
<line x1="1516.2" y1="1738.3" x2="1516.2" y2="1747.3" stroke="#000" stroke-width="1.8" stroke-linecap="butt"/>
<line x1="1539" y1="2415" x2="1539" y2="2406" stroke="#000" stroke-width="1.8" stroke-linecap="butt"/>
<line x1="1539" y1="1738.3" x2="1539" y2="1747.3" stroke="#000" stroke-width="1.8" stroke-linecap="butt"/>
<line x1="1559.2" y1="2415" x2="1559.2" y2="2406" stroke="#000" stroke-width="1.8" stroke-linecap="butt"/>
<line x1="1559.2" y1="1738.3" x2="1559.2" y2="1747.3" stroke="#000" stroke-width="1.8" stroke-linecap="butt"/>
<line x1="1577.3" y1="2415" x2="1577.3" y2="2399" stroke="#000" stroke-width="1.8" stroke-linecap="butt"/>
<line x1="1577.3" y1="1738.3" x2="1577.3" y2="1754.3" stroke="#000" stroke-width="1.8" stroke-linecap="butt"/>
<line x1="1696.1" y1="2415" x2="1696.1" y2="2406" stroke="#000" stroke-width="1.8" stroke-linecap="butt"/>
<line x1="1696.1" y1="1738.3" x2="1696.1" y2="1747.3" stroke="#000" stroke-width="1.8" stroke-linecap="butt"/>
<line x1="1765.6" y1="2415" x2="1765.6" y2="2406" stroke="#000" stroke-width="1.8" stroke-linecap="butt"/>
<line x1="1765.6" y1="1738.3" x2="1765.6" y2="1747.3" stroke="#000" stroke-width="1.8" stroke-linecap="butt"/>
<line x1="1814.9" y1="2415" x2="1814.9" y2="2406" stroke="#000" stroke-width="1.8" stroke-linecap="butt"/>
<line x1="1814.9" y1="1738.3" x2="1814.9" y2="1747.3" stroke="#000" stroke-width="1.8" stroke-linecap="butt"/>
<line x1="1853.2" y1="2415" x2="1853.2" y2="2406" stroke="#000" stroke-width="1.8" stroke-linecap="butt"/>
<line x1="1853.2" y1="1738.3" x2="1853.2" y2="1747.3" stroke="#000" stroke-width="1.8" stroke-linecap="butt"/>
<line x1="1884.4" y1="2415" x2="1884.4" y2="2406" stroke="#000" stroke-width="1.8" stroke-linecap="butt"/>
<line x1="1884.4" y1="1738.3" x2="1884.4" y2="1747.3" stroke="#000" stroke-width="1.8" stroke-linecap="butt"/>
<line x1="1182.5" y1="1701.4" x2="1191.5" y2="1701.4" stroke="#000" stroke-width="1.8" stroke-linecap="butt"/>
<line x1="1182.5" y1="1685.7" x2="1191.5" y2="1685.7" stroke="#000" stroke-width="1.8" stroke-linecap="butt"/>
<line x1="1182.5" y1="1673.9" x2="1198.5" y2="1673.9" stroke="#000" stroke-width="1.8" stroke-linecap="butt"/>
<line x1="1182.5" y1="1662.1" x2="1191.5" y2="1662.1" stroke="#000" stroke-width="1.8" stroke-linecap="butt"/>
<line x1="1182.5" y1="1646.4" x2="1191.5" y2="1646.4" stroke="#000" stroke-width="1.8" stroke-linecap="butt"/>
<line x1="1182.5" y1="1634.6" x2="1191.5" y2="1634.6" stroke="#000" stroke-width="1.8" stroke-linecap="butt"/>
<line x1="1182.5" y1="1622.7" x2="1191.5" y2="1622.7" stroke="#000" stroke-width="1.8" stroke-linecap="butt"/>
<line x1="1182.5" y1="1607" x2="1191.5" y2="1607" stroke="#000" stroke-width="1.8" stroke-linecap="butt"/>
<line x1="1182.5" y1="1595.2" x2="1198.5" y2="1595.2" stroke="#000" stroke-width="1.8" stroke-linecap="butt"/>
<line x1="1182.5" y1="1583.4" x2="1191.5" y2="1583.4" stroke="#000" stroke-width="1.8" stroke-linecap="butt"/>
<line x1="1182.5" y1="1567.7" x2="1191.5" y2="1567.7" stroke="#000" stroke-width="1.8" stroke-linecap="butt"/>
<line x1="1182.5" y1="1555.8" x2="1191.5" y2="1555.8" stroke="#000" stroke-width="1.8" stroke-linecap="butt"/>
<line x1="1182.5" y1="1544" x2="1191.5" y2="1544" stroke="#000" stroke-width="1.8" stroke-linecap="butt"/>
<line x1="1182.5" y1="1528.3" x2="1191.5" y2="1528.3" stroke="#000" stroke-width="1.8" stroke-linecap="butt"/>
<line x1="1182.5" y1="1516.5" x2="1198.5" y2="1516.5" stroke="#000" stroke-width="1.8" stroke-linecap="butt"/>
<line x1="1182.5" y1="1504.7" x2="1191.5" y2="1504.7" stroke="#000" stroke-width="1.8" stroke-linecap="butt"/>
<line x1="1182.5" y1="1489" x2="1191.5" y2="1489" stroke="#000" stroke-width="1.8" stroke-linecap="butt"/>
<line x1="1182.5" y1="1477.2" x2="1191.5" y2="1477.2" stroke="#000" stroke-width="1.8" stroke-linecap="butt"/>
<line x1="1182.5" y1="1465.3" x2="1191.5" y2="1465.3" stroke="#000" stroke-width="1.8" stroke-linecap="butt"/>
<line x1="1182.5" y1="1449.6" x2="1191.5" y2="1449.6" stroke="#000" stroke-width="1.8" stroke-linecap="butt"/>
<line x1="1182.5" y1="1437.8" x2="1198.5" y2="1437.8" stroke="#000" stroke-width="1.8" stroke-linecap="butt"/>
<line x1="1182.5" y1="1426" x2="1191.5" y2="1426" stroke="#000" stroke-width="1.8" stroke-linecap="butt"/>
<line x1="1182.5" y1="1410.3" x2="1191.5" y2="1410.3" stroke="#000" stroke-width="1.8" stroke-linecap="butt"/>
<line x1="1182.5" y1="2406.3" x2="1198.5" y2="2406.3" stroke="#000" stroke-width="1.8" stroke-linecap="butt"/>
<line x1="1182.5" y1="2387.7" x2="1191.5" y2="2387.7" stroke="#000" stroke-width="1.8" stroke-linecap="butt"/>
<line x1="1182.5" y1="2363" x2="1191.5" y2="2363" stroke="#000" stroke-width="1.8" stroke-linecap="butt"/>
<line x1="1182.5" y1="2344.4" x2="1191.5" y2="2344.4" stroke="#000" stroke-width="1.8" stroke-linecap="butt"/>
<line x1="1182.5" y1="2325.7" x2="1191.5" y2="2325.7" stroke="#000" stroke-width="1.8" stroke-linecap="butt"/>
<line x1="1182.5" y1="2301" x2="1191.5" y2="2301" stroke="#000" stroke-width="1.8" stroke-linecap="butt"/>
<line x1="1182.5" y1="2282.4" x2="1198.5" y2="2282.4" stroke="#000" stroke-width="1.8" stroke-linecap="butt"/>
<line x1="1182.5" y1="2263.8" x2="1191.5" y2="2263.8" stroke="#000" stroke-width="1.8" stroke-linecap="butt"/>
<line x1="1182.5" y1="2239.1" x2="1191.5" y2="2239.1" stroke="#000" stroke-width="1.8" stroke-linecap="butt"/>
<line x1="1182.5" y1="2220.5" x2="1191.5" y2="2220.5" stroke="#000" stroke-width="1.8" stroke-linecap="butt"/>
<line x1="1182.5" y1="2201.8" x2="1191.5" y2="2201.8" stroke="#000" stroke-width="1.8" stroke-linecap="butt"/>
<line x1="1182.5" y1="2177.1" x2="1191.5" y2="2177.1" stroke="#000" stroke-width="1.8" stroke-linecap="butt"/>
<line x1="1182.5" y1="2158.5" x2="1198.5" y2="2158.5" stroke="#000" stroke-width="1.8" stroke-linecap="butt"/>
<line x1="1182.5" y1="2139.9" x2="1191.5" y2="2139.9" stroke="#000" stroke-width="1.8" stroke-linecap="butt"/>
<line x1="1182.5" y1="2115.2" x2="1191.5" y2="2115.2" stroke="#000" stroke-width="1.8" stroke-linecap="butt"/>
<line x1="1182.5" y1="2096.6" x2="1191.5" y2="2096.6" stroke="#000" stroke-width="1.8" stroke-linecap="butt"/>
<line x1="1182.5" y1="2077.9" x2="1191.5" y2="2077.9" stroke="#000" stroke-width="1.8" stroke-linecap="butt"/>
<line x1="1182.5" y1="2053.2" x2="1191.5" y2="2053.2" stroke="#000" stroke-width="1.8" stroke-linecap="butt"/>
<line x1="1182.5" y1="2034.6" x2="1198.5" y2="2034.6" stroke="#000" stroke-width="1.8" stroke-linecap="butt"/>
<line x1="1182.5" y1="2016" x2="1191.5" y2="2016" stroke="#000" stroke-width="1.8" stroke-linecap="butt"/>
<line x1="1182.5" y1="1991.3" x2="1191.5" y2="1991.3" stroke="#000" stroke-width="1.8" stroke-linecap="butt"/>
<line x1="1182.5" y1="1972.7" x2="1191.5" y2="1972.7" stroke="#000" stroke-width="1.8" stroke-linecap="butt"/>
<line x1="1182.5" y1="1954" x2="1191.5" y2="1954" stroke="#000" stroke-width="1.8" stroke-linecap="butt"/>
<line x1="1182.5" y1="1929.3" x2="1191.5" y2="1929.3" stroke="#000" stroke-width="1.8" stroke-linecap="butt"/>
<line x1="1182.5" y1="1910.7" x2="1198.5" y2="1910.7" stroke="#000" stroke-width="1.8" stroke-linecap="butt"/>
<line x1="1182.5" y1="1892.1" x2="1191.5" y2="1892.1" stroke="#000" stroke-width="1.8" stroke-linecap="butt"/>
<line x1="1182.5" y1="1867.4" x2="1191.5" y2="1867.4" stroke="#000" stroke-width="1.8" stroke-linecap="butt"/>
<line x1="1182.5" y1="1848.8" x2="1191.5" y2="1848.8" stroke="#000" stroke-width="1.8" stroke-linecap="butt"/>
<line x1="1182.5" y1="1830.1" x2="1191.5" y2="1830.1" stroke="#000" stroke-width="1.8" stroke-linecap="butt"/>
<line x1="1182.5" y1="1805.4" x2="1191.5" y2="1805.4" stroke="#000" stroke-width="1.8" stroke-linecap="butt"/>
<line x1="1182.5" y1="1786.8" x2="1198.5" y2="1786.8" stroke="#000" stroke-width="1.8" stroke-linecap="butt"/>
<line x1="1182.5" y1="1768.2" x2="1191.5" y2="1768.2" stroke="#000" stroke-width="1.8" stroke-linecap="butt"/>
<line x1="1182.5" y1="1743.5" x2="1191.5" y2="1743.5" stroke="#000" stroke-width="1.8" stroke-linecap="butt"/>
<line x1="1897" y1="1712.8" x2="1911" y2="1712.8" stroke="#c45ccc" stroke-width="1.8" stroke-linecap="butt"/>
<line x1="1903.5" y1="1678.6" x2="1911" y2="1678.6" stroke="#c45ccc" stroke-width="1.8" stroke-linecap="butt"/>
<line x1="1903.5" y1="1658.6" x2="1911" y2="1658.6" stroke="#c45ccc" stroke-width="1.8" stroke-linecap="butt"/>
<line x1="1903.5" y1="1644.4" x2="1911" y2="1644.4" stroke="#c45ccc" stroke-width="1.8" stroke-linecap="butt"/>
<line x1="1903.5" y1="1633.4" x2="1911" y2="1633.4" stroke="#c45ccc" stroke-width="1.8" stroke-linecap="butt"/>
<line x1="1903.5" y1="1624.4" x2="1911" y2="1624.4" stroke="#c45ccc" stroke-width="1.8" stroke-linecap="butt"/>
<line x1="1903.5" y1="1616.8" x2="1911" y2="1616.8" stroke="#c45ccc" stroke-width="1.8" stroke-linecap="butt"/>
<line x1="1903.5" y1="1610.2" x2="1911" y2="1610.2" stroke="#c45ccc" stroke-width="1.8" stroke-linecap="butt"/>
<line x1="1903.5" y1="1604.4" x2="1911" y2="1604.4" stroke="#c45ccc" stroke-width="1.8" stroke-linecap="butt"/>
<line x1="1897" y1="1599.2" x2="1911" y2="1599.2" stroke="#c45ccc" stroke-width="1.8" stroke-linecap="butt"/>
<line x1="1903.5" y1="1565" x2="1911" y2="1565" stroke="#c45ccc" stroke-width="1.8" stroke-linecap="butt"/>
<line x1="1903.5" y1="1545" x2="1911" y2="1545" stroke="#c45ccc" stroke-width="1.8" stroke-linecap="butt"/>
<line x1="1903.5" y1="1530.8" x2="1911" y2="1530.8" stroke="#c45ccc" stroke-width="1.8" stroke-linecap="butt"/>
<line x1="1903.5" y1="1519.8" x2="1911" y2="1519.8" stroke="#c45ccc" stroke-width="1.8" stroke-linecap="butt"/>
<line x1="1903.5" y1="1510.8" x2="1911" y2="1510.8" stroke="#c45ccc" stroke-width="1.8" stroke-linecap="butt"/>
<line x1="1903.5" y1="1503.2" x2="1911" y2="1503.2" stroke="#c45ccc" stroke-width="1.8" stroke-linecap="butt"/>
<line x1="1903.5" y1="1496.6" x2="1911" y2="1496.6" stroke="#c45ccc" stroke-width="1.8" stroke-linecap="butt"/>
<line x1="1903.5" y1="1490.8" x2="1911" y2="1490.8" stroke="#c45ccc" stroke-width="1.8" stroke-linecap="butt"/>
<line x1="1897" y1="1485.6" x2="1911" y2="1485.6" stroke="#c45ccc" stroke-width="1.8" stroke-linecap="butt"/>
<line x1="1903.5" y1="1451.4" x2="1911" y2="1451.4" stroke="#c45ccc" stroke-width="1.8" stroke-linecap="butt"/>
<line x1="1903.5" y1="1431.4" x2="1911" y2="1431.4" stroke="#c45ccc" stroke-width="1.8" stroke-linecap="butt"/>
<line x1="1903.5" y1="1417.2" x2="1911" y2="1417.2" stroke="#c45ccc" stroke-width="1.8" stroke-linecap="butt"/>
<line x1="1903.5" y1="1406.2" x2="1911" y2="1406.2" stroke="#c45ccc" stroke-width="1.8" stroke-linecap="butt"/>
<line x1="1897" y1="2415" x2="1911" y2="2415" stroke="#c45ccc" stroke-width="1.8" stroke-linecap="butt"/>
<line x1="1903.5" y1="2384.3" x2="1911" y2="2384.3" stroke="#c45ccc" stroke-width="1.8" stroke-linecap="butt"/>
<line x1="1903.5" y1="2353.6" x2="1911" y2="2353.6" stroke="#c45ccc" stroke-width="1.8" stroke-linecap="butt"/>
<line x1="1903.5" y1="2322.8" x2="1911" y2="2322.8" stroke="#c45ccc" stroke-width="1.8" stroke-linecap="butt"/>
<line x1="1897" y1="2292.1" x2="1911" y2="2292.1" stroke="#c45ccc" stroke-width="1.8" stroke-linecap="butt"/>
<line x1="1903.5" y1="2261.4" x2="1911" y2="2261.4" stroke="#c45ccc" stroke-width="1.8" stroke-linecap="butt"/>
<line x1="1903.5" y1="2230.7" x2="1911" y2="2230.7" stroke="#c45ccc" stroke-width="1.8" stroke-linecap="butt"/>
<line x1="1903.5" y1="2200" x2="1911" y2="2200" stroke="#c45ccc" stroke-width="1.8" stroke-linecap="butt"/>
<line x1="1897" y1="2169.2" x2="1911" y2="2169.2" stroke="#c45ccc" stroke-width="1.8" stroke-linecap="butt"/>
<line x1="1903.5" y1="2138.5" x2="1911" y2="2138.5" stroke="#c45ccc" stroke-width="1.8" stroke-linecap="butt"/>
<line x1="1903.5" y1="2107.8" x2="1911" y2="2107.8" stroke="#c45ccc" stroke-width="1.8" stroke-linecap="butt"/>
<line x1="1903.5" y1="2077.1" x2="1911" y2="2077.1" stroke="#c45ccc" stroke-width="1.8" stroke-linecap="butt"/>
<line x1="1897" y1="2046.4" x2="1911" y2="2046.4" stroke="#c45ccc" stroke-width="1.8" stroke-linecap="butt"/>
<line x1="1903.5" y1="2015.6" x2="1911" y2="2015.6" stroke="#c45ccc" stroke-width="1.8" stroke-linecap="butt"/>
<line x1="1903.5" y1="1984.9" x2="1911" y2="1984.9" stroke="#c45ccc" stroke-width="1.8" stroke-linecap="butt"/>
<line x1="1903.5" y1="1954.2" x2="1911" y2="1954.2" stroke="#c45ccc" stroke-width="1.8" stroke-linecap="butt"/>
<line x1="1897" y1="1923.5" x2="1911" y2="1923.5" stroke="#c45ccc" stroke-width="1.8" stroke-linecap="butt"/>
<line x1="1903.5" y1="1892.8" x2="1911" y2="1892.8" stroke="#c45ccc" stroke-width="1.8" stroke-linecap="butt"/>
<line x1="1903.5" y1="1862" x2="1911" y2="1862" stroke="#c45ccc" stroke-width="1.8" stroke-linecap="butt"/>
<line x1="1903.5" y1="1831.3" x2="1911" y2="1831.3" stroke="#c45ccc" stroke-width="1.8" stroke-linecap="butt"/>
<line x1="1897" y1="1800.6" x2="1911" y2="1800.6" stroke="#c45ccc" stroke-width="1.8" stroke-linecap="butt"/>
<line x1="1903.5" y1="1769.9" x2="1911" y2="1769.9" stroke="#c45ccc" stroke-width="1.8" stroke-linecap="butt"/>
<path d="M1911 1400.7 L1182.5 1400.7 L1182.5 1713 L1911 1713" fill="none" stroke="#000" stroke-width="1.8" stroke-linejoin="miter"/>
<line x1="1911" y1="1399.8" x2="1911" y2="1713.9" stroke="#c45ccc" stroke-width="1.8" stroke-linecap="butt"/>
<path d="M1911 1738.3 L1182.5 1738.3 L1182.5 2415 L1911 2415" fill="none" stroke="#000" stroke-width="1.8" stroke-linejoin="miter"/>
<line x1="1911" y1="1737.4" x2="1911" y2="2415.9" stroke="#c45ccc" stroke-width="1.8" stroke-linecap="butt"/>
<text x="1182.6" y="2453" font-size="37" fill="#000" text-anchor="middle" font-weight="normal" font-style="normal">0.1</text>
<text x="1458.5" y="2453" font-size="37" fill="#000" text-anchor="middle" font-weight="normal" font-style="normal">0.5</text>
<text x="1577.3" y="2453" font-size="37" fill="#000" text-anchor="middle" font-weight="normal" font-style="normal">1</text>
<text x="1853.2" y="2453" font-size="37" fill="#000" text-anchor="middle" font-weight="normal" font-style="normal">5</text>
<text x="1173" y="1683.4" font-size="37" fill="#000" text-anchor="end" font-weight="normal" font-style="normal">10<tspan font-size="26" dy="-11.3">0</tspan><tspan dy="11.3">​</tspan></text>
<text x="1173" y="1604.7" font-size="37" fill="#000" text-anchor="end" font-weight="normal" font-style="normal">10<tspan font-size="26" dy="-11.3">2</tspan><tspan dy="11.3">​</tspan></text>
<text x="1173" y="1526" font-size="37" fill="#000" text-anchor="end" font-weight="normal" font-style="normal">10<tspan font-size="26" dy="-11.3">4</tspan><tspan dy="11.3">​</tspan></text>
<text x="1173" y="1447.3" font-size="37" fill="#000" text-anchor="end" font-weight="normal" font-style="normal">10<tspan font-size="26" dy="-11.3">6</tspan><tspan dy="11.3">​</tspan></text>
<text x="1173" y="1796.6" font-size="37" fill="#000" text-anchor="end" font-weight="normal" font-style="normal">10<tspan font-size="26" dy="-11.3">-4</tspan><tspan dy="11.3">​</tspan></text>
<text x="1173" y="1920.5" font-size="37" fill="#000" text-anchor="end" font-weight="normal" font-style="normal">10<tspan font-size="26" dy="-11.3">-6</tspan><tspan dy="11.3">​</tspan></text>
<text x="1173" y="2044.4" font-size="37" fill="#000" text-anchor="end" font-weight="normal" font-style="normal">10<tspan font-size="26" dy="-11.3">-8</tspan><tspan dy="11.3">​</tspan></text>
<text x="1173" y="2168.3" font-size="37" fill="#000" text-anchor="end" font-weight="normal" font-style="normal">10<tspan font-size="26" dy="-11.3">-10</tspan><tspan dy="11.3">​</tspan></text>
<text x="1173" y="2292.2" font-size="37" fill="#000" text-anchor="end" font-weight="normal" font-style="normal">10<tspan font-size="26" dy="-11.3">-12</tspan><tspan dy="11.3">​</tspan></text>
<text x="1173" y="2416.1" font-size="37" fill="#000" text-anchor="end" font-weight="normal" font-style="normal">10<tspan font-size="26" dy="-11.3">-14</tspan><tspan dy="11.3">​</tspan></text>
<text x="1921" y="1722.3" font-size="37" fill="#e04ce0" text-anchor="start" font-weight="normal" font-style="normal">10</text>
<text x="1921" y="1608.7" font-size="37" fill="#e04ce0" text-anchor="start" font-weight="normal" font-style="normal">100</text>
<text x="1921" y="1495.1" font-size="37" fill="#e04ce0" text-anchor="start" font-weight="normal" font-style="normal">1000</text>
<text x="1921" y="2423.5" font-size="37" fill="#e04ce0" text-anchor="start" font-weight="normal" font-style="normal">0</text>
<text x="1921" y="2300.6" font-size="37" fill="#e04ce0" text-anchor="start" font-weight="normal" font-style="normal">0.2</text>
<text x="1921" y="2177.7" font-size="37" fill="#e04ce0" text-anchor="start" font-weight="normal" font-style="normal">0.4</text>
<text x="1921" y="2054.9" font-size="37" fill="#e04ce0" text-anchor="start" font-weight="normal" font-style="normal">0.6</text>
<text x="1921" y="1932" font-size="37" fill="#e04ce0" text-anchor="start" font-weight="normal" font-style="normal">0.8</text>
<text x="1921" y="1809.1" font-size="37" fill="#e04ce0" text-anchor="start" font-weight="normal" font-style="normal">1</text>
<text x="1084.7" y="1564" font-size="41.5" fill="#000" text-anchor="middle" font-weight="normal" font-style="normal" transform="rotate(-90 1084.7 1564)">Density (cm<tspan font-size="29" dy="-13">-3</tspan><tspan dy="13">​</tspan>)</text>
<text x="1084.1" y="2056.2" font-size="40" fill="#000" text-anchor="middle" font-weight="normal" font-style="normal" transform="rotate(-90 1084.1 2056.2)">Abundance wrt H nuclei</text>
<text x="1919.3" y="1395.5" font-size="37.3" fill="#e04ce0" text-anchor="start" font-weight="normal" font-style="normal">T<tspan font-size="27" dy="8">k</tspan><tspan dy="-8">​</tspan> (K)</text>
<text x="1982.8" y="2036.3" font-size="38" fill="#e04ce0" text-anchor="middle" font-weight="normal" font-style="normal" transform="rotate(90 1982.8 2036.3)">Molecular gas fraction, <tspan font-style="italic">f</tspan><tspan font-size="28" dy="8">H2</tspan><tspan dy="-8">​</tspan></text>
<text x="1566" y="2511.1" font-size="41.2" fill="#000" text-anchor="middle" font-weight="normal" font-style="normal">Depth into the wind (A<tspan font-size="28" dy="7">V</tspan><tspan dy="-7">​</tspan>)</text>
<text x="1041" y="1359.8" font-size="47" fill="#000" text-anchor="start" font-weight="bold" font-style="normal">d</text>
<text x="1225" y="1359.1" font-size="48.4" fill="#000" text-anchor="start" font-weight="normal" font-style="normal"><tspan font-style="italic">n</tspan><tspan font-size="34" dy="8">H</tspan><tspan dy="-8">​</tspan>=10<tspan font-size="34" dy="-17">7</tspan><tspan dy="17">​</tspan> cm<tspan font-size="34" dy="-17">-3</tspan><tspan dy="17">​</tspan> <tspan fill="#1f78c0">+</tspan> “Bigger grains”</text>
</svg>
</body></html>
